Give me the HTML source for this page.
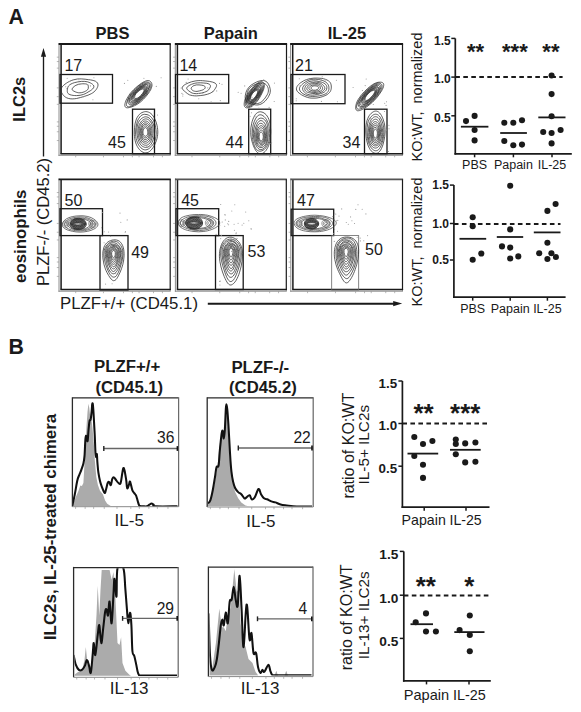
<!DOCTYPE html>
<html><head><meta charset="utf-8"><style>
html,body{margin:0;padding:0;background:#fff;width:581px;height:712px;overflow:hidden}
svg{display:block}
text{font-family:"Liberation Sans", sans-serif}
</style></head><body>
<svg width="581" height="712" viewBox="0 0 581 712">
<defs><clipPath id="c11"><rect x="61.5" y="45" width="108.5" height="108"/></clipPath><clipPath id="c12"><rect x="177.5" y="45" width="109.0" height="108"/></clipPath><clipPath id="c13"><rect x="293" y="45" width="109.5" height="108"/></clipPath><clipPath id="c21"><rect x="61.5" y="180.5" width="108.5" height="108.5"/></clipPath><clipPath id="c22"><rect x="177.5" y="180.5" width="108.69999999999999" height="108.5"/></clipPath><clipPath id="c23"><rect x="293" y="180.5" width="109.5" height="108.5"/></clipPath><clipPath id="h1"><rect x="73" y="398.7" width="105" height="107.60000000000002"/></clipPath><clipPath id="h2"><rect x="208" y="398.7" width="104.5" height="107.90000000000003"/></clipPath><clipPath id="h3"><rect x="74.4" y="568.3" width="103.1" height="107.70000000000005"/></clipPath><clipPath id="h4"><rect x="209.4" y="567.9" width="102.9" height="107.60000000000002"/></clipPath></defs>
<rect width="581" height="712" fill="#fff"/>
<text x="8.6" y="23.8" font-size="21.3" font-weight="bold" text-anchor="start" fill="#1a1a1a">A</text>
<text x="112.5" y="38.7" font-size="16.5" font-weight="bold" text-anchor="middle" fill="#1a1a1a">PBS</text>
<text x="230.8" y="38.7" font-size="16.5" font-weight="bold" text-anchor="middle" fill="#1a1a1a">Papain</text>
<text x="346.9" y="38.7" font-size="16.5" font-weight="bold" text-anchor="middle" fill="#1a1a1a">IL-25</text>
<text x="25" y="99.2" font-size="16.5" font-weight="bold" text-anchor="middle" fill="#1a1a1a" transform="rotate(-90 25 99.2)">ILC2s</text>
<text x="26" y="236.3" font-size="16.8" font-weight="bold" text-anchor="middle" fill="#1a1a1a" transform="rotate(-90 26 236.3)">eosinophils</text>
<text x="49.3" y="222" font-size="16.6" font-weight="normal" text-anchor="middle" fill="#1a1a1a" transform="rotate(-90 49.3 222)">PLZF-/- (CD45.2)</text>
<text x="60" y="308.5" font-size="16.8" font-weight="normal" text-anchor="start" fill="#1a1a1a">PLZF+/+ (CD45.1)</text>
<line x1="43.5" y1="156.5" x2="43.5" y2="55" stroke="#1a1a1a" stroke-width="1.35"/>
<path d="M43.5 48 L40.9 56.7 L46.1 56.7 Z" fill="#1a1a1a"/>
<line x1="207.8" y1="303.7" x2="394" y2="303.7" stroke="#1a1a1a" stroke-width="1.9"/>
<path d="M402.2 303.6 L393.2 301 L393.2 306.2 Z" fill="#1a1a1a"/>
<line x1="59" y1="43.2" x2="59" y2="155.89999999999998" stroke="#8c8c8c" stroke-width="1.0"/>
<line x1="58.5" y1="155.29999999999998" x2="170.7" y2="155.29999999999998" stroke="#8c8c8c" stroke-width="1.0"/>
<line x1="61.1" y1="44" x2="61.1" y2="153.7" stroke="#1a1a1a" stroke-width="1.5"/>
<line x1="58.6" y1="44" x2="170.79999999999998" y2="44" stroke="#1a1a1a" stroke-width="1.8"/>
<line x1="170.2" y1="44" x2="170.2" y2="154.39999999999998" stroke="#1a1a1a" stroke-width="1.2"/>
<line x1="60.4" y1="153.7" x2="170.79999999999998" y2="153.7" stroke="#1a1a1a" stroke-width="1.5"/>
<line x1="56.8" y1="140.536" x2="59" y2="140.536" stroke="#999" stroke-width="0.7"/>
<line x1="56.8" y1="131.76" x2="59" y2="131.76" stroke="#999" stroke-width="0.7"/>
<line x1="56.8" y1="126.27499999999999" x2="59" y2="126.27499999999999" stroke="#999" stroke-width="0.7"/>
<line x1="56.8" y1="121.887" x2="59" y2="121.887" stroke="#999" stroke-width="0.7"/>
<line x1="56.8" y1="104.335" x2="59" y2="104.335" stroke="#999" stroke-width="0.7"/>
<line x1="56.8" y1="96.65599999999999" x2="59" y2="96.65599999999999" stroke="#999" stroke-width="0.7"/>
<line x1="56.8" y1="87.88" x2="59" y2="87.88" stroke="#999" stroke-width="0.7"/>
<line x1="56.8" y1="68.134" x2="59" y2="68.134" stroke="#999" stroke-width="0.7"/>
<line x1="56.8" y1="61.55200000000001" x2="59" y2="61.55200000000001" stroke="#999" stroke-width="0.7"/>
<line x1="56.8" y1="57.164" x2="59" y2="57.164" stroke="#999" stroke-width="0.7"/>
<line x1="75.67999999999999" y1="155.29999999999998" x2="75.67999999999999" y2="157.29999999999998" stroke="#999" stroke-width="0.7"/>
<line x1="103.47999999999999" y1="155.29999999999998" x2="103.47999999999999" y2="157.29999999999998" stroke="#999" stroke-width="0.7"/>
<line x1="123.496" y1="155.29999999999998" x2="123.496" y2="157.29999999999998" stroke="#999" stroke-width="0.7"/>
<line x1="132.392" y1="155.29999999999998" x2="132.392" y2="157.29999999999998" stroke="#999" stroke-width="0.7"/>
<line x1="139.064" y1="155.29999999999998" x2="139.064" y2="157.29999999999998" stroke="#999" stroke-width="0.7"/>
<line x1="153.51999999999998" y1="155.29999999999998" x2="153.51999999999998" y2="157.29999999999998" stroke="#999" stroke-width="0.7"/>
<line x1="162.416" y1="155.29999999999998" x2="162.416" y2="157.29999999999998" stroke="#999" stroke-width="0.7"/>
<line x1="175.3" y1="43.2" x2="175.3" y2="155.89999999999998" stroke="#8c8c8c" stroke-width="1.0"/>
<line x1="174.8" y1="155.29999999999998" x2="287.0" y2="155.29999999999998" stroke="#8c8c8c" stroke-width="1.0"/>
<line x1="177.4" y1="44" x2="177.4" y2="153.7" stroke="#1a1a1a" stroke-width="1.5"/>
<line x1="174.9" y1="44" x2="287.1" y2="44" stroke="#1a1a1a" stroke-width="1.8"/>
<line x1="286.5" y1="44" x2="286.5" y2="154.39999999999998" stroke="#1a1a1a" stroke-width="1.2"/>
<line x1="176.70000000000002" y1="153.7" x2="287.1" y2="153.7" stroke="#1a1a1a" stroke-width="1.5"/>
<line x1="173.10000000000002" y1="140.536" x2="175.3" y2="140.536" stroke="#999" stroke-width="0.7"/>
<line x1="173.10000000000002" y1="131.76" x2="175.3" y2="131.76" stroke="#999" stroke-width="0.7"/>
<line x1="173.10000000000002" y1="126.27499999999999" x2="175.3" y2="126.27499999999999" stroke="#999" stroke-width="0.7"/>
<line x1="173.10000000000002" y1="121.887" x2="175.3" y2="121.887" stroke="#999" stroke-width="0.7"/>
<line x1="173.10000000000002" y1="104.335" x2="175.3" y2="104.335" stroke="#999" stroke-width="0.7"/>
<line x1="173.10000000000002" y1="96.65599999999999" x2="175.3" y2="96.65599999999999" stroke="#999" stroke-width="0.7"/>
<line x1="173.10000000000002" y1="87.88" x2="175.3" y2="87.88" stroke="#999" stroke-width="0.7"/>
<line x1="173.10000000000002" y1="68.134" x2="175.3" y2="68.134" stroke="#999" stroke-width="0.7"/>
<line x1="173.10000000000002" y1="61.55200000000001" x2="175.3" y2="61.55200000000001" stroke="#999" stroke-width="0.7"/>
<line x1="173.10000000000002" y1="57.164" x2="175.3" y2="57.164" stroke="#999" stroke-width="0.7"/>
<line x1="191.98000000000002" y1="155.29999999999998" x2="191.98000000000002" y2="157.29999999999998" stroke="#999" stroke-width="0.7"/>
<line x1="219.78" y1="155.29999999999998" x2="219.78" y2="157.29999999999998" stroke="#999" stroke-width="0.7"/>
<line x1="239.796" y1="155.29999999999998" x2="239.796" y2="157.29999999999998" stroke="#999" stroke-width="0.7"/>
<line x1="248.692" y1="155.29999999999998" x2="248.692" y2="157.29999999999998" stroke="#999" stroke-width="0.7"/>
<line x1="255.364" y1="155.29999999999998" x2="255.364" y2="157.29999999999998" stroke="#999" stroke-width="0.7"/>
<line x1="269.82" y1="155.29999999999998" x2="269.82" y2="157.29999999999998" stroke="#999" stroke-width="0.7"/>
<line x1="278.716" y1="155.29999999999998" x2="278.716" y2="157.29999999999998" stroke="#999" stroke-width="0.7"/>
<line x1="290.6" y1="43.2" x2="290.6" y2="155.89999999999998" stroke="#8c8c8c" stroke-width="1.0"/>
<line x1="290.1" y1="155.29999999999998" x2="403.0" y2="155.29999999999998" stroke="#8c8c8c" stroke-width="1.0"/>
<line x1="292.70000000000005" y1="44" x2="292.70000000000005" y2="153.7" stroke="#1a1a1a" stroke-width="1.5"/>
<line x1="290.20000000000005" y1="44" x2="403.1" y2="44" stroke="#1a1a1a" stroke-width="1.8"/>
<line x1="402.5" y1="44" x2="402.5" y2="154.39999999999998" stroke="#1a1a1a" stroke-width="1.2"/>
<line x1="292.0" y1="153.7" x2="403.1" y2="153.7" stroke="#1a1a1a" stroke-width="1.5"/>
<line x1="288.40000000000003" y1="140.536" x2="290.6" y2="140.536" stroke="#999" stroke-width="0.7"/>
<line x1="288.40000000000003" y1="131.76" x2="290.6" y2="131.76" stroke="#999" stroke-width="0.7"/>
<line x1="288.40000000000003" y1="126.27499999999999" x2="290.6" y2="126.27499999999999" stroke="#999" stroke-width="0.7"/>
<line x1="288.40000000000003" y1="121.887" x2="290.6" y2="121.887" stroke="#999" stroke-width="0.7"/>
<line x1="288.40000000000003" y1="104.335" x2="290.6" y2="104.335" stroke="#999" stroke-width="0.7"/>
<line x1="288.40000000000003" y1="96.65599999999999" x2="290.6" y2="96.65599999999999" stroke="#999" stroke-width="0.7"/>
<line x1="288.40000000000003" y1="87.88" x2="290.6" y2="87.88" stroke="#999" stroke-width="0.7"/>
<line x1="288.40000000000003" y1="68.134" x2="290.6" y2="68.134" stroke="#999" stroke-width="0.7"/>
<line x1="288.40000000000003" y1="61.55200000000001" x2="290.6" y2="61.55200000000001" stroke="#999" stroke-width="0.7"/>
<line x1="288.40000000000003" y1="57.164" x2="290.6" y2="57.164" stroke="#999" stroke-width="0.7"/>
<line x1="307.385" y1="155.29999999999998" x2="307.385" y2="157.29999999999998" stroke="#999" stroke-width="0.7"/>
<line x1="335.36" y1="155.29999999999998" x2="335.36" y2="157.29999999999998" stroke="#999" stroke-width="0.7"/>
<line x1="355.502" y1="155.29999999999998" x2="355.502" y2="157.29999999999998" stroke="#999" stroke-width="0.7"/>
<line x1="364.454" y1="155.29999999999998" x2="364.454" y2="157.29999999999998" stroke="#999" stroke-width="0.7"/>
<line x1="371.168" y1="155.29999999999998" x2="371.168" y2="157.29999999999998" stroke="#999" stroke-width="0.7"/>
<line x1="385.71500000000003" y1="155.29999999999998" x2="385.71500000000003" y2="157.29999999999998" stroke="#999" stroke-width="0.7"/>
<line x1="394.66700000000003" y1="155.29999999999998" x2="394.66700000000003" y2="157.29999999999998" stroke="#999" stroke-width="0.7"/>
<line x1="59" y1="178.5" x2="59" y2="291.8" stroke="#8c8c8c" stroke-width="1.0"/>
<line x1="58.5" y1="291.20000000000005" x2="170.7" y2="291.20000000000005" stroke="#8c8c8c" stroke-width="1.0"/>
<line x1="61.1" y1="179.3" x2="61.1" y2="289.6" stroke="#1a1a1a" stroke-width="1.5"/>
<line x1="58.6" y1="179.3" x2="170.79999999999998" y2="179.3" stroke="#1a1a1a" stroke-width="1.8"/>
<line x1="170.2" y1="179.3" x2="170.2" y2="290.3" stroke="#1a1a1a" stroke-width="1.2"/>
<line x1="60.4" y1="289.6" x2="170.79999999999998" y2="289.6" stroke="#1a1a1a" stroke-width="1.5"/>
<line x1="56.8" y1="276.36400000000003" x2="59" y2="276.36400000000003" stroke="#999" stroke-width="0.7"/>
<line x1="56.8" y1="267.54" x2="59" y2="267.54" stroke="#999" stroke-width="0.7"/>
<line x1="56.8" y1="262.02500000000003" x2="59" y2="262.02500000000003" stroke="#999" stroke-width="0.7"/>
<line x1="56.8" y1="257.613" x2="59" y2="257.613" stroke="#999" stroke-width="0.7"/>
<line x1="56.8" y1="239.96500000000003" x2="59" y2="239.96500000000003" stroke="#999" stroke-width="0.7"/>
<line x1="56.8" y1="232.24400000000003" x2="59" y2="232.24400000000003" stroke="#999" stroke-width="0.7"/>
<line x1="56.8" y1="223.42000000000002" x2="59" y2="223.42000000000002" stroke="#999" stroke-width="0.7"/>
<line x1="56.8" y1="203.56600000000003" x2="59" y2="203.56600000000003" stroke="#999" stroke-width="0.7"/>
<line x1="56.8" y1="196.94800000000004" x2="59" y2="196.94800000000004" stroke="#999" stroke-width="0.7"/>
<line x1="56.8" y1="192.536" x2="59" y2="192.536" stroke="#999" stroke-width="0.7"/>
<line x1="75.67999999999999" y1="291.20000000000005" x2="75.67999999999999" y2="293.20000000000005" stroke="#999" stroke-width="0.7"/>
<line x1="103.47999999999999" y1="291.20000000000005" x2="103.47999999999999" y2="293.20000000000005" stroke="#999" stroke-width="0.7"/>
<line x1="123.496" y1="291.20000000000005" x2="123.496" y2="293.20000000000005" stroke="#999" stroke-width="0.7"/>
<line x1="132.392" y1="291.20000000000005" x2="132.392" y2="293.20000000000005" stroke="#999" stroke-width="0.7"/>
<line x1="139.064" y1="291.20000000000005" x2="139.064" y2="293.20000000000005" stroke="#999" stroke-width="0.7"/>
<line x1="153.51999999999998" y1="291.20000000000005" x2="153.51999999999998" y2="293.20000000000005" stroke="#999" stroke-width="0.7"/>
<line x1="162.416" y1="291.20000000000005" x2="162.416" y2="293.20000000000005" stroke="#999" stroke-width="0.7"/>
<line x1="175.4" y1="178.5" x2="175.4" y2="291.8" stroke="#8c8c8c" stroke-width="1.0"/>
<line x1="174.9" y1="291.20000000000005" x2="286.8" y2="291.20000000000005" stroke="#8c8c8c" stroke-width="1.0"/>
<line x1="177.5" y1="179.3" x2="177.5" y2="289.6" stroke="#1a1a1a" stroke-width="1.5"/>
<line x1="175.0" y1="179.3" x2="286.90000000000003" y2="179.3" stroke="#555" stroke-width="1.8"/>
<line x1="286.3" y1="179.3" x2="286.3" y2="290.3" stroke="#1a1a1a" stroke-width="1.2"/>
<line x1="176.8" y1="289.6" x2="286.90000000000003" y2="289.6" stroke="#1a1a1a" stroke-width="1.5"/>
<line x1="173.20000000000002" y1="276.36400000000003" x2="175.4" y2="276.36400000000003" stroke="#999" stroke-width="0.7"/>
<line x1="173.20000000000002" y1="267.54" x2="175.4" y2="267.54" stroke="#999" stroke-width="0.7"/>
<line x1="173.20000000000002" y1="262.02500000000003" x2="175.4" y2="262.02500000000003" stroke="#999" stroke-width="0.7"/>
<line x1="173.20000000000002" y1="257.613" x2="175.4" y2="257.613" stroke="#999" stroke-width="0.7"/>
<line x1="173.20000000000002" y1="239.96500000000003" x2="175.4" y2="239.96500000000003" stroke="#999" stroke-width="0.7"/>
<line x1="173.20000000000002" y1="232.24400000000003" x2="175.4" y2="232.24400000000003" stroke="#999" stroke-width="0.7"/>
<line x1="173.20000000000002" y1="223.42000000000002" x2="175.4" y2="223.42000000000002" stroke="#999" stroke-width="0.7"/>
<line x1="173.20000000000002" y1="203.56600000000003" x2="175.4" y2="203.56600000000003" stroke="#999" stroke-width="0.7"/>
<line x1="173.20000000000002" y1="196.94800000000004" x2="175.4" y2="196.94800000000004" stroke="#999" stroke-width="0.7"/>
<line x1="173.20000000000002" y1="192.536" x2="175.4" y2="192.536" stroke="#999" stroke-width="0.7"/>
<line x1="192.035" y1="291.20000000000005" x2="192.035" y2="293.20000000000005" stroke="#999" stroke-width="0.7"/>
<line x1="219.76000000000002" y1="291.20000000000005" x2="219.76000000000002" y2="293.20000000000005" stroke="#999" stroke-width="0.7"/>
<line x1="239.722" y1="291.20000000000005" x2="239.722" y2="293.20000000000005" stroke="#999" stroke-width="0.7"/>
<line x1="248.594" y1="291.20000000000005" x2="248.594" y2="293.20000000000005" stroke="#999" stroke-width="0.7"/>
<line x1="255.248" y1="291.20000000000005" x2="255.248" y2="293.20000000000005" stroke="#999" stroke-width="0.7"/>
<line x1="269.665" y1="291.20000000000005" x2="269.665" y2="293.20000000000005" stroke="#999" stroke-width="0.7"/>
<line x1="278.53700000000003" y1="291.20000000000005" x2="278.53700000000003" y2="293.20000000000005" stroke="#999" stroke-width="0.7"/>
<line x1="290.8" y1="178.5" x2="290.8" y2="291.8" stroke="#8c8c8c" stroke-width="1.0"/>
<line x1="290.3" y1="291.20000000000005" x2="403.0" y2="291.20000000000005" stroke="#8c8c8c" stroke-width="1.0"/>
<line x1="292.90000000000003" y1="179.3" x2="292.90000000000003" y2="289.6" stroke="#1a1a1a" stroke-width="1.5"/>
<line x1="290.40000000000003" y1="179.3" x2="403.1" y2="179.3" stroke="#555" stroke-width="1.8"/>
<line x1="402.5" y1="179.3" x2="402.5" y2="290.3" stroke="#1a1a1a" stroke-width="1.2"/>
<line x1="292.2" y1="289.6" x2="403.1" y2="289.6" stroke="#1a1a1a" stroke-width="1.5"/>
<line x1="288.6" y1="276.36400000000003" x2="290.8" y2="276.36400000000003" stroke="#999" stroke-width="0.7"/>
<line x1="288.6" y1="267.54" x2="290.8" y2="267.54" stroke="#999" stroke-width="0.7"/>
<line x1="288.6" y1="262.02500000000003" x2="290.8" y2="262.02500000000003" stroke="#999" stroke-width="0.7"/>
<line x1="288.6" y1="257.613" x2="290.8" y2="257.613" stroke="#999" stroke-width="0.7"/>
<line x1="288.6" y1="239.96500000000003" x2="290.8" y2="239.96500000000003" stroke="#999" stroke-width="0.7"/>
<line x1="288.6" y1="232.24400000000003" x2="290.8" y2="232.24400000000003" stroke="#999" stroke-width="0.7"/>
<line x1="288.6" y1="223.42000000000002" x2="290.8" y2="223.42000000000002" stroke="#999" stroke-width="0.7"/>
<line x1="288.6" y1="203.56600000000003" x2="290.8" y2="203.56600000000003" stroke="#999" stroke-width="0.7"/>
<line x1="288.6" y1="196.94800000000004" x2="290.8" y2="196.94800000000004" stroke="#999" stroke-width="0.7"/>
<line x1="288.6" y1="192.536" x2="290.8" y2="192.536" stroke="#999" stroke-width="0.7"/>
<line x1="307.555" y1="291.20000000000005" x2="307.555" y2="293.20000000000005" stroke="#999" stroke-width="0.7"/>
<line x1="335.48" y1="291.20000000000005" x2="335.48" y2="293.20000000000005" stroke="#999" stroke-width="0.7"/>
<line x1="355.586" y1="291.20000000000005" x2="355.586" y2="293.20000000000005" stroke="#999" stroke-width="0.7"/>
<line x1="364.522" y1="291.20000000000005" x2="364.522" y2="293.20000000000005" stroke="#999" stroke-width="0.7"/>
<line x1="371.224" y1="291.20000000000005" x2="371.224" y2="293.20000000000005" stroke="#999" stroke-width="0.7"/>
<line x1="385.745" y1="291.20000000000005" x2="385.745" y2="293.20000000000005" stroke="#999" stroke-width="0.7"/>
<line x1="394.68100000000004" y1="291.20000000000005" x2="394.68100000000004" y2="293.20000000000005" stroke="#999" stroke-width="0.7"/>
<rect x="60" y="74.5" width="52.5" height="28.700000000000003" stroke="#1a1a1a" stroke-width="1.3" fill="none"/>
<rect x="132.5" y="109.2" width="22.0" height="44.499999999999986" stroke="#1a1a1a" stroke-width="1.3" fill="none"/>
<rect x="175.5" y="74.5" width="53.19999999999999" height="28.700000000000003" stroke="#1a1a1a" stroke-width="1.3" fill="none"/>
<rect x="248.7" y="109.2" width="22.0" height="44.499999999999986" stroke="#1a1a1a" stroke-width="1.3" fill="none"/>
<rect x="291" y="74.5" width="54" height="29.200000000000003" stroke="#1a1a1a" stroke-width="1.3" fill="none"/>
<rect x="364.5" y="109.2" width="22.5" height="44.499999999999986" stroke="#1a1a1a" stroke-width="1.3" fill="none"/>
<rect x="60" y="208.7" width="42.5" height="26.900000000000006" stroke="#1a1a1a" stroke-width="1.3" fill="none"/>
<rect x="100" y="235.6" width="28" height="54.400000000000006" stroke="#1a1a1a" stroke-width="1.3" fill="none"/>
<rect x="176" y="208.7" width="42.69999999999999" height="26.900000000000006" stroke="#1a1a1a" stroke-width="1.3" fill="none"/>
<rect x="215.5" y="235.6" width="27.69999999999999" height="53.900000000000006" stroke="#1a1a1a" stroke-width="1.3" fill="none"/>
<rect x="291.2" y="209.2" width="42.5" height="26.400000000000006" stroke="#1a1a1a" stroke-width="1.3" fill="none"/>
<rect x="331.7" y="235.6" width="27.0" height="54.400000000000006" stroke="#666" stroke-width="0.8" fill="none"/>
<g clip-path="url(#c11)">
<path d="M98.0 85.1C98.0 85.9 97.7 86.7 97.4 87.4C97.1 88.2 96.6 88.9 96.1 89.7C95.5 90.4 94.9 91.1 94.1 91.8C93.3 92.5 92.4 93.1 91.3 93.7C90.3 94.3 89.1 94.8 88.0 95.2C86.8 95.7 85.6 96.0 84.3 96.4C83.1 96.8 81.9 97.2 80.6 97.5C79.3 97.8 77.9 98.2 76.5 98.5C75.1 98.7 73.6 98.9 72.2 98.9C70.8 98.9 69.4 98.7 68.3 98.4C67.1 98.1 66.2 97.6 65.4 97.1C64.6 96.6 64.0 96.0 63.5 95.4C63.0 94.8 62.5 94.2 62.2 93.5C61.8 92.9 61.4 92.3 61.2 91.6C61.0 91.0 60.8 90.3 60.9 89.5C61.1 88.8 61.4 88.1 61.9 87.3C62.3 86.6 63.0 85.9 63.8 85.2C64.6 84.5 65.4 83.8 66.4 83.2C67.3 82.6 68.3 81.9 69.5 81.4C70.6 80.8 71.9 80.3 73.2 79.9C74.5 79.5 76.0 79.2 77.3 79.0C78.7 78.8 80.1 78.9 81.4 78.9C82.7 78.9 83.9 79.1 85.1 79.2C86.3 79.4 87.4 79.5 88.6 79.7C89.7 79.8 91.0 79.9 92.1 80.2C93.3 80.5 94.5 80.8 95.4 81.2C96.3 81.7 97.0 82.3 97.5 83.0C97.9 83.6 98.1 84.4 98.0 85.1Z" fill="none" stroke="#2a2a2a" stroke-width="0.75"/>
<path d="M93.8 85.9C94.0 86.5 93.9 87.3 93.5 87.9C93.1 88.6 92.3 89.3 91.5 89.9C90.8 90.5 89.9 91.0 89.0 91.5C88.2 92.0 87.4 92.5 86.5 93.0C85.6 93.5 84.7 94.0 83.6 94.4C82.5 94.8 81.3 95.1 80.1 95.3C79.0 95.5 77.7 95.6 76.5 95.6C75.3 95.6 74.1 95.5 73.1 95.4C72.0 95.2 70.8 95.0 70.0 94.7C69.1 94.3 68.4 93.8 67.9 93.3C67.5 92.8 67.4 92.1 67.3 91.5C67.2 90.9 67.3 90.3 67.4 89.7C67.5 89.0 67.5 88.5 67.7 87.8C67.9 87.2 68.1 86.5 68.7 85.8C69.2 85.2 70.0 84.5 71.0 84.0C71.9 83.5 73.1 83.1 74.3 82.7C75.4 82.4 76.6 82.2 77.8 81.9C79.0 81.7 80.2 81.5 81.3 81.4C82.5 81.4 83.7 81.3 84.8 81.4C85.9 81.5 86.9 81.7 87.8 81.9C88.7 82.2 89.5 82.6 90.3 82.9C91.1 83.3 91.9 83.7 92.4 84.2C93.0 84.7 93.6 85.3 93.8 85.9Z" fill="none" stroke="#2a2a2a" stroke-width="0.75"/>
<path d="M88.3 86.9C88.3 87.4 88.4 87.8 88.3 88.3C88.1 88.8 88.0 89.4 87.5 89.8C87.0 90.3 86.3 90.8 85.5 91.2C84.8 91.6 83.8 92.0 82.9 92.3C81.9 92.5 80.9 92.8 79.9 92.8C79.0 92.9 78.0 92.7 77.2 92.5C76.5 92.4 75.9 92.0 75.2 91.8C74.6 91.5 73.9 91.3 73.4 90.9C72.9 90.6 72.3 90.2 72.2 89.7C72.0 89.3 72.2 88.7 72.5 88.1C72.8 87.6 73.4 87.1 74.0 86.6C74.5 86.2 75.2 85.7 75.9 85.3C76.7 84.9 77.6 84.6 78.5 84.3C79.4 84.1 80.4 84.0 81.3 83.9C82.3 83.8 83.3 83.7 84.2 83.8C85.1 83.8 86.1 83.9 86.8 84.2C87.4 84.5 87.9 85.0 88.1 85.4C88.4 85.9 88.3 86.4 88.3 86.9Z" fill="none" stroke="#2a2a2a" stroke-width="0.75"/>
<path d="M150.9 82.0C151.2 82.4 151.5 82.8 151.7 83.3C151.8 83.8 152.0 84.4 152.0 85.0C152.0 85.7 151.9 86.5 151.6 87.3C151.4 88.1 151.0 89.1 150.5 90.1C149.9 91.0 149.3 92.1 148.6 93.1C147.9 94.1 147.1 95.2 146.2 96.2C145.4 97.2 144.5 98.2 143.5 99.2C142.6 100.2 141.5 101.1 140.5 102.0C139.5 102.8 138.4 103.5 137.4 104.2C136.4 104.8 135.4 105.3 134.5 105.7C133.6 106.2 132.7 106.5 131.9 106.8C131.0 107.1 130.2 107.3 129.5 107.5C128.7 107.7 127.9 107.8 127.3 107.8C126.6 107.7 126.0 107.6 125.6 107.3C125.2 106.9 125.0 106.4 124.9 105.9C124.7 105.3 124.8 104.5 125.0 103.7C125.1 103.0 125.4 102.1 125.7 101.2C126.0 100.3 126.5 99.4 127.0 98.5C127.5 97.5 128.1 96.5 128.8 95.5C129.4 94.5 130.2 93.4 131.1 92.4C131.9 91.5 132.9 90.5 133.8 89.5C134.8 88.6 135.8 87.7 136.8 86.8C137.8 86.0 138.8 85.2 139.8 84.4C140.8 83.7 141.9 82.9 142.9 82.4C143.9 81.8 144.9 81.3 145.7 81.0C146.6 80.7 147.4 80.6 148.1 80.6C148.8 80.6 149.3 80.8 149.8 81.0C150.2 81.3 150.6 81.6 150.9 82.0Z" fill="none" stroke="#2a2a2a" stroke-width="0.75"/>
<path d="M149.8 83.1C150.2 83.4 150.5 83.8 150.7 84.3C150.9 84.7 151.0 85.3 150.9 86.0C150.9 86.7 150.7 87.6 150.3 88.4C149.9 89.3 149.4 90.3 148.8 91.3C148.2 92.2 147.5 93.2 146.8 94.2C146.0 95.2 145.2 96.2 144.4 97.1C143.5 98.1 142.6 99.0 141.6 99.9C140.7 100.8 139.6 101.6 138.7 102.3C137.7 103.0 136.7 103.6 135.8 104.1C134.8 104.7 133.9 105.2 133.0 105.5C132.2 105.9 131.3 106.3 130.5 106.5C129.7 106.7 128.9 106.8 128.3 106.8C127.7 106.7 127.2 106.4 126.9 106.0C126.6 105.6 126.5 105.0 126.4 104.4C126.4 103.7 126.6 103.0 126.8 102.2C127.0 101.4 127.3 100.6 127.6 99.8C127.9 98.9 128.3 98.0 128.8 97.1C129.3 96.2 130.0 95.2 130.7 94.2C131.4 93.3 132.2 92.3 133.0 91.3C133.9 90.4 134.8 89.4 135.8 88.5C136.7 87.6 137.7 86.8 138.7 86.0C139.7 85.2 140.7 84.5 141.7 83.9C142.7 83.3 143.7 82.8 144.5 82.5C145.4 82.2 146.2 82.0 146.9 82.0C147.5 82.0 148.1 82.2 148.6 82.3C149.0 82.5 149.5 82.8 149.8 83.1Z" fill="none" stroke="#2a2a2a" stroke-width="0.75"/>
<path d="M149.3 83.6C149.6 84.0 149.8 84.5 149.8 85.1C149.8 85.6 149.7 86.4 149.5 87.1C149.3 87.9 148.9 88.7 148.6 89.5C148.2 90.3 147.9 91.1 147.4 92.0C146.9 92.8 146.3 93.8 145.7 94.7C145.0 95.6 144.2 96.6 143.4 97.5C142.6 98.3 141.6 99.2 140.7 100.0C139.8 100.8 138.8 101.5 137.9 102.2C137.0 102.8 136.0 103.4 135.2 103.9C134.3 104.3 133.4 104.7 132.7 104.9C131.9 105.1 131.2 105.1 130.7 105.1C130.1 105.0 129.7 104.8 129.3 104.6C128.9 104.3 128.6 104.0 128.4 103.6C128.2 103.2 127.9 102.8 127.9 102.2C127.8 101.7 127.8 101.0 128.0 100.3C128.1 99.6 128.5 98.7 128.9 97.8C129.4 96.9 130.1 95.9 130.8 95.0C131.4 94.1 132.2 93.2 133.0 92.3C133.8 91.4 134.7 90.5 135.6 89.7C136.4 88.8 137.3 88.0 138.3 87.3C139.2 86.6 140.1 85.9 141.0 85.3C141.9 84.8 142.8 84.4 143.6 84.0C144.4 83.7 145.2 83.4 145.9 83.3C146.6 83.1 147.3 83.0 147.9 83.1C148.5 83.1 149.0 83.3 149.3 83.6Z" fill="none" stroke="#2a2a2a" stroke-width="0.75"/>
<path d="M148.3 84.6C148.7 84.9 149.0 85.3 149.1 85.8C149.1 86.4 149.0 87.1 148.8 87.9C148.5 88.6 148.1 89.5 147.6 90.4C147.1 91.2 146.6 92.1 146.0 93.0C145.4 93.8 144.8 94.7 144.1 95.6C143.4 96.5 142.6 97.4 141.7 98.2C140.9 99.1 139.9 99.9 139.0 100.6C138.1 101.2 137.2 101.8 136.3 102.3C135.5 102.8 134.6 103.2 133.8 103.5C133.1 103.8 132.3 104.0 131.7 104.1C131.1 104.1 130.5 104.0 130.1 103.7C129.8 103.5 129.5 103.1 129.3 102.7C129.1 102.2 129.1 101.7 129.1 101.1C129.0 100.5 129.1 99.9 129.3 99.1C129.5 98.4 129.8 97.5 130.3 96.7C130.8 95.8 131.6 94.8 132.3 93.9C133.0 93.0 133.9 92.1 134.7 91.2C135.6 90.4 136.5 89.6 137.3 88.9C138.2 88.2 139.1 87.4 140.0 86.8C140.9 86.2 141.8 85.7 142.6 85.3C143.4 84.9 144.2 84.6 144.9 84.4C145.6 84.2 146.3 84.1 146.9 84.2C147.4 84.2 148.0 84.3 148.3 84.6Z" fill="none" stroke="#2a2a2a" stroke-width="0.75"/>
<path d="M147.5 85.5C147.7 85.8 147.8 86.4 147.8 86.9C147.8 87.5 147.7 88.1 147.5 88.8C147.3 89.5 147.1 90.2 146.8 90.9C146.4 91.7 145.9 92.6 145.4 93.4C144.8 94.3 144.0 95.2 143.3 96.0C142.5 96.8 141.7 97.6 140.9 98.4C140.0 99.1 139.1 99.8 138.3 100.4C137.5 101.0 136.6 101.5 135.8 101.9C135.0 102.3 134.3 102.5 133.6 102.7C133.0 102.8 132.4 102.8 131.9 102.8C131.4 102.7 130.9 102.6 130.6 102.4C130.2 102.1 129.8 101.8 129.7 101.4C129.6 100.9 129.6 100.3 129.8 99.6C130.0 98.9 130.4 98.0 130.9 97.2C131.4 96.3 132.0 95.5 132.6 94.6C133.2 93.8 133.9 92.9 134.7 92.1C135.4 91.3 136.2 90.5 137.0 89.8C137.8 89.0 138.7 88.3 139.5 87.7C140.3 87.2 141.2 86.6 142.0 86.2C142.8 85.8 143.6 85.4 144.3 85.2C145.0 84.9 145.8 84.8 146.3 84.8C146.8 84.9 147.2 85.1 147.5 85.5Z" fill="none" stroke="#2a2a2a" stroke-width="0.75"/>
<path d="M146.4 86.5C146.6 86.9 146.7 87.4 146.7 87.9C146.7 88.4 146.7 88.9 146.5 89.5C146.4 90.1 146.2 90.8 145.9 91.5C145.5 92.2 145.1 93.1 144.5 93.9C143.9 94.7 143.1 95.5 142.4 96.3C141.7 97.0 140.9 97.8 140.1 98.4C139.3 99.1 138.4 99.7 137.7 100.2C136.9 100.7 136.1 101.1 135.4 101.4C134.7 101.7 134.1 101.8 133.5 101.8C133.0 101.9 132.5 101.8 132.1 101.7C131.6 101.6 131.2 101.4 131.0 101.1C130.8 100.7 130.7 100.2 130.8 99.6C130.9 99.0 131.2 98.3 131.5 97.5C131.9 96.8 132.4 96.0 132.9 95.2C133.4 94.5 134.0 93.7 134.6 92.9C135.2 92.1 136.0 91.3 136.7 90.6C137.4 89.9 138.3 89.1 139.1 88.5C139.9 87.9 140.7 87.4 141.5 87.0C142.2 86.6 143.0 86.2 143.7 86.0C144.3 85.8 145.0 85.7 145.4 85.8C145.9 85.9 146.2 86.2 146.4 86.5Z" fill="none" stroke="#2a2a2a" stroke-width="0.75"/>
<path d="M145.8 87.2C146.0 87.5 146.0 88.0 146.1 88.4C146.1 88.9 146.1 89.4 145.9 90.0C145.7 90.6 145.5 91.3 145.1 92.0C144.7 92.7 144.2 93.5 143.6 94.3C143.0 95.0 142.3 95.8 141.6 96.5C140.9 97.2 140.1 97.9 139.4 98.5C138.6 99.1 137.8 99.6 137.1 100.0C136.4 100.3 135.8 100.5 135.2 100.7C134.6 100.8 134.1 100.9 133.6 100.9C133.1 100.9 132.6 100.8 132.3 100.6C132.0 100.4 131.7 100.1 131.6 99.7C131.6 99.2 131.7 98.6 131.9 98.0C132.1 97.3 132.5 96.6 132.9 95.8C133.4 95.1 133.9 94.3 134.5 93.6C135.1 92.8 135.8 92.1 136.5 91.4C137.2 90.7 138.0 90.1 138.7 89.5C139.4 88.9 140.2 88.4 140.9 88.0C141.6 87.6 142.4 87.1 143.0 86.9C143.7 86.6 144.3 86.5 144.8 86.6C145.2 86.6 145.5 86.9 145.8 87.2Z" fill="none" stroke="#2a2a2a" stroke-width="0.75"/>
<path d="M145.0 88.0C145.2 88.3 145.3 88.7 145.3 89.1C145.3 89.5 145.3 90.0 145.1 90.6C144.9 91.2 144.6 91.8 144.2 92.5C143.8 93.2 143.3 93.9 142.8 94.6C142.2 95.3 141.5 96.0 140.9 96.7C140.2 97.3 139.4 98.0 138.7 98.5C138.0 99.0 137.3 99.3 136.7 99.6C136.1 99.8 135.5 99.9 135.0 100.0C134.5 100.1 134.0 100.1 133.6 100.1C133.3 100.0 132.9 99.8 132.7 99.5C132.6 99.1 132.6 98.6 132.7 98.1C132.8 97.6 133.0 96.9 133.4 96.3C133.7 95.6 134.1 94.9 134.6 94.2C135.1 93.5 135.7 92.8 136.3 92.1C137.0 91.5 137.7 90.8 138.4 90.3C139.1 89.7 139.8 89.2 140.5 88.7C141.1 88.3 141.9 87.8 142.5 87.6C143.1 87.4 143.7 87.3 144.1 87.3C144.5 87.4 144.8 87.7 145.0 88.0Z" fill="none" stroke="#2a2a2a" stroke-width="0.75"/>
<path d="M144.4 88.6C144.6 88.9 144.7 89.2 144.7 89.7C144.7 90.1 144.6 90.7 144.3 91.3C144.0 91.9 143.6 92.6 143.1 93.3C142.7 93.9 142.1 94.6 141.6 95.3C141.0 96.0 140.3 96.7 139.6 97.3C138.9 97.8 138.2 98.3 137.5 98.7C136.9 99.0 136.3 99.1 135.8 99.2C135.3 99.3 134.8 99.3 134.5 99.2C134.1 99.1 133.8 98.9 133.7 98.5C133.6 98.2 133.6 97.7 133.7 97.2C133.8 96.7 134.0 96.1 134.4 95.4C134.7 94.8 135.2 94.0 135.7 93.3C136.3 92.7 137.0 92.0 137.6 91.4C138.3 90.8 139.0 90.3 139.7 89.8C140.3 89.4 141.0 88.9 141.7 88.7C142.3 88.4 142.9 88.2 143.3 88.2C143.8 88.2 144.1 88.3 144.4 88.6Z" fill="none" stroke="#2a2a2a" stroke-width="0.75"/>
<path d="M143.6 89.3C143.8 89.6 144.0 89.9 144.0 90.3C144.0 90.7 143.8 91.2 143.6 91.8C143.3 92.4 142.8 93.0 142.4 93.6C141.9 94.2 141.4 94.9 140.8 95.4C140.3 96.0 139.6 96.7 139.0 97.1C138.4 97.6 137.7 98.0 137.2 98.2C136.6 98.4 136.1 98.5 135.7 98.5C135.3 98.5 135.0 98.4 134.8 98.2C134.6 98.0 134.5 97.6 134.6 97.2C134.6 96.7 134.7 96.2 134.9 95.7C135.1 95.2 135.4 94.5 135.8 93.9C136.3 93.3 136.9 92.6 137.5 92.1C138.0 91.5 138.7 91.0 139.3 90.6C139.9 90.1 140.6 89.7 141.1 89.5C141.7 89.2 142.2 89.1 142.6 89.0C143.1 89.0 143.4 89.1 143.6 89.3Z" fill="none" stroke="#2a2a2a" stroke-width="0.75"/>
<path d="M157.8 132.0C157.8 133.5 157.6 135.1 157.4 136.6C157.2 138.1 156.8 139.5 156.3 140.8C155.9 142.1 155.4 143.3 154.8 144.5C154.2 145.6 153.6 146.7 153.0 147.6C152.3 148.6 151.6 149.6 150.9 150.3C150.1 151.1 149.3 151.7 148.4 152.2C147.6 152.6 146.7 152.8 145.8 152.8C144.9 152.9 144.0 152.7 143.1 152.3C142.3 151.9 141.4 151.4 140.6 150.7C139.8 150.0 139.1 149.2 138.4 148.2C137.7 147.2 137.0 146.1 136.5 144.9C136.0 143.7 135.5 142.3 135.2 140.9C134.8 139.5 134.6 138.0 134.5 136.5C134.3 135.0 134.3 133.5 134.3 132.0C134.3 130.5 134.4 129.0 134.5 127.5C134.7 126.1 134.9 124.5 135.2 123.1C135.5 121.7 135.9 120.3 136.4 119.0C136.9 117.8 137.6 116.6 138.3 115.7C139.0 114.7 139.8 114.0 140.6 113.4C141.4 112.8 142.3 112.4 143.2 112.1C144.0 111.8 144.9 111.6 145.8 111.6C146.7 111.6 147.6 111.8 148.4 112.1C149.3 112.4 150.1 112.9 150.9 113.5C151.7 114.2 152.5 115.0 153.1 116.0C153.8 116.9 154.4 118.1 155.0 119.3C155.5 120.4 156.0 121.7 156.4 123.1C156.8 124.5 157.2 125.9 157.4 127.4C157.6 128.9 157.8 130.5 157.8 132.0Z" fill="none" stroke="#2a2a2a" stroke-width="0.75"/>
<path d="M156.2 132.0C156.2 133.4 156.2 135.0 156.0 136.4C155.8 137.8 155.4 139.2 155.0 140.4C154.6 141.7 154.0 142.8 153.4 143.8C152.8 144.8 152.1 145.6 151.4 146.4C150.8 147.1 150.1 147.8 149.3 148.4C148.6 148.9 147.8 149.4 147.0 149.6C146.2 149.9 145.3 150.0 144.5 149.8C143.7 149.7 142.8 149.3 142.1 148.8C141.3 148.3 140.6 147.5 139.9 146.7C139.2 145.9 138.6 144.9 138.0 143.8C137.5 142.8 137.0 141.6 136.6 140.3C136.2 139.1 135.9 137.7 135.8 136.3C135.6 134.9 135.5 133.4 135.6 132.0C135.6 130.6 135.7 129.2 135.9 127.8C136.1 126.4 136.4 125.1 136.7 123.8C137.0 122.5 137.4 121.1 137.9 120.0C138.5 118.9 139.1 117.8 139.8 117.0C140.4 116.1 141.2 115.5 142.0 115.0C142.8 114.6 143.7 114.4 144.5 114.3C145.3 114.3 146.2 114.4 147.0 114.6C147.8 114.8 148.6 115.1 149.3 115.6C150.1 116.1 150.8 116.7 151.5 117.5C152.2 118.3 152.8 119.2 153.4 120.3C153.9 121.3 154.4 122.5 154.8 123.8C155.2 125.0 155.5 126.3 155.7 127.7C156.0 129.1 156.1 130.6 156.2 132.0Z" fill="none" stroke="#2a2a2a" stroke-width="0.75"/>
<path d="M154.7 132.0C154.6 133.3 154.4 134.7 154.2 136.0C153.9 137.2 153.6 138.4 153.2 139.6C152.8 140.7 152.4 141.8 151.9 142.8C151.4 143.7 150.8 144.7 150.1 145.4C149.5 146.1 148.7 146.7 148.0 147.0C147.2 147.3 146.4 147.5 145.7 147.4C144.9 147.4 144.1 147.2 143.4 146.8C142.6 146.5 141.9 146.0 141.2 145.3C140.6 144.7 140.0 143.8 139.4 142.8C138.9 141.9 138.5 140.7 138.1 139.6C137.8 138.4 137.5 137.2 137.3 135.9C137.1 134.6 136.9 133.3 136.9 132.0C136.8 130.7 136.8 129.3 137.0 127.9C137.1 126.6 137.4 125.3 137.8 124.1C138.2 122.9 138.7 121.8 139.3 120.9C139.9 120.1 140.6 119.3 141.3 118.7C142.0 118.1 142.7 117.7 143.4 117.4C144.2 117.0 144.9 116.8 145.7 116.8C146.4 116.8 147.2 117.0 147.9 117.3C148.7 117.6 149.4 118.2 150.0 118.8C150.7 119.5 151.3 120.3 151.9 121.2C152.5 122.1 153.0 123.1 153.4 124.2C153.8 125.4 154.2 126.6 154.4 127.9C154.6 129.2 154.7 130.7 154.7 132.0Z" fill="none" stroke="#2a2a2a" stroke-width="0.75"/>
<path d="M153.1 132.0C153.1 133.2 152.9 134.4 152.7 135.6C152.5 136.7 152.2 137.9 151.8 138.9C151.5 140.0 151.1 141.0 150.6 141.9C150.1 142.8 149.4 143.6 148.8 144.1C148.2 144.7 147.4 145.0 146.7 145.2C146.0 145.3 145.2 145.2 144.5 145.1C143.8 144.9 143.1 144.5 142.5 144.0C141.8 143.5 141.2 142.8 140.7 141.9C140.1 141.1 139.7 140.1 139.3 139.0C139.0 138.0 138.7 136.8 138.5 135.6C138.3 134.5 138.1 133.2 138.1 132.0C138.0 130.8 138.1 129.4 138.3 128.2C138.4 127.0 138.8 125.8 139.2 124.8C139.6 123.8 140.2 122.9 140.7 122.2C141.3 121.4 141.9 120.8 142.5 120.3C143.2 119.8 143.9 119.4 144.6 119.1C145.2 118.9 146.0 118.8 146.7 119.0C147.4 119.1 148.1 119.5 148.8 120.0C149.4 120.5 150.1 121.2 150.6 122.0C151.2 122.8 151.7 123.7 152.1 124.8C152.5 125.8 152.8 127.0 153.0 128.2C153.2 129.4 153.2 130.8 153.1 132.0Z" fill="none" stroke="#2a2a2a" stroke-width="0.75"/>
<path d="M151.9 132.0C151.9 133.1 151.7 134.3 151.5 135.4C151.3 136.4 151.1 137.5 150.7 138.5C150.3 139.4 149.9 140.3 149.3 141.0C148.8 141.7 148.2 142.2 147.6 142.6C146.9 143.0 146.2 143.2 145.6 143.2C144.9 143.2 144.2 143.0 143.6 142.7C142.9 142.3 142.3 141.7 141.8 141.0C141.3 140.3 140.9 139.3 140.5 138.4C140.2 137.4 139.9 136.4 139.7 135.3C139.5 134.3 139.3 133.1 139.2 132.0C139.2 130.9 139.2 129.6 139.4 128.5C139.6 127.4 139.9 126.3 140.3 125.4C140.7 124.5 141.3 123.6 141.8 123.0C142.3 122.3 143.0 121.8 143.6 121.4C144.2 121.1 144.9 120.9 145.6 121.0C146.2 121.0 146.9 121.3 147.5 121.6C148.1 122.0 148.7 122.5 149.3 123.2C149.8 123.8 150.4 124.5 150.8 125.4C151.2 126.3 151.5 127.4 151.7 128.5C151.9 129.6 152.0 130.9 151.9 132.0Z" fill="none" stroke="#2a2a2a" stroke-width="0.75"/>
<path d="M150.8 132.0C150.7 133.1 150.6 134.1 150.4 135.1C150.2 136.1 149.9 137.1 149.6 137.9C149.2 138.7 148.7 139.4 148.2 140.0C147.7 140.5 147.1 140.9 146.5 141.1C145.9 141.4 145.2 141.5 144.6 141.3C144.0 141.1 143.3 140.7 142.8 140.1C142.3 139.5 141.9 138.7 141.5 137.8C141.2 137.0 140.9 136.1 140.6 135.1C140.4 134.1 140.2 133.0 140.2 132.0C140.2 131.0 140.3 129.8 140.5 128.8C140.7 127.8 141.1 126.9 141.5 126.1C141.8 125.3 142.3 124.5 142.9 124.0C143.4 123.5 144.0 123.1 144.6 122.9C145.2 122.7 145.8 122.8 146.4 123.0C147.0 123.2 147.6 123.6 148.2 124.1C148.7 124.5 149.3 125.2 149.7 126.0C150.1 126.7 150.4 127.8 150.6 128.8C150.8 129.8 150.8 130.9 150.8 132.0Z" fill="none" stroke="#2a2a2a" stroke-width="0.75"/>
<path d="M149.9 132.0C149.8 132.9 149.7 133.9 149.6 134.7C149.4 135.6 149.1 136.4 148.7 137.1C148.3 137.7 147.9 138.3 147.4 138.7C146.9 139.1 146.4 139.4 145.9 139.5C145.4 139.6 144.8 139.7 144.3 139.5C143.7 139.3 143.2 138.8 142.8 138.2C142.4 137.6 142.1 136.8 141.8 136.0C141.5 135.2 141.4 134.3 141.3 133.4C141.2 132.5 141.1 131.5 141.2 130.6C141.3 129.7 141.5 128.8 141.8 128.0C142.1 127.3 142.4 126.5 142.8 125.9C143.2 125.3 143.8 124.8 144.3 124.5C144.8 124.3 145.4 124.3 145.9 124.4C146.4 124.6 146.9 124.9 147.4 125.3C147.9 125.7 148.3 126.2 148.7 126.9C149.1 127.5 149.4 128.4 149.6 129.2C149.8 130.1 149.9 131.1 149.9 132.0Z" fill="none" stroke="#2a2a2a" stroke-width="0.75"/>
<path d="M148.9 132.0C148.9 132.8 148.8 133.7 148.6 134.4C148.4 135.2 148.1 135.9 147.7 136.4C147.4 136.9 146.9 137.3 146.5 137.5C146.0 137.8 145.6 138.0 145.1 137.9C144.6 137.9 144.1 137.7 143.7 137.3C143.3 136.9 142.9 136.2 142.7 135.5C142.4 134.8 142.2 134.0 142.1 133.2C142.0 132.4 142.0 131.6 142.1 130.8C142.2 130.0 142.5 129.2 142.7 128.6C143.0 127.9 143.3 127.2 143.7 126.8C144.1 126.4 144.6 126.0 145.1 125.9C145.5 125.9 146.1 126.1 146.5 126.4C146.9 126.6 147.4 127.1 147.7 127.6C148.1 128.2 148.4 128.9 148.6 129.6C148.8 130.3 148.8 131.2 148.9 132.0Z" fill="none" stroke="#2a2a2a" stroke-width="0.75"/>
<path d="M147.9 132.0C147.9 132.7 147.8 133.6 147.6 134.2C147.4 134.8 147.0 135.4 146.6 135.7C146.3 136.1 145.8 136.3 145.4 136.3C145.0 136.3 144.5 136.1 144.2 135.7C143.8 135.3 143.4 134.8 143.2 134.2C143.0 133.6 142.9 132.7 142.9 132.0C142.9 131.3 143.1 130.5 143.3 129.9C143.5 129.3 143.8 128.6 144.2 128.2C144.5 127.9 145.0 127.7 145.4 127.6C145.8 127.6 146.3 127.8 146.7 128.2C147.0 128.6 147.3 129.3 147.5 129.9C147.7 130.5 147.8 131.3 147.9 132.0Z" fill="none" stroke="#2a2a2a" stroke-width="0.75"/>
</g><g clip-path="url(#c12)">
<path d="M216.4 86.5C216.2 87.1 215.8 87.7 215.5 88.2C215.2 88.8 214.8 89.3 214.4 89.8C214.0 90.4 213.6 90.9 213.0 91.5C212.3 92.0 211.6 92.5 210.7 93.0C209.8 93.4 208.7 93.9 207.6 94.2C206.5 94.6 205.2 94.8 204.0 95.1C202.7 95.3 201.5 95.5 200.2 95.6C198.9 95.8 197.5 95.9 196.3 95.9C195.0 95.9 193.6 95.8 192.5 95.6C191.4 95.4 190.3 95.1 189.4 94.8C188.6 94.4 187.9 94.0 187.3 93.5C186.7 93.1 186.2 92.7 185.7 92.2C185.2 91.8 184.6 91.4 184.2 90.9C183.7 90.5 183.1 90.0 182.7 89.5C182.4 88.9 182.1 88.4 182.2 87.8C182.3 87.2 182.6 86.6 183.1 86.0C183.7 85.4 184.5 84.9 185.3 84.4C186.2 83.9 187.2 83.4 188.2 83.0C189.2 82.6 190.3 82.2 191.5 81.8C192.6 81.5 193.8 81.2 195.1 81.0C196.3 80.8 197.6 80.6 198.9 80.6C200.1 80.5 201.3 80.6 202.5 80.7C203.7 80.7 204.8 80.8 205.9 81.0C207.1 81.1 208.2 81.2 209.3 81.4C210.4 81.6 211.6 81.8 212.6 82.1C213.5 82.4 214.5 82.8 215.2 83.2C215.8 83.7 216.3 84.2 216.5 84.8C216.7 85.3 216.5 86.0 216.4 86.5Z" fill="none" stroke="#2a2a2a" stroke-width="0.75"/>
<path d="M210.3 87.0C210.1 87.5 209.9 87.9 209.6 88.4C209.4 88.8 209.1 89.3 208.7 89.8C208.3 90.2 207.7 90.7 207.1 91.1C206.4 91.5 205.5 91.8 204.6 92.2C203.7 92.5 202.7 92.7 201.7 93.0C200.6 93.2 199.5 93.4 198.4 93.5C197.3 93.7 196.0 93.7 195.0 93.6C193.9 93.5 192.9 93.3 192.1 93.0C191.3 92.7 190.8 92.3 190.2 91.9C189.7 91.6 189.2 91.2 188.7 90.8C188.3 90.5 187.7 90.1 187.4 89.7C187.0 89.3 186.7 88.8 186.7 88.3C186.7 87.8 187.0 87.3 187.4 86.8C187.9 86.4 188.5 85.9 189.2 85.5C189.9 85.1 190.7 84.7 191.5 84.3C192.4 84.0 193.3 83.6 194.3 83.4C195.3 83.1 196.4 83.0 197.5 82.9C198.5 82.8 199.6 82.8 200.7 82.8C201.7 82.8 202.7 82.9 203.7 83.0C204.7 83.1 205.8 83.1 206.7 83.3C207.7 83.5 208.7 83.8 209.3 84.2C209.9 84.5 210.3 85.0 210.4 85.5C210.6 86.0 210.4 86.5 210.3 87.0Z" fill="none" stroke="#2a2a2a" stroke-width="0.75"/>
<path d="M205.2 87.4C205.2 87.7 205.1 88.1 204.8 88.5C204.5 88.8 204.2 89.2 203.6 89.5C203.1 89.8 202.4 90.1 201.7 90.3C201.0 90.5 200.3 90.7 199.5 90.9C198.7 91.1 197.9 91.3 197.0 91.4C196.2 91.4 195.2 91.4 194.5 91.2C193.8 91.1 193.2 90.8 192.8 90.5C192.3 90.2 192.0 89.9 191.7 89.6C191.5 89.3 191.2 88.9 191.2 88.6C191.1 88.3 191.2 87.9 191.5 87.5C191.7 87.2 192.0 86.8 192.5 86.5C192.9 86.1 193.4 85.8 194.1 85.5C194.8 85.2 195.6 85.0 196.5 84.9C197.3 84.8 198.2 84.8 199.0 84.9C199.8 84.9 200.5 85.0 201.2 85.1C201.9 85.2 202.7 85.3 203.3 85.5C203.9 85.7 204.5 86.0 204.8 86.3C205.1 86.6 205.2 87.0 205.2 87.4Z" fill="none" stroke="#2a2a2a" stroke-width="0.75"/>
<path d="M268.5 84.2C268.9 84.9 269.2 85.6 269.5 86.3C269.7 87.0 270.0 87.8 270.1 88.6C270.3 89.3 270.4 90.2 270.3 91.0C270.3 91.9 270.1 92.8 269.9 93.7C269.6 94.6 269.2 95.5 268.7 96.3C268.2 97.2 267.7 98.1 267.0 98.9C266.4 99.7 265.7 100.5 265.0 101.3C264.2 102.0 263.3 102.8 262.4 103.3C261.5 103.9 260.5 104.3 259.5 104.6C258.5 104.9 257.5 105.0 256.6 105.0C255.7 105.0 254.8 104.8 254.0 104.6C253.1 104.5 252.4 104.3 251.6 104.0C250.8 103.8 250.0 103.6 249.3 103.2C248.6 102.9 247.9 102.5 247.3 102.0C246.7 101.5 246.2 100.8 245.8 100.1C245.5 99.4 245.3 98.5 245.2 97.7C245.1 96.8 245.2 95.9 245.4 95.0C245.5 94.1 245.7 93.2 246.0 92.3C246.3 91.4 246.7 90.5 247.2 89.6C247.7 88.8 248.3 87.9 249.0 87.1C249.7 86.4 250.5 85.7 251.3 85.0C252.1 84.4 253.0 83.9 253.9 83.4C254.8 82.9 255.7 82.5 256.6 82.0C257.5 81.6 258.5 81.2 259.4 81.0C260.4 80.7 261.4 80.5 262.3 80.5C263.3 80.4 264.2 80.6 265.0 80.9C265.8 81.2 266.5 81.7 267.1 82.2C267.7 82.8 268.1 83.5 268.5 84.2Z" fill="none" stroke="#2a2a2a" stroke-width="0.75"/>
<path d="M266.8 85.5C267.3 86.1 267.7 86.7 267.9 87.5C268.2 88.2 268.4 88.9 268.4 89.7C268.5 90.5 268.4 91.4 268.2 92.3C268.0 93.1 267.6 94.0 267.2 94.8C266.7 95.6 266.2 96.4 265.7 97.1C265.2 97.9 264.6 98.7 264.0 99.5C263.3 100.2 262.6 101.0 261.8 101.6C261.0 102.2 260.0 102.8 259.1 103.1C258.2 103.5 257.2 103.6 256.3 103.6C255.4 103.7 254.5 103.5 253.7 103.3C252.9 103.1 252.2 102.8 251.5 102.5C250.8 102.2 250.2 101.8 249.6 101.4C249.0 100.9 248.5 100.4 248.1 99.7C247.8 99.1 247.5 98.4 247.3 97.6C247.2 96.9 247.1 96.1 247.1 95.3C247.1 94.5 247.1 93.6 247.3 92.8C247.5 91.9 247.8 91.0 248.3 90.1C248.7 89.3 249.3 88.4 250.1 87.7C250.8 86.9 251.7 86.3 252.5 85.8C253.4 85.3 254.3 84.9 255.1 84.5C256.0 84.2 256.9 83.9 257.7 83.6C258.6 83.3 259.5 83.0 260.4 82.9C261.3 82.8 262.2 82.8 263.0 83.0C263.8 83.1 264.6 83.5 265.2 83.9C265.9 84.3 266.4 84.9 266.8 85.5Z" fill="none" stroke="#2a2a2a" stroke-width="0.75"/>
<path d="M263.1 82.3C263.5 82.6 263.7 82.9 263.9 83.4C264.1 83.9 264.3 84.4 264.3 85.1C264.4 85.7 264.3 86.4 264.2 87.2C264.0 88.0 263.8 88.9 263.5 89.8C263.1 90.7 262.7 91.7 262.3 92.6C261.9 93.6 261.4 94.6 260.8 95.5C260.3 96.5 259.8 97.5 259.1 98.5C258.5 99.4 257.8 100.4 257.1 101.4C256.4 102.3 255.6 103.2 254.8 103.9C254.0 104.7 253.2 105.3 252.5 105.9C251.7 106.4 251.0 106.8 250.3 107.1C249.6 107.4 249.0 107.6 248.4 107.7C247.8 107.8 247.3 107.9 246.8 107.9C246.3 107.8 245.8 107.7 245.5 107.5C245.1 107.3 244.8 106.9 244.6 106.5C244.4 106.0 244.2 105.4 244.2 104.8C244.1 104.2 244.2 103.5 244.3 102.7C244.3 102.0 244.5 101.2 244.7 100.3C245.0 99.4 245.3 98.4 245.7 97.5C246.1 96.5 246.6 95.4 247.2 94.5C247.8 93.5 248.5 92.4 249.2 91.5C249.9 90.6 250.7 89.7 251.4 88.9C252.2 88.1 252.9 87.3 253.6 86.6C254.4 85.9 255.1 85.2 255.9 84.6C256.6 83.9 257.4 83.3 258.1 82.9C258.8 82.4 259.5 82.1 260.2 81.9C260.8 81.7 261.4 81.6 261.9 81.7C262.3 81.8 262.8 82.0 263.1 82.3Z" fill="none" stroke="#2a2a2a" stroke-width="0.75"/>
<path d="M262.1 83.6C262.5 83.9 262.8 84.2 263.0 84.6C263.3 85.0 263.4 85.5 263.5 86.2C263.5 86.8 263.4 87.6 263.2 88.4C263.0 89.2 262.7 90.2 262.3 91.1C261.9 92.0 261.4 92.9 261.0 93.9C260.5 94.8 260.0 95.7 259.4 96.7C258.9 97.6 258.3 98.5 257.6 99.5C257.0 100.4 256.2 101.3 255.5 102.1C254.8 102.9 254.0 103.7 253.3 104.3C252.5 104.9 251.8 105.4 251.1 105.8C250.4 106.2 249.7 106.4 249.1 106.6C248.5 106.8 248.0 106.9 247.5 106.8C247.0 106.8 246.6 106.6 246.2 106.3C245.9 106.1 245.7 105.6 245.5 105.1C245.4 104.7 245.3 104.0 245.3 103.4C245.3 102.8 245.4 102.1 245.5 101.3C245.6 100.6 245.7 99.8 246.0 99.0C246.2 98.1 246.5 97.1 247.0 96.2C247.4 95.2 248.0 94.2 248.6 93.2C249.3 92.3 250.0 91.3 250.7 90.5C251.4 89.6 252.2 88.8 252.9 88.1C253.6 87.4 254.4 86.7 255.1 86.1C255.8 85.5 256.5 84.9 257.2 84.5C257.9 84.0 258.6 83.7 259.2 83.5C259.8 83.3 260.4 83.2 260.9 83.2C261.3 83.3 261.8 83.4 262.1 83.6Z" fill="none" stroke="#2a2a2a" stroke-width="0.75"/>
<path d="M261.3 84.8C261.7 85.0 262.0 85.2 262.2 85.6C262.5 86.0 262.6 86.5 262.6 87.2C262.6 87.8 262.4 88.6 262.2 89.4C262.0 90.1 261.7 91.0 261.4 91.8C261.0 92.7 260.6 93.6 260.2 94.5C259.7 95.4 259.2 96.3 258.6 97.1C258.0 98.0 257.4 98.9 256.7 99.6C256.1 100.4 255.4 101.2 254.7 101.8C254.0 102.5 253.3 103.1 252.6 103.7C252.0 104.2 251.3 104.8 250.6 105.1C250.0 105.5 249.3 105.8 248.8 105.9C248.3 106.0 247.8 105.9 247.4 105.7C247.1 105.5 246.9 105.1 246.7 104.7C246.5 104.3 246.4 103.8 246.3 103.3C246.2 102.7 246.1 102.2 246.2 101.5C246.2 100.9 246.3 100.2 246.5 99.4C246.7 98.6 247.0 97.7 247.4 96.9C247.8 96.0 248.3 95.1 248.8 94.2C249.4 93.3 250.0 92.4 250.6 91.5C251.2 90.7 251.9 89.8 252.6 89.0C253.2 88.3 254.0 87.6 254.7 87.0C255.4 86.4 256.0 86.0 256.7 85.6C257.3 85.3 257.9 85.1 258.4 85.0C259.0 84.8 259.5 84.7 259.9 84.7C260.4 84.7 260.9 84.7 261.3 84.8Z" fill="none" stroke="#2a2a2a" stroke-width="0.75"/>
<path d="M260.8 85.5C261.0 85.8 261.2 86.3 261.3 86.8C261.4 87.3 261.4 87.9 261.4 88.5C261.3 89.2 261.3 89.9 261.1 90.6C260.9 91.3 260.6 92.2 260.2 93.0C259.9 93.8 259.4 94.7 258.9 95.6C258.4 96.4 257.9 97.3 257.3 98.1C256.7 99.0 256.0 99.8 255.4 100.6C254.7 101.3 254.0 102.1 253.3 102.6C252.6 103.1 252.0 103.6 251.4 103.8C250.8 104.1 250.2 104.2 249.7 104.3C249.2 104.4 248.7 104.4 248.3 104.3C247.9 104.2 247.5 104.1 247.2 103.8C247.0 103.6 246.7 103.1 246.6 102.6C246.6 102.1 246.6 101.4 246.8 100.7C246.9 99.9 247.2 99.1 247.5 98.3C247.8 97.5 248.2 96.6 248.6 95.7C249.1 94.9 249.6 94.0 250.1 93.1C250.7 92.3 251.3 91.5 252.0 90.7C252.6 90.0 253.3 89.3 254.0 88.6C254.6 88.0 255.3 87.4 255.9 86.9C256.6 86.4 257.3 85.9 257.9 85.6C258.5 85.2 259.2 85.0 259.6 85.0C260.1 85.0 260.5 85.2 260.8 85.5Z" fill="none" stroke="#2a2a2a" stroke-width="0.75"/>
<path d="M259.9 86.8C260.2 87.0 260.4 87.3 260.6 87.7C260.8 88.1 260.8 88.6 260.8 89.2C260.8 89.8 260.6 90.5 260.4 91.2C260.2 92.0 259.9 92.8 259.5 93.6C259.2 94.4 258.7 95.2 258.3 96.1C257.8 96.9 257.2 97.8 256.6 98.5C256.0 99.3 255.3 100.0 254.6 100.6C254.0 101.2 253.4 101.6 252.8 102.0C252.2 102.4 251.6 102.7 251.1 103.0C250.5 103.2 250.0 103.5 249.5 103.6C249.0 103.7 248.5 103.7 248.2 103.5C247.9 103.3 247.6 103.0 247.5 102.5C247.3 102.1 247.3 101.5 247.4 100.9C247.4 100.3 247.5 99.6 247.7 98.8C248.0 98.1 248.3 97.2 248.7 96.4C249.1 95.6 249.6 94.8 250.1 94.0C250.7 93.2 251.2 92.4 251.8 91.7C252.4 90.9 253.0 90.2 253.6 89.5C254.2 88.9 254.9 88.2 255.5 87.7C256.2 87.2 256.8 86.8 257.4 86.5C257.9 86.3 258.4 86.3 258.9 86.3C259.3 86.3 259.6 86.5 259.9 86.8Z" fill="none" stroke="#2a2a2a" stroke-width="0.75"/>
<path d="M259.4 87.4C259.7 87.6 259.9 87.9 260.1 88.3C260.2 88.8 260.2 89.3 260.2 89.9C260.1 90.5 259.9 91.2 259.6 91.9C259.3 92.7 259.0 93.4 258.6 94.2C258.2 94.9 257.8 95.7 257.3 96.4C256.8 97.2 256.3 98.0 255.8 98.7C255.2 99.4 254.6 100.1 254.0 100.7C253.4 101.2 252.8 101.7 252.2 102.0C251.7 102.3 251.1 102.5 250.6 102.6C250.2 102.7 249.7 102.8 249.4 102.7C249.0 102.6 248.7 102.4 248.5 102.1C248.3 101.8 248.2 101.3 248.2 100.8C248.2 100.3 248.2 99.7 248.4 99.1C248.5 98.4 248.6 97.7 248.9 97.0C249.2 96.3 249.6 95.4 250.0 94.7C250.5 93.9 251.1 93.1 251.6 92.4C252.2 91.7 252.8 91.1 253.4 90.5C253.9 89.9 254.5 89.4 255.1 88.9C255.7 88.4 256.3 87.9 256.8 87.6C257.4 87.3 257.9 87.1 258.4 87.1C258.8 87.1 259.2 87.2 259.4 87.4Z" fill="none" stroke="#2a2a2a" stroke-width="0.75"/>
<path d="M258.7 88.5C258.9 88.7 259.2 88.9 259.3 89.3C259.4 89.6 259.5 90.1 259.5 90.6C259.4 91.2 259.2 91.8 259.0 92.5C258.8 93.2 258.4 93.9 258.1 94.7C257.7 95.4 257.2 96.1 256.7 96.8C256.3 97.5 255.7 98.3 255.1 98.8C254.6 99.4 254.0 99.9 253.5 100.4C252.9 100.8 252.4 101.1 251.9 101.4C251.4 101.7 250.8 101.9 250.4 102.0C250.0 102.1 249.5 102.1 249.3 101.9C249.0 101.7 248.8 101.3 248.8 100.9C248.7 100.5 248.8 99.9 248.9 99.3C248.9 98.7 249.1 98.1 249.3 97.4C249.5 96.8 249.9 96.0 250.2 95.3C250.6 94.6 251.1 93.9 251.5 93.2C252.0 92.5 252.5 91.8 253.1 91.2C253.6 90.5 254.2 89.9 254.8 89.4C255.4 88.9 256.0 88.5 256.5 88.3C257.0 88.0 257.4 88.0 257.8 88.1C258.1 88.1 258.4 88.3 258.7 88.5Z" fill="none" stroke="#2a2a2a" stroke-width="0.75"/>
<path d="M258.1 89.2C258.4 89.4 258.7 89.6 258.8 89.9C258.9 90.2 259.0 90.6 259.0 91.2C258.9 91.7 258.7 92.4 258.4 93.1C258.1 93.7 257.7 94.4 257.3 95.1C256.9 95.8 256.5 96.5 256.0 97.1C255.6 97.7 255.0 98.4 254.5 98.9C254.0 99.4 253.5 99.9 253.0 100.2C252.5 100.6 252.0 100.9 251.5 101.0C251.1 101.2 250.6 101.3 250.3 101.2C250.0 101.2 249.7 101.0 249.6 100.7C249.4 100.3 249.4 99.8 249.4 99.4C249.5 98.9 249.6 98.3 249.7 97.8C249.8 97.2 250.0 96.6 250.3 95.9C250.5 95.3 250.9 94.5 251.4 93.8C251.8 93.2 252.3 92.5 252.9 91.9C253.4 91.3 253.9 90.8 254.4 90.4C255.0 89.9 255.5 89.6 256.0 89.3C256.4 89.1 256.9 89.0 257.2 89.0C257.6 88.9 257.9 89.1 258.1 89.2Z" fill="none" stroke="#2a2a2a" stroke-width="0.75"/>
<path d="M257.7 89.8C258.0 90.0 258.2 90.2 258.2 90.6C258.3 91.0 258.3 91.5 258.1 92.1C258.0 92.7 257.7 93.3 257.4 94.0C257.1 94.6 256.8 95.3 256.4 95.9C256.0 96.6 255.5 97.3 255.0 97.8C254.6 98.4 254.0 99.0 253.5 99.4C253.0 99.8 252.5 100.0 252.0 100.2C251.6 100.3 251.2 100.4 250.9 100.3C250.6 100.3 250.3 100.1 250.2 99.8C250.1 99.5 250.0 99.1 250.0 98.6C250.0 98.1 250.1 97.6 250.3 97.0C250.4 96.4 250.7 95.7 251.0 95.1C251.4 94.4 251.9 93.7 252.4 93.1C252.9 92.5 253.4 92.0 253.9 91.5C254.4 91.0 254.9 90.5 255.4 90.2C255.9 89.9 256.4 89.7 256.8 89.6C257.2 89.5 257.5 89.6 257.7 89.8Z" fill="none" stroke="#2a2a2a" stroke-width="0.75"/>
<path d="M257.2 90.5C257.4 90.6 257.6 90.9 257.7 91.3C257.7 91.6 257.7 92.2 257.5 92.7C257.4 93.2 257.2 93.8 256.9 94.4C256.6 95.0 256.2 95.6 255.8 96.2C255.4 96.7 254.9 97.3 254.5 97.7C254.0 98.2 253.5 98.7 253.1 99.0C252.6 99.3 252.1 99.6 251.8 99.7C251.4 99.8 251.2 99.6 251.0 99.4C250.8 99.3 250.6 99.0 250.6 98.6C250.5 98.2 250.5 97.8 250.6 97.3C250.8 96.8 251.0 96.2 251.3 95.6C251.6 95.0 251.9 94.4 252.3 93.8C252.7 93.2 253.2 92.6 253.7 92.1C254.1 91.7 254.6 91.3 255.0 91.1C255.5 90.8 255.8 90.7 256.2 90.6C256.6 90.5 257.0 90.4 257.2 90.5Z" fill="none" stroke="#2a2a2a" stroke-width="0.75"/>
<path d="M270.7 132.5C270.7 134.0 270.6 135.6 270.4 137.1C270.3 138.6 270.1 140.2 269.8 141.6C269.5 143.0 269.1 144.4 268.6 145.6C268.2 146.8 267.6 147.9 267.0 148.9C266.5 149.9 265.8 150.8 265.1 151.5C264.5 152.2 263.8 152.8 263.0 153.2C262.3 153.6 261.6 153.9 260.8 153.9C260.0 153.9 259.3 153.8 258.5 153.3C257.8 152.9 257.1 152.3 256.5 151.5C255.8 150.7 255.2 149.7 254.7 148.6C254.1 147.6 253.7 146.4 253.2 145.2C252.8 144.0 252.3 142.8 252.0 141.4C251.6 140.1 251.3 138.6 251.1 137.1C250.9 135.7 250.7 134.1 250.7 132.5C250.7 130.9 250.8 129.3 250.9 127.8C251.1 126.2 251.4 124.7 251.7 123.3C252.0 121.9 252.4 120.5 252.9 119.3C253.4 118.0 253.9 116.9 254.5 115.9C255.1 114.9 255.7 114.0 256.4 113.4C257.1 112.8 257.9 112.3 258.6 112.1C259.3 111.8 260.1 111.8 260.8 111.8C261.5 111.9 262.3 112.1 263.0 112.4C263.7 112.8 264.4 113.2 265.1 113.8C265.8 114.3 266.5 115.0 267.1 116.0C267.7 116.9 268.3 118.0 268.8 119.2C269.2 120.4 269.6 121.8 269.9 123.3C270.2 124.7 270.4 126.3 270.5 127.8C270.7 129.4 270.7 131.0 270.7 132.5Z" fill="none" stroke="#2a2a2a" stroke-width="0.75"/>
<path d="M269.7 133.2C269.7 134.6 269.6 136.1 269.4 137.6C269.2 139.0 269.0 140.4 268.7 141.7C268.3 143.0 267.9 144.3 267.4 145.3C266.9 146.4 266.3 147.3 265.7 148.0C265.2 148.7 264.5 149.3 263.9 149.8C263.2 150.2 262.6 150.6 261.9 150.8C261.2 151.1 260.5 151.3 259.8 151.2C259.1 151.1 258.4 151.0 257.7 150.5C257.1 150.1 256.4 149.4 255.8 148.5C255.2 147.7 254.7 146.6 254.3 145.4C253.8 144.3 253.5 143.0 253.2 141.7C252.8 140.3 252.6 138.9 252.4 137.5C252.3 136.1 252.2 134.6 252.2 133.2C252.2 131.7 252.3 130.2 252.5 128.8C252.6 127.4 252.9 126.0 253.2 124.7C253.6 123.5 254.0 122.3 254.4 121.1C254.9 120.0 255.4 119.0 255.9 118.1C256.5 117.2 257.1 116.4 257.7 115.8C258.4 115.3 259.1 114.9 259.8 114.8C260.5 114.7 261.2 114.8 261.9 115.1C262.6 115.4 263.3 115.8 263.9 116.4C264.5 117.0 265.1 117.6 265.7 118.4C266.3 119.2 266.9 120.1 267.3 121.1C267.8 122.1 268.3 123.3 268.6 124.6C269.0 125.8 269.3 127.3 269.4 128.7C269.6 130.1 269.7 131.7 269.7 133.2Z" fill="none" stroke="#2a2a2a" stroke-width="0.75"/>
<path d="M268.3 133.8C268.2 135.1 268.2 136.4 268.0 137.8C267.9 139.1 267.7 140.4 267.4 141.6C267.1 142.8 266.7 144.0 266.2 144.9C265.8 145.9 265.2 146.7 264.7 147.4C264.1 148.1 263.5 148.7 262.9 149.0C262.2 149.4 261.6 149.6 260.9 149.6C260.3 149.7 259.6 149.5 259.0 149.1C258.3 148.7 257.7 148.0 257.2 147.3C256.7 146.6 256.2 145.7 255.7 144.7C255.3 143.8 254.8 142.7 254.5 141.6C254.1 140.4 253.8 139.2 253.6 137.9C253.4 136.6 253.3 135.1 253.3 133.8C253.3 132.4 253.4 130.9 253.6 129.6C253.8 128.3 254.1 127.1 254.5 125.9C254.8 124.8 255.2 123.7 255.7 122.8C256.2 121.8 256.7 121.0 257.2 120.3C257.8 119.6 258.4 119.0 259.0 118.7C259.6 118.3 260.3 118.1 260.9 118.1C261.6 118.1 262.2 118.3 262.9 118.5C263.5 118.8 264.2 119.3 264.7 119.9C265.3 120.5 265.9 121.3 266.4 122.3C266.8 123.3 267.2 124.5 267.5 125.7C267.8 127.0 268.0 128.4 268.1 129.7C268.2 131.0 268.3 132.4 268.3 133.8Z" fill="none" stroke="#2a2a2a" stroke-width="0.75"/>
<path d="M267.2 134.3C267.2 135.5 267.2 136.8 267.1 138.1C267.0 139.3 266.8 140.6 266.5 141.7C266.2 142.8 265.7 143.9 265.3 144.7C264.8 145.5 264.2 146.1 263.6 146.6C263.1 147.0 262.5 147.3 261.9 147.5C261.3 147.6 260.7 147.7 260.1 147.5C259.5 147.4 258.9 147.0 258.3 146.5C257.8 146.0 257.2 145.3 256.8 144.5C256.3 143.6 255.9 142.6 255.6 141.6C255.3 140.5 255.0 139.3 254.8 138.1C254.6 136.9 254.5 135.6 254.5 134.3C254.5 133.0 254.7 131.7 254.9 130.5C255.1 129.3 255.4 128.2 255.7 127.2C256.1 126.2 256.4 125.2 256.9 124.3C257.3 123.5 257.8 122.6 258.3 122.0C258.8 121.4 259.4 120.9 260.0 120.7C260.6 120.5 261.3 120.5 261.9 120.8C262.5 121.0 263.1 121.4 263.7 122.0C264.2 122.6 264.7 123.3 265.2 124.1C265.6 125.0 266.0 126.0 266.3 127.1C266.6 128.1 266.9 129.4 267.0 130.6C267.2 131.8 267.2 133.1 267.2 134.3Z" fill="none" stroke="#2a2a2a" stroke-width="0.75"/>
<path d="M266.4 134.8C266.4 136.0 266.4 137.2 266.2 138.3C266.0 139.4 265.8 140.6 265.4 141.5C265.1 142.4 264.6 143.3 264.2 143.9C263.7 144.5 263.2 145.0 262.7 145.3C262.1 145.7 261.6 146.0 261.0 146.1C260.5 146.1 259.9 146.1 259.3 145.8C258.8 145.5 258.2 144.9 257.8 144.2C257.3 143.5 256.9 142.5 256.6 141.5C256.3 140.5 256.1 139.4 255.9 138.3C255.8 137.2 255.7 136.0 255.7 134.8C255.7 133.6 255.8 132.4 256.0 131.4C256.2 130.3 256.4 129.2 256.7 128.2C257.0 127.3 257.4 126.3 257.8 125.6C258.3 124.8 258.8 124.1 259.3 123.7C259.9 123.4 260.5 123.2 261.0 123.3C261.6 123.3 262.2 123.7 262.7 124.1C263.2 124.5 263.7 125.1 264.2 125.7C264.6 126.4 265.1 127.2 265.4 128.1C265.7 129.1 266.0 130.2 266.2 131.3C266.4 132.4 266.4 133.6 266.4 134.8Z" fill="none" stroke="#2a2a2a" stroke-width="0.75"/>
<path d="M265.6 135.2C265.6 136.3 265.6 137.5 265.4 138.5C265.2 139.6 264.9 140.6 264.6 141.4C264.2 142.2 263.8 143.0 263.3 143.5C262.9 144.0 262.4 144.4 261.9 144.6C261.4 144.7 260.8 144.6 260.3 144.4C259.8 144.2 259.3 143.8 258.9 143.3C258.4 142.8 257.9 142.2 257.6 141.4C257.2 140.6 256.9 139.6 256.8 138.5C256.6 137.5 256.6 136.3 256.6 135.2C256.6 134.2 256.7 133.1 256.9 132.1C257.1 131.0 257.3 130.0 257.6 129.2C257.9 128.3 258.4 127.6 258.8 127.0C259.3 126.5 259.8 126.1 260.3 125.9C260.8 125.7 261.4 125.6 261.9 125.8C262.4 126.0 262.9 126.4 263.3 127.0C263.8 127.6 264.1 128.5 264.5 129.3C264.8 130.1 265.0 131.1 265.2 132.1C265.4 133.1 265.6 134.2 265.6 135.2Z" fill="none" stroke="#2a2a2a" stroke-width="0.75"/>
<path d="M264.8 135.7C264.8 136.6 264.8 137.6 264.6 138.5C264.5 139.4 264.2 140.3 263.9 141.0C263.6 141.7 263.2 142.2 262.8 142.6C262.4 143.0 261.9 143.3 261.5 143.4C261.0 143.5 260.5 143.3 260.1 143.1C259.7 142.8 259.3 142.3 258.9 141.8C258.6 141.2 258.2 140.5 257.9 139.8C257.7 139.0 257.5 138.0 257.4 137.1C257.3 136.2 257.4 135.1 257.5 134.2C257.6 133.3 257.8 132.4 258.0 131.6C258.3 130.8 258.5 130.0 258.9 129.4C259.2 128.8 259.7 128.4 260.1 128.1C260.5 127.8 261.0 127.8 261.5 127.8C261.9 127.9 262.4 128.2 262.8 128.6C263.2 129.0 263.6 129.7 263.8 130.4C264.1 131.2 264.3 132.1 264.5 132.9C264.6 133.8 264.7 134.7 264.8 135.7Z" fill="none" stroke="#2a2a2a" stroke-width="0.75"/>
<path d="M264.0 136.1C264.0 136.9 264.0 137.8 263.8 138.5C263.7 139.3 263.4 140.1 263.1 140.6C262.8 141.2 262.4 141.6 262.1 141.9C261.7 142.1 261.2 142.2 260.9 142.1C260.5 142.0 260.1 141.6 259.7 141.2C259.4 140.8 259.1 140.2 258.8 139.6C258.6 138.9 258.4 138.1 258.3 137.3C258.2 136.5 258.2 135.6 258.3 134.8C258.4 133.9 258.6 133.1 258.8 132.5C259.1 131.8 259.4 131.2 259.7 130.8C260.1 130.4 260.5 130.2 260.9 130.1C261.2 130.0 261.7 130.1 262.0 130.3C262.4 130.5 262.8 130.9 263.1 131.4C263.4 132.0 263.7 132.8 263.8 133.6C264.0 134.3 264.0 135.2 264.0 136.1Z" fill="none" stroke="#2a2a2a" stroke-width="0.75"/>
<path d="M263.3 136.4C263.3 137.2 263.2 138.0 263.0 138.6C262.8 139.3 262.5 139.8 262.2 140.2C261.9 140.6 261.5 141.0 261.2 141.0C260.8 141.0 260.4 140.7 260.1 140.3C259.8 139.9 259.6 139.3 259.4 138.6C259.2 138.0 259.1 137.2 259.1 136.4C259.1 135.7 259.2 134.9 259.4 134.2C259.5 133.6 259.8 132.9 260.1 132.5C260.4 132.2 260.8 132.1 261.2 132.1C261.5 132.1 261.9 132.3 262.2 132.7C262.5 133.0 262.8 133.6 263.0 134.2C263.2 134.9 263.3 135.7 263.3 136.4Z" fill="none" stroke="#2a2a2a" stroke-width="0.75"/>
</g><g clip-path="url(#c13)">
<path d="M331.3 87.1C331.3 87.8 331.3 88.6 331.1 89.3C330.9 90.0 330.7 90.8 330.3 91.5C329.8 92.2 329.3 92.9 328.5 93.5C327.8 94.2 326.9 94.8 325.9 95.3C324.9 95.8 323.7 96.2 322.6 96.6C321.4 97.0 320.2 97.4 318.9 97.6C317.7 97.9 316.3 98.1 315.0 98.1C313.7 98.2 312.3 98.2 311.1 98.1C309.8 98.0 308.5 97.7 307.4 97.4C306.3 97.1 305.2 96.6 304.2 96.2C303.3 95.8 302.4 95.3 301.5 94.8C300.6 94.3 299.8 93.7 299.1 93.1C298.3 92.5 297.6 91.9 297.2 91.2C296.7 90.5 296.4 89.7 296.4 88.9C296.4 88.2 296.6 87.4 297.0 86.6C297.3 85.9 298.0 85.2 298.6 84.5C299.2 83.8 300.0 83.2 300.8 82.6C301.6 82.0 302.5 81.5 303.5 80.9C304.4 80.4 305.5 79.9 306.6 79.6C307.7 79.2 308.9 78.8 310.2 78.6C311.4 78.4 312.7 78.2 314.0 78.1C315.3 78.1 316.6 78.1 317.9 78.1C319.2 78.1 320.5 78.2 321.7 78.4C323.0 78.6 324.3 78.9 325.4 79.3C326.5 79.7 327.6 80.2 328.4 80.8C329.2 81.3 329.9 82.0 330.3 82.7C330.8 83.4 331.0 84.2 331.1 84.9C331.3 85.7 331.3 86.4 331.3 87.1Z" fill="none" stroke="#2a2a2a" stroke-width="0.75"/>
<path d="M328.9 87.3C328.9 87.9 329.0 88.6 328.9 89.3C328.7 90.0 328.6 90.8 328.1 91.5C327.7 92.2 327.0 92.9 326.2 93.5C325.3 94.0 324.2 94.5 323.1 94.9C322.0 95.3 320.8 95.6 319.6 95.8C318.4 96.0 317.1 96.2 315.9 96.3C314.7 96.4 313.5 96.5 312.2 96.4C311.0 96.4 309.8 96.3 308.6 96.0C307.5 95.8 306.4 95.4 305.5 95.0C304.5 94.6 303.6 94.1 302.8 93.6C302.1 93.1 301.4 92.5 300.8 91.9C300.3 91.3 299.8 90.6 299.6 89.9C299.4 89.2 299.4 88.4 299.6 87.7C299.8 87.0 300.3 86.3 300.9 85.6C301.4 85.0 302.1 84.4 302.8 83.8C303.5 83.2 304.2 82.7 305.1 82.1C305.9 81.6 306.8 81.0 307.8 80.6C308.8 80.2 310.0 79.8 311.2 79.5C312.5 79.3 313.8 79.2 315.1 79.2C316.3 79.2 317.6 79.3 318.8 79.5C320.0 79.7 321.1 80.0 322.2 80.4C323.2 80.7 324.3 81.1 325.1 81.6C325.9 82.1 326.7 82.7 327.2 83.3C327.8 83.9 328.1 84.6 328.4 85.2C328.7 85.9 328.8 86.6 328.9 87.3Z" fill="none" stroke="#2a2a2a" stroke-width="0.75"/>
<path d="M326.9 87.4C326.9 88.0 326.8 88.6 326.6 89.3C326.4 89.9 326.0 90.6 325.4 91.1C324.9 91.7 324.1 92.2 323.2 92.7C322.4 93.1 321.4 93.4 320.4 93.7C319.5 94.0 318.4 94.3 317.4 94.5C316.4 94.7 315.3 94.9 314.2 95.0C313.1 95.1 311.9 95.2 310.8 95.0C309.7 94.9 308.5 94.7 307.6 94.3C306.7 94.0 305.9 93.5 305.3 93.0C304.6 92.5 304.1 91.9 303.7 91.4C303.2 90.8 302.9 90.2 302.7 89.6C302.6 89.0 302.6 88.3 302.7 87.7C302.9 87.1 303.2 86.5 303.6 85.9C304.0 85.3 304.6 84.7 305.2 84.2C305.8 83.6 306.4 83.1 307.2 82.6C308.0 82.1 309.0 81.7 310.0 81.4C311.1 81.1 312.3 80.9 313.4 80.8C314.5 80.8 315.7 80.9 316.8 81.0C317.8 81.2 318.9 81.4 319.8 81.7C320.8 81.9 321.8 82.2 322.6 82.5C323.5 82.9 324.3 83.3 324.9 83.8C325.6 84.3 326.1 84.9 326.4 85.5C326.7 86.1 326.8 86.7 326.9 87.4Z" fill="none" stroke="#2a2a2a" stroke-width="0.75"/>
<path d="M324.7 87.5C324.9 88.0 324.9 88.7 324.6 89.2C324.4 89.8 323.9 90.3 323.3 90.8C322.8 91.3 322.0 91.8 321.2 92.2C320.5 92.6 319.6 92.9 318.7 93.2C317.8 93.4 316.7 93.5 315.7 93.6C314.8 93.6 313.8 93.6 312.9 93.5C311.9 93.4 311.0 93.2 310.1 93.0C309.2 92.8 308.3 92.6 307.6 92.3C306.8 92.0 306.0 91.5 305.6 91.0C305.1 90.6 304.9 89.9 304.8 89.4C304.7 88.8 304.8 88.2 305.0 87.7C305.1 87.1 305.4 86.6 305.7 86.0C306.1 85.5 306.6 85.0 307.2 84.5C307.8 84.1 308.6 83.6 309.5 83.3C310.3 83.0 311.2 82.7 312.2 82.5C313.2 82.4 314.2 82.2 315.2 82.2C316.2 82.2 317.2 82.2 318.2 82.4C319.1 82.6 319.9 82.9 320.6 83.3C321.4 83.6 321.9 84.1 322.4 84.5C323.0 85.0 323.4 85.4 323.8 85.9C324.2 86.4 324.6 86.9 324.7 87.5Z" fill="none" stroke="#2a2a2a" stroke-width="0.75"/>
<path d="M322.5 87.6C322.6 88.1 322.7 88.7 322.5 89.2C322.2 89.7 321.7 90.2 321.1 90.7C320.6 91.1 319.7 91.4 318.9 91.7C318.1 92.0 317.3 92.2 316.4 92.4C315.5 92.5 314.5 92.5 313.7 92.5C312.8 92.4 311.9 92.2 311.1 92.0C310.4 91.8 309.6 91.5 308.9 91.2C308.3 90.9 307.6 90.4 307.3 90.0C306.9 89.5 306.8 88.9 306.8 88.4C306.9 87.9 307.2 87.4 307.5 86.9C307.8 86.4 308.2 85.9 308.7 85.5C309.2 85.0 309.8 84.6 310.6 84.3C311.3 83.9 312.3 83.7 313.2 83.6C314.0 83.4 315.0 83.4 315.9 83.4C316.8 83.5 317.8 83.6 318.6 83.8C319.3 84.1 320.0 84.4 320.6 84.8C321.1 85.2 321.4 85.7 321.7 86.2C322.0 86.6 322.3 87.1 322.5 87.6Z" fill="none" stroke="#2a2a2a" stroke-width="0.75"/>
<path d="M320.4 87.7C320.5 88.1 320.5 88.6 320.3 89.0C320.0 89.4 319.6 89.8 319.1 90.2C318.6 90.5 317.9 90.8 317.2 90.9C316.5 91.1 315.7 91.3 315.0 91.3C314.3 91.3 313.5 91.2 312.8 91.1C312.2 90.9 311.6 90.7 311.0 90.4C310.5 90.2 309.9 89.9 309.5 89.6C309.1 89.2 308.8 88.7 308.8 88.3C308.8 87.9 309.1 87.4 309.4 87.0C309.7 86.6 310.2 86.2 310.7 85.9C311.2 85.6 311.8 85.3 312.5 85.1C313.2 84.9 313.9 84.8 314.7 84.8C315.4 84.7 316.2 84.7 316.9 84.8C317.6 84.9 318.4 85.1 318.9 85.4C319.4 85.6 319.8 86.1 320.1 86.5C320.3 86.9 320.4 87.3 320.4 87.7Z" fill="none" stroke="#2a2a2a" stroke-width="0.75"/>
<path d="M318.7 87.8C318.8 88.1 318.6 88.5 318.3 88.8C318.1 89.1 317.6 89.4 317.1 89.6C316.6 89.9 316.1 90.1 315.5 90.2C314.9 90.3 314.2 90.3 313.6 90.2C313.0 90.1 312.5 89.8 312.2 89.6C311.8 89.3 311.4 89.0 311.3 88.7C311.1 88.4 311.1 88.0 311.2 87.7C311.3 87.3 311.5 86.9 311.8 86.7C312.2 86.4 312.8 86.1 313.4 86.0C313.9 85.8 314.6 85.8 315.2 85.9C315.8 85.9 316.5 85.9 317.0 86.1C317.5 86.2 318.0 86.5 318.3 86.8C318.6 87.1 318.7 87.5 318.7 87.8Z" fill="none" stroke="#2a2a2a" stroke-width="0.75"/>
<path d="M382.4 82.6C382.8 82.8 383.2 83.1 383.5 83.6C383.7 84.0 383.8 84.6 383.7 85.4C383.7 86.1 383.4 87.0 383.0 88.0C382.7 88.9 382.1 90.0 381.5 91.0C380.9 92.0 380.2 93.1 379.4 94.2C378.7 95.3 377.9 96.4 377.0 97.4C376.1 98.5 375.1 99.6 374.1 100.6C373.2 101.6 372.1 102.6 371.1 103.4C370.0 104.3 369.0 105.1 368.0 105.9C367.0 106.6 365.9 107.3 365.0 107.9C364.0 108.5 363.0 109.1 362.1 109.5C361.1 110.0 360.2 110.4 359.4 110.6C358.6 110.8 357.9 110.8 357.3 110.7C356.8 110.5 356.4 110.2 356.1 109.8C355.8 109.4 355.7 108.7 355.7 108.1C355.6 107.5 355.7 106.8 355.8 106.1C355.9 105.3 356.1 104.6 356.3 103.7C356.6 102.8 357.0 101.9 357.4 100.9C357.9 100.0 358.5 98.9 359.3 97.8C360.0 96.8 360.8 95.6 361.7 94.6C362.6 93.5 363.6 92.4 364.6 91.4C365.6 90.3 366.6 89.3 367.7 88.4C368.7 87.5 369.8 86.6 370.9 85.8C371.9 85.0 373.0 84.3 374.0 83.8C374.9 83.3 375.8 82.9 376.7 82.6C377.5 82.4 378.2 82.3 378.9 82.2C379.6 82.1 380.2 82.1 380.8 82.2C381.3 82.3 381.9 82.3 382.4 82.6Z" fill="none" stroke="#2a2a2a" stroke-width="0.75"/>
<path d="M381.1 83.9C381.4 84.2 381.8 84.5 381.9 85.0C382.1 85.5 382.2 86.1 382.1 86.8C382.0 87.5 381.8 88.4 381.4 89.3C381.0 90.2 380.4 91.3 379.8 92.3C379.2 93.3 378.5 94.4 377.7 95.4C376.9 96.4 376.1 97.5 375.2 98.5C374.3 99.5 373.3 100.6 372.3 101.5C371.3 102.4 370.2 103.3 369.2 104.0C368.3 104.7 367.3 105.4 366.3 106.0C365.4 106.5 364.5 107.0 363.6 107.5C362.7 107.9 361.8 108.4 361.0 108.7C360.1 108.9 359.3 109.2 358.7 109.2C358.0 109.2 357.5 109.0 357.1 108.7C356.8 108.3 356.6 107.7 356.6 107.1C356.6 106.5 356.7 105.7 356.9 104.9C357.1 104.1 357.4 103.2 357.8 102.3C358.2 101.4 358.7 100.4 359.3 99.5C359.9 98.5 360.6 97.4 361.3 96.4C362.1 95.4 363.0 94.3 363.9 93.3C364.8 92.3 365.7 91.4 366.7 90.4C367.7 89.5 368.7 88.5 369.7 87.7C370.7 86.8 371.8 86.0 372.8 85.3C373.8 84.6 374.8 84.0 375.7 83.7C376.5 83.3 377.4 83.1 378.1 83.0C378.7 82.9 379.3 83.0 379.8 83.2C380.3 83.3 380.7 83.6 381.1 83.9Z" fill="none" stroke="#2a2a2a" stroke-width="0.75"/>
<path d="M380.2 84.7C380.6 85.0 380.8 85.4 380.9 86.0C381.0 86.5 380.9 87.2 380.7 87.9C380.5 88.7 380.2 89.5 379.8 90.4C379.4 91.2 378.9 92.1 378.3 93.1C377.8 94.0 377.2 94.9 376.5 95.9C375.8 96.9 375.0 97.9 374.1 98.9C373.3 99.9 372.3 100.9 371.3 101.7C370.4 102.6 369.4 103.4 368.4 104.0C367.5 104.7 366.6 105.2 365.7 105.6C364.8 106.1 364.0 106.4 363.3 106.7C362.5 107.0 361.8 107.2 361.1 107.3C360.5 107.3 360.0 107.3 359.5 107.1C359.1 106.9 358.8 106.6 358.6 106.2C358.4 105.8 358.3 105.3 358.2 104.7C358.2 104.1 358.2 103.4 358.4 102.7C358.6 101.9 358.9 101.1 359.4 100.1C359.9 99.2 360.5 98.2 361.3 97.2C362.0 96.2 362.9 95.2 363.7 94.2C364.6 93.3 365.5 92.4 366.4 91.5C367.3 90.6 368.2 89.8 369.2 89.0C370.1 88.2 371.1 87.4 372.0 86.8C372.9 86.1 373.9 85.5 374.7 85.1C375.6 84.7 376.4 84.4 377.1 84.3C377.8 84.1 378.4 84.1 378.9 84.2C379.4 84.2 379.9 84.4 380.2 84.7Z" fill="none" stroke="#2a2a2a" stroke-width="0.75"/>
<path d="M379.2 85.8C379.5 86.0 379.7 86.5 379.8 87.0C379.8 87.6 379.7 88.2 379.6 89.0C379.4 89.7 379.1 90.5 378.7 91.3C378.4 92.2 377.9 93.1 377.2 94.1C376.6 95.0 375.8 96.1 375.0 97.0C374.2 97.9 373.2 98.9 372.3 99.7C371.4 100.5 370.5 101.3 369.6 102.0C368.7 102.7 367.8 103.4 366.9 104.0C366.0 104.6 365.1 105.2 364.3 105.6C363.5 106.0 362.6 106.3 362.0 106.4C361.3 106.5 360.8 106.4 360.3 106.3C359.9 106.1 359.6 105.7 359.4 105.3C359.2 104.9 359.1 104.3 359.2 103.7C359.3 103.0 359.5 102.2 359.8 101.4C360.2 100.6 360.7 99.6 361.3 98.7C361.9 97.8 362.6 96.8 363.3 95.9C364.0 95.0 364.7 94.0 365.5 93.1C366.3 92.2 367.2 91.2 368.1 90.4C369.0 89.5 370.0 88.6 370.9 88.0C371.9 87.3 372.8 86.8 373.6 86.4C374.5 86.0 375.2 85.7 375.9 85.6C376.6 85.4 377.3 85.3 377.8 85.3C378.4 85.3 378.9 85.5 379.2 85.8Z" fill="none" stroke="#2a2a2a" stroke-width="0.75"/>
<path d="M378.1 86.9C378.3 87.2 378.5 87.6 378.6 88.0C378.7 88.5 378.8 89.0 378.7 89.7C378.6 90.3 378.3 91.1 377.9 92.0C377.4 92.8 376.8 93.7 376.2 94.6C375.5 95.6 374.8 96.5 374.0 97.4C373.2 98.3 372.3 99.2 371.5 100.0C370.6 100.8 369.7 101.5 368.8 102.1C368.0 102.7 367.1 103.2 366.4 103.6C365.6 104.0 364.9 104.3 364.2 104.6C363.5 104.8 362.8 105.0 362.2 105.1C361.6 105.2 361.0 105.1 360.7 104.9C360.3 104.7 360.1 104.2 360.1 103.7C360.1 103.1 360.3 102.4 360.5 101.6C360.8 100.9 361.2 100.1 361.6 99.3C362.0 98.4 362.5 97.5 363.2 96.7C363.8 95.8 364.5 94.8 365.3 94.0C366.0 93.1 366.9 92.2 367.8 91.4C368.6 90.6 369.5 89.9 370.4 89.2C371.2 88.5 372.2 87.8 373.0 87.4C373.8 86.9 374.7 86.5 375.3 86.3C376.0 86.1 376.6 86.1 377.0 86.2C377.5 86.3 377.8 86.6 378.1 86.9Z" fill="none" stroke="#2a2a2a" stroke-width="0.75"/>
<path d="M377.6 87.4C377.9 87.6 378.1 88.0 378.1 88.5C378.1 89.0 377.9 89.8 377.6 90.5C377.4 91.2 377.0 92.0 376.5 92.7C376.1 93.5 375.6 94.3 375.0 95.2C374.4 96.0 373.7 96.9 373.0 97.7C372.3 98.5 371.5 99.3 370.6 100.0C369.8 100.7 369.0 101.4 368.2 102.0C367.3 102.6 366.5 103.2 365.7 103.6C365.0 103.9 364.2 104.2 363.7 104.2C363.1 104.3 362.7 104.1 362.4 103.9C362.1 103.7 362.0 103.3 361.8 102.9C361.7 102.5 361.6 102.1 361.6 101.5C361.7 101.0 361.8 100.4 362.0 99.7C362.3 99.0 362.7 98.1 363.2 97.3C363.8 96.5 364.4 95.6 365.1 94.7C365.8 93.9 366.6 93.0 367.4 92.2C368.2 91.5 369.1 90.7 369.9 90.1C370.7 89.4 371.5 88.9 372.3 88.5C373.0 88.1 373.7 87.8 374.4 87.6C375.0 87.4 375.7 87.2 376.2 87.2C376.7 87.1 377.3 87.2 377.6 87.4Z" fill="none" stroke="#2a2a2a" stroke-width="0.75"/>
<path d="M376.7 88.3C376.9 88.6 376.9 89.1 376.9 89.6C376.9 90.0 376.8 90.6 376.6 91.2C376.5 91.8 376.3 92.5 375.9 93.2C375.5 93.9 375.0 94.8 374.4 95.6C373.8 96.4 373.0 97.3 372.2 98.0C371.5 98.8 370.7 99.5 369.9 100.1C369.1 100.7 368.3 101.3 367.6 101.7C366.9 102.1 366.2 102.5 365.6 102.7C365.0 102.9 364.4 103.0 364.0 103.0C363.5 103.0 363.1 102.9 362.8 102.7C362.4 102.5 362.2 102.2 362.1 101.8C362.0 101.4 362.1 100.8 362.3 100.1C362.6 99.4 363.1 98.6 363.5 97.8C364.0 97.0 364.6 96.2 365.2 95.5C365.8 94.7 366.5 93.9 367.2 93.1C367.9 92.4 368.7 91.6 369.4 91.0C370.2 90.3 371.0 89.7 371.8 89.3C372.5 88.8 373.2 88.5 373.9 88.2C374.5 88.0 375.2 87.8 375.6 87.8C376.1 87.8 376.4 88.0 376.7 88.3Z" fill="none" stroke="#2a2a2a" stroke-width="0.75"/>
<path d="M376.0 89.0C376.2 89.3 376.2 89.7 376.2 90.2C376.2 90.7 376.1 91.2 375.9 91.8C375.7 92.4 375.4 93.0 375.1 93.7C374.7 94.4 374.1 95.3 373.5 96.0C372.9 96.7 372.1 97.5 371.4 98.2C370.7 98.8 370.0 99.4 369.3 100.0C368.6 100.5 367.8 101.0 367.2 101.3C366.6 101.7 365.9 101.9 365.4 102.0C364.9 102.2 364.4 102.1 364.1 102.1C363.7 102.0 363.3 101.8 363.2 101.5C363.0 101.2 362.9 100.8 363.0 100.3C363.1 99.7 363.4 99.0 363.8 98.3C364.1 97.6 364.7 96.8 365.3 96.1C365.8 95.3 366.4 94.6 367.0 93.9C367.7 93.2 368.4 92.4 369.1 91.8C369.8 91.2 370.5 90.6 371.2 90.2C371.9 89.7 372.6 89.3 373.2 89.1C373.9 88.8 374.5 88.6 374.9 88.6C375.4 88.6 375.8 88.7 376.0 89.0Z" fill="none" stroke="#2a2a2a" stroke-width="0.75"/>
<path d="M375.2 89.7C375.5 89.9 375.7 90.3 375.6 90.8C375.6 91.2 375.4 91.9 375.1 92.5C374.8 93.2 374.3 93.9 373.9 94.6C373.4 95.3 372.8 96.1 372.2 96.7C371.5 97.4 370.8 98.1 370.1 98.7C369.5 99.3 368.7 99.9 368.0 100.3C367.4 100.8 366.6 101.2 366.0 101.4C365.5 101.6 365.0 101.5 364.7 101.4C364.4 101.2 364.3 100.8 364.2 100.5C364.1 100.1 364.1 99.6 364.2 99.1C364.4 98.6 364.6 97.9 365.0 97.3C365.3 96.6 365.9 95.9 366.4 95.1C367.0 94.4 367.6 93.7 368.3 93.0C369.0 92.3 369.7 91.7 370.4 91.2C371.1 90.7 371.8 90.3 372.4 90.1C373.0 89.8 373.5 89.7 374.0 89.6C374.5 89.6 375.0 89.5 375.2 89.7Z" fill="none" stroke="#2a2a2a" stroke-width="0.75"/>
<path d="M374.5 90.4C374.8 90.6 374.9 91.0 374.8 91.5C374.7 91.9 374.5 92.5 374.2 93.1C373.9 93.7 373.5 94.4 373.1 95.0C372.6 95.6 372.0 96.3 371.4 96.9C370.8 97.5 370.2 98.1 369.6 98.6C368.9 99.1 368.2 99.7 367.6 100.0C367.1 100.3 366.5 100.5 366.1 100.5C365.7 100.5 365.4 100.3 365.2 100.1C365.0 99.8 364.9 99.5 365.0 99.1C365.0 98.7 365.1 98.2 365.3 97.6C365.6 97.0 366.0 96.3 366.5 95.7C367.0 95.1 367.5 94.3 368.1 93.7C368.7 93.1 369.4 92.5 370.0 92.0C370.6 91.5 371.3 91.2 371.8 90.9C372.4 90.7 372.9 90.5 373.4 90.4C373.8 90.3 374.3 90.2 374.5 90.4Z" fill="none" stroke="#2a2a2a" stroke-width="0.75"/>
<path d="M385.1 132.0C385.0 133.6 384.9 135.1 384.7 136.6C384.5 138.1 384.2 139.5 383.9 140.9C383.6 142.3 383.3 143.6 382.9 144.9C382.5 146.2 382.0 147.4 381.5 148.5C381.0 149.6 380.3 150.6 379.7 151.3C379.1 152.1 378.3 152.6 377.6 153.0C376.9 153.3 376.1 153.4 375.4 153.3C374.7 153.2 373.9 152.9 373.2 152.5C372.5 152.1 371.8 151.6 371.2 150.9C370.6 150.2 369.9 149.3 369.4 148.3C368.8 147.3 368.3 146.2 367.9 145.0C367.5 143.7 367.1 142.3 366.8 140.9C366.5 139.6 366.3 138.1 366.1 136.6C366.0 135.1 365.8 133.6 365.8 132.0C365.7 130.4 365.7 128.8 365.8 127.3C366.0 125.7 366.2 124.1 366.5 122.7C366.8 121.2 367.2 119.8 367.7 118.7C368.1 117.5 368.7 116.4 369.3 115.5C369.9 114.6 370.6 113.9 371.2 113.3C371.9 112.7 372.6 112.1 373.3 111.8C374.0 111.4 374.7 111.1 375.4 111.1C376.1 111.0 376.9 111.1 377.6 111.5C378.3 111.8 379.0 112.3 379.6 113.0C380.3 113.7 380.9 114.6 381.5 115.6C382.0 116.5 382.5 117.7 383.0 118.9C383.5 120.1 383.9 121.4 384.2 122.8C384.5 124.2 384.8 125.8 384.9 127.3C385.1 128.8 385.1 130.4 385.1 132.0Z" fill="none" stroke="#2a2a2a" stroke-width="0.75"/>
<path d="M383.9 132.3C383.9 133.7 383.7 135.2 383.5 136.6C383.3 138.0 383.1 139.3 382.7 140.6C382.4 141.9 382.1 143.1 381.6 144.2C381.2 145.4 380.8 146.5 380.2 147.4C379.7 148.3 379.1 149.2 378.5 149.7C377.8 150.3 377.1 150.6 376.4 150.7C375.8 150.9 375.0 150.7 374.4 150.5C373.7 150.2 373.1 149.7 372.4 149.2C371.8 148.6 371.2 147.9 370.7 147.1C370.1 146.3 369.6 145.3 369.2 144.2C368.7 143.2 368.3 141.9 368.0 140.6C367.7 139.4 367.5 138.0 367.3 136.6C367.1 135.2 367.0 133.7 367.0 132.3C367.0 130.8 367.0 129.3 367.1 127.8C367.2 126.4 367.4 124.9 367.7 123.5C368.0 122.2 368.5 120.9 368.9 119.9C369.4 118.8 370.0 117.9 370.6 117.2C371.2 116.5 371.8 115.9 372.5 115.4C373.1 115.0 373.7 114.6 374.4 114.4C375.1 114.2 375.7 114.1 376.4 114.3C377.1 114.4 377.8 114.7 378.4 115.2C379.0 115.7 379.6 116.4 380.2 117.2C380.7 118.1 381.3 119.1 381.7 120.1C382.2 121.2 382.6 122.4 382.9 123.7C383.2 125.0 383.5 126.4 383.7 127.8C383.8 129.3 383.9 130.8 383.9 132.3Z" fill="none" stroke="#2a2a2a" stroke-width="0.75"/>
<path d="M382.8 132.5C382.8 133.9 382.7 135.3 382.6 136.7C382.4 138.0 382.1 139.3 381.8 140.5C381.4 141.6 381.0 142.7 380.5 143.6C380.1 144.5 379.5 145.3 379.0 146.0C378.5 146.7 377.9 147.2 377.3 147.6C376.7 147.9 376.0 148.1 375.4 148.1C374.8 148.1 374.1 147.8 373.5 147.5C372.9 147.2 372.3 146.7 371.8 146.1C371.2 145.5 370.7 144.7 370.2 143.8C369.7 142.9 369.2 141.8 368.9 140.6C368.6 139.4 368.4 138.0 368.2 136.7C368.1 135.3 368.1 133.9 368.1 132.5C368.2 131.1 368.3 129.8 368.5 128.5C368.7 127.2 368.9 125.9 369.2 124.7C369.5 123.6 369.9 122.4 370.3 121.4C370.7 120.4 371.2 119.6 371.8 118.9C372.3 118.2 372.9 117.7 373.5 117.3C374.1 116.9 374.8 116.7 375.4 116.7C376.0 116.6 376.7 116.8 377.3 117.1C377.9 117.4 378.5 118.0 379.1 118.7C379.6 119.4 380.1 120.4 380.5 121.4C380.9 122.4 381.3 123.6 381.6 124.8C381.9 125.9 382.2 127.2 382.4 128.5C382.6 129.8 382.7 131.1 382.8 132.5Z" fill="none" stroke="#2a2a2a" stroke-width="0.75"/>
<path d="M381.7 132.7C381.8 134.0 381.7 135.4 381.5 136.6C381.3 137.8 381.0 139.0 380.6 140.0C380.3 141.1 379.9 142.0 379.4 142.8C379.0 143.6 378.5 144.3 378.0 144.8C377.4 145.3 376.8 145.7 376.3 145.8C375.7 146.0 375.1 145.9 374.5 145.8C374.0 145.6 373.4 145.3 372.8 144.9C372.3 144.4 371.7 143.8 371.3 143.0C370.8 142.3 370.4 141.3 370.0 140.2C369.7 139.1 369.5 137.8 369.4 136.6C369.2 135.3 369.2 134.0 369.3 132.7C369.3 131.5 369.4 130.2 369.5 129.0C369.7 127.8 369.9 126.6 370.2 125.5C370.5 124.4 370.9 123.4 371.3 122.5C371.8 121.7 372.3 121.0 372.8 120.5C373.4 120.0 373.9 119.6 374.5 119.4C375.1 119.2 375.7 119.1 376.3 119.3C376.9 119.5 377.5 119.9 378.0 120.5C378.5 121.0 379.0 121.8 379.4 122.7C379.8 123.6 380.2 124.6 380.5 125.6C380.8 126.6 381.2 127.7 381.4 128.9C381.6 130.1 381.7 131.4 381.7 132.7Z" fill="none" stroke="#2a2a2a" stroke-width="0.75"/>
<path d="M380.5 132.9C380.5 134.1 380.4 135.2 380.3 136.3C380.1 137.4 379.9 138.6 379.6 139.6C379.3 140.5 378.9 141.5 378.5 142.2C378.1 142.9 377.6 143.5 377.0 143.8C376.5 144.2 375.9 144.4 375.4 144.4C374.9 144.4 374.3 144.2 373.8 143.8C373.3 143.4 372.8 142.8 372.3 142.1C371.9 141.3 371.6 140.4 371.3 139.4C371.0 138.5 370.7 137.4 370.5 136.4C370.3 135.3 370.2 134.1 370.1 132.9C370.1 131.8 370.2 130.5 370.3 129.4C370.5 128.2 370.8 127.2 371.1 126.2C371.5 125.3 371.9 124.5 372.3 123.8C372.8 123.1 373.3 122.5 373.8 122.1C374.3 121.8 374.9 121.6 375.4 121.6C375.9 121.6 376.5 121.9 377.0 122.2C377.5 122.6 378.0 123.1 378.5 123.7C378.9 124.4 379.4 125.2 379.7 126.1C380.0 127.1 380.3 128.3 380.4 129.4C380.6 130.5 380.6 131.8 380.5 132.9Z" fill="none" stroke="#2a2a2a" stroke-width="0.75"/>
<path d="M379.7 133.1C379.7 134.2 379.6 135.2 379.4 136.3C379.2 137.3 379.0 138.3 378.7 139.2C378.4 140.0 378.0 140.8 377.6 141.4C377.2 141.9 376.7 142.3 376.2 142.5C375.7 142.7 375.1 142.7 374.6 142.5C374.1 142.3 373.6 141.9 373.2 141.3C372.8 140.8 372.4 139.9 372.1 139.1C371.8 138.2 371.6 137.2 371.4 136.2C371.2 135.3 371.1 134.2 371.0 133.1C371.0 132.0 371.1 130.8 371.2 129.8C371.4 128.8 371.7 127.8 372.0 127.0C372.4 126.2 372.8 125.5 373.2 124.9C373.7 124.4 374.2 124.0 374.6 123.8C375.1 123.6 375.7 123.7 376.2 123.9C376.6 124.0 377.1 124.5 377.6 125.0C378.0 125.5 378.5 126.1 378.8 127.0C379.1 127.8 379.4 128.8 379.6 129.8C379.7 130.8 379.7 132.0 379.7 133.1Z" fill="none" stroke="#2a2a2a" stroke-width="0.75"/>
<path d="M378.9 133.3C378.9 134.2 378.8 135.1 378.7 136.0C378.5 136.9 378.3 137.8 378.0 138.5C377.8 139.2 377.4 139.8 377.0 140.2C376.6 140.7 376.2 141.0 375.7 141.1C375.3 141.2 374.8 141.2 374.4 140.9C374.0 140.6 373.6 140.0 373.3 139.4C372.9 138.8 372.7 138.0 372.4 137.2C372.2 136.5 372.0 135.6 371.9 134.7C371.8 133.8 371.8 132.7 371.8 131.8C371.9 130.9 372.1 130.0 372.3 129.2C372.6 128.4 372.9 127.6 373.2 127.0C373.6 126.5 374.0 126.0 374.4 125.8C374.8 125.5 375.3 125.5 375.7 125.6C376.2 125.7 376.6 125.9 377.0 126.3C377.4 126.7 377.8 127.2 378.1 127.9C378.4 128.6 378.6 129.5 378.8 130.4C378.9 131.3 378.9 132.3 378.9 133.3Z" fill="none" stroke="#2a2a2a" stroke-width="0.75"/>
<path d="M378.2 133.4C378.2 134.2 378.2 135.2 378.0 135.9C377.8 136.7 377.5 137.3 377.3 137.9C377.0 138.4 376.6 138.9 376.3 139.2C375.9 139.5 375.5 139.7 375.1 139.6C374.7 139.5 374.3 139.1 374.0 138.7C373.7 138.3 373.4 137.6 373.1 137.0C372.9 136.3 372.8 135.5 372.7 134.7C372.6 133.9 372.6 133.0 372.7 132.2C372.8 131.4 372.9 130.5 373.1 129.8C373.3 129.1 373.6 128.4 374.0 128.0C374.3 127.6 374.7 127.5 375.1 127.4C375.5 127.4 375.9 127.5 376.3 127.7C376.6 128.0 377.0 128.4 377.3 128.9C377.6 129.4 377.8 130.2 378.0 130.9C378.1 131.7 378.2 132.6 378.2 133.4Z" fill="none" stroke="#2a2a2a" stroke-width="0.75"/>
<path d="M377.4 133.6C377.4 134.3 377.3 135.1 377.1 135.8C377.0 136.4 376.7 137.0 376.4 137.4C376.1 137.8 375.7 138.1 375.4 138.1C375.1 138.1 374.7 137.7 374.4 137.3C374.1 137.0 373.8 136.4 373.6 135.8C373.5 135.2 373.4 134.3 373.4 133.6C373.4 132.8 373.5 132.0 373.6 131.4C373.8 130.7 374.1 130.2 374.4 129.8C374.7 129.4 375.1 129.2 375.4 129.2C375.7 129.2 376.2 129.3 376.4 129.7C376.7 130.0 377.0 130.7 377.2 131.4C377.3 132.0 377.4 132.8 377.4 133.6Z" fill="none" stroke="#2a2a2a" stroke-width="0.75"/>
</g><g clip-path="url(#c21)">
<path d="M97.9 224.0C98.0 224.6 97.9 225.3 97.6 225.9C97.3 226.5 96.8 227.1 96.2 227.6C95.6 228.2 94.7 228.7 93.9 229.1C93.0 229.6 92.0 230.0 90.9 230.4C89.9 230.7 88.8 231.1 87.6 231.3C86.4 231.6 85.2 231.8 83.9 231.9C82.6 232.0 81.3 232.1 80.0 232.1C78.7 232.1 77.4 232.0 76.1 231.9C74.9 231.7 73.6 231.6 72.4 231.3C71.2 231.1 70.0 230.8 68.9 230.4C67.8 230.1 66.7 229.7 65.8 229.2C65.0 228.8 64.2 228.2 63.6 227.7C63.0 227.1 62.6 226.5 62.4 225.9C62.2 225.2 62.3 224.6 62.4 224.0C62.5 223.4 62.7 222.8 63.0 222.2C63.4 221.6 63.8 221.1 64.3 220.5C64.9 220.0 65.5 219.4 66.3 218.9C67.1 218.5 68.0 218.0 69.0 217.6C70.0 217.2 71.2 216.9 72.3 216.6C73.5 216.4 74.8 216.2 76.1 216.0C77.3 215.9 78.7 215.8 80.0 215.8C81.3 215.7 82.7 215.8 84.0 215.9C85.3 216.0 86.6 216.2 87.8 216.5C89.0 216.8 90.1 217.2 91.1 217.6C92.0 218.0 92.9 218.5 93.7 219.0C94.4 219.4 95.1 220.0 95.7 220.5C96.3 221.0 96.8 221.6 97.1 222.2C97.5 222.8 97.8 223.4 97.9 224.0Z" fill="none" stroke="#444" stroke-width="0.75"/>
<path d="M95.4 224.0C95.5 224.6 95.3 225.2 94.9 225.8C94.6 226.4 94.0 226.9 93.3 227.4C92.6 227.9 91.8 228.4 90.9 228.8C90.0 229.2 89.0 229.6 87.9 229.9C86.9 230.2 85.7 230.5 84.5 230.6C83.3 230.8 82.0 230.9 80.8 230.9C79.6 231.0 78.3 230.9 77.1 230.8C75.8 230.7 74.6 230.6 73.4 230.3C72.3 230.1 71.1 229.9 70.0 229.5C69.0 229.2 68.0 228.7 67.2 228.3C66.4 227.8 65.8 227.2 65.4 226.6C65.0 226.1 64.9 225.5 64.8 224.9C64.7 224.3 64.8 223.7 65.0 223.1C65.2 222.6 65.4 222.0 65.9 221.4C66.3 220.9 66.9 220.3 67.6 219.9C68.3 219.4 69.2 218.9 70.1 218.6C71.1 218.2 72.2 217.9 73.4 217.6C74.5 217.4 75.8 217.2 77.0 217.1C78.2 216.9 79.6 216.9 80.8 216.9C82.1 216.9 83.4 217.0 84.6 217.2C85.8 217.4 87.0 217.7 88.0 218.1C89.0 218.4 89.9 218.8 90.8 219.3C91.6 219.7 92.3 220.2 93.0 220.7C93.6 221.2 94.2 221.7 94.6 222.2C95.0 222.8 95.4 223.4 95.4 224.0Z" fill="none" stroke="#444" stroke-width="0.75"/>
<path d="M92.4 224.0C92.4 224.5 92.2 225.1 91.9 225.6C91.6 226.1 91.2 226.6 90.7 227.1C90.1 227.6 89.4 228.0 88.6 228.4C87.8 228.8 86.8 229.1 85.8 229.4C84.7 229.6 83.5 229.8 82.4 229.9C81.2 230.0 80.0 230.1 78.8 230.1C77.7 230.0 76.4 229.9 75.4 229.7C74.3 229.5 73.2 229.2 72.3 228.9C71.4 228.5 70.6 228.1 69.9 227.7C69.3 227.3 68.7 226.8 68.2 226.3C67.7 225.8 67.2 225.3 67.0 224.8C66.7 224.3 66.6 223.7 66.7 223.2C66.8 222.6 67.2 222.1 67.7 221.6C68.2 221.1 68.9 220.6 69.7 220.2C70.5 219.8 71.4 219.4 72.3 219.1C73.3 218.8 74.3 218.5 75.4 218.4C76.5 218.2 77.7 218.1 78.8 218.0C80.0 218.0 81.2 218.1 82.3 218.2C83.5 218.3 84.6 218.5 85.7 218.7C86.7 218.9 87.8 219.2 88.6 219.6C89.5 219.9 90.4 220.4 91.0 220.8C91.6 221.3 92.0 221.9 92.2 222.4C92.5 222.9 92.5 223.5 92.4 224.0Z" fill="none" stroke="#444" stroke-width="0.75"/>
<path d="M90.5 224.0C90.4 224.5 90.2 224.9 89.9 225.4C89.6 225.9 89.3 226.3 88.7 226.7C88.2 227.1 87.6 227.5 86.9 227.9C86.1 228.2 85.2 228.5 84.2 228.7C83.3 228.9 82.2 229.0 81.2 229.1C80.2 229.2 79.1 229.2 78.0 229.1C77.0 229.0 75.9 228.9 75.0 228.7C74.1 228.5 73.2 228.1 72.5 227.8C71.8 227.5 71.2 227.1 70.6 226.7C70.1 226.3 69.7 225.8 69.3 225.4C69.0 225.0 68.7 224.5 68.6 224.0C68.5 223.5 68.6 223.0 68.9 222.5C69.2 222.1 69.7 221.6 70.3 221.2C70.9 220.8 71.6 220.5 72.4 220.2C73.2 219.8 74.1 219.6 75.1 219.4C76.0 219.2 77.0 219.0 78.1 219.0C79.1 218.9 80.2 218.9 81.2 219.0C82.2 219.1 83.2 219.2 84.1 219.4C85.1 219.6 86.0 219.8 86.8 220.1C87.6 220.4 88.4 220.8 89.0 221.2C89.6 221.6 90.0 222.1 90.3 222.6C90.5 223.0 90.5 223.5 90.5 224.0Z" fill="none" stroke="#444" stroke-width="0.75"/>
<path d="M86.4 224.0C86.4 224.5 86.3 225.0 86.1 225.5C85.9 226.0 85.6 226.5 85.2 226.9C84.8 227.3 84.3 227.7 83.8 228.0C83.3 228.3 82.8 228.7 82.2 228.9C81.6 229.1 80.9 229.3 80.2 229.4C79.6 229.6 78.9 229.6 78.2 229.6C77.5 229.6 76.8 229.5 76.2 229.4C75.5 229.3 74.8 229.2 74.2 228.9C73.6 228.7 72.9 228.5 72.4 228.1C71.9 227.8 71.4 227.4 71.1 226.9C70.8 226.5 70.5 226.0 70.4 225.5C70.3 225.0 70.2 224.5 70.3 224.0C70.3 223.5 70.4 223.0 70.6 222.5C70.8 222.1 71.0 221.6 71.3 221.2C71.6 220.7 72.1 220.3 72.5 220.0C73.0 219.6 73.6 219.3 74.2 219.1C74.8 218.8 75.5 218.6 76.1 218.5C76.8 218.4 77.5 218.3 78.2 218.3C78.9 218.3 79.6 218.3 80.3 218.4C81.0 218.6 81.6 218.8 82.2 219.1C82.8 219.3 83.3 219.7 83.8 220.0C84.2 220.4 84.6 220.8 85.0 221.2C85.4 221.6 85.7 222.1 85.9 222.5C86.2 223.0 86.3 223.5 86.4 224.0Z" fill="none" stroke="#2a2a2a" stroke-width="0.8"/>
<path d="M85.6 224.0C85.5 224.5 85.4 224.9 85.2 225.3C85.1 225.8 84.9 226.2 84.5 226.6C84.2 227.0 83.8 227.4 83.4 227.8C82.9 228.1 82.3 228.4 81.7 228.6C81.1 228.8 80.4 229.0 79.7 229.1C79.1 229.1 78.4 229.2 77.7 229.2C77.0 229.1 76.3 229.0 75.7 228.9C75.0 228.7 74.4 228.4 73.9 228.2C73.4 227.9 72.9 227.5 72.5 227.1C72.1 226.8 71.8 226.4 71.5 226.0C71.2 225.6 70.9 225.1 70.8 224.7C70.7 224.2 70.6 223.8 70.7 223.3C70.7 222.8 70.9 222.4 71.2 221.9C71.5 221.5 71.9 221.1 72.4 220.8C72.8 220.4 73.3 220.1 73.9 219.9C74.4 219.6 75.1 219.4 75.7 219.2C76.3 219.0 77.0 218.9 77.7 218.9C78.4 218.9 79.1 218.9 79.7 219.0C80.4 219.1 81.0 219.3 81.6 219.5C82.2 219.7 82.9 219.9 83.4 220.2C83.9 220.5 84.4 220.9 84.7 221.3C85.1 221.7 85.3 222.2 85.5 222.6C85.6 223.1 85.6 223.5 85.6 224.0Z" fill="none" stroke="#2a2a2a" stroke-width="0.8"/>
<path d="M85.2 224.0C85.2 224.4 85.0 224.8 84.9 225.2C84.7 225.6 84.4 226.0 84.1 226.4C83.8 226.8 83.4 227.1 82.9 227.4C82.4 227.7 81.8 228.0 81.2 228.1C80.6 228.3 79.9 228.4 79.2 228.5C78.6 228.6 77.8 228.6 77.2 228.5C76.5 228.5 75.8 228.3 75.2 228.1C74.6 227.9 74.1 227.7 73.6 227.4C73.1 227.1 72.7 226.7 72.4 226.4C72.0 226.0 71.8 225.6 71.5 225.2C71.3 224.8 71.1 224.4 71.1 224.0C71.0 223.6 71.1 223.1 71.3 222.7C71.4 222.3 71.8 221.9 72.1 221.5C72.5 221.2 73.0 220.9 73.5 220.6C74.1 220.3 74.6 220.1 75.3 219.9C75.9 219.7 76.5 219.6 77.2 219.5C77.8 219.5 78.5 219.5 79.2 219.6C79.9 219.6 80.5 219.8 81.1 219.9C81.7 220.1 82.3 220.3 82.9 220.6C83.4 220.9 83.9 221.2 84.3 221.5C84.6 221.9 84.9 222.3 85.1 222.7C85.2 223.1 85.3 223.6 85.2 224.0Z" fill="none" stroke="#2a2a2a" stroke-width="0.8"/>
<path d="M84.8 224.0C84.7 224.4 84.6 224.8 84.5 225.2C84.3 225.6 84.0 226.0 83.6 226.3C83.2 226.6 82.7 226.9 82.1 227.2C81.6 227.4 80.9 227.6 80.3 227.7C79.6 227.9 78.9 228.0 78.2 228.0C77.5 228.0 76.7 227.9 76.1 227.8C75.4 227.6 74.8 227.4 74.3 227.1C73.8 226.9 73.3 226.6 72.9 226.2C72.5 225.9 72.2 225.6 71.9 225.2C71.7 224.8 71.5 224.4 71.4 224.0C71.4 223.6 71.5 223.2 71.8 222.8C72.0 222.4 72.4 222.0 72.8 221.7C73.2 221.4 73.7 221.1 74.3 220.8C74.8 220.6 75.5 220.4 76.1 220.3C76.8 220.2 77.5 220.1 78.2 220.1C78.9 220.1 79.6 220.2 80.3 220.3C80.9 220.4 81.6 220.6 82.2 220.8C82.8 221.0 83.3 221.3 83.7 221.7C84.1 222.0 84.4 222.4 84.6 222.8C84.8 223.2 84.8 223.6 84.8 224.0Z" fill="none" stroke="#2a2a2a" stroke-width="0.8"/>
<path d="M84.6 224.0C84.6 224.4 84.5 224.7 84.2 225.1C84.0 225.4 83.6 225.7 83.1 226.0C82.7 226.3 82.2 226.5 81.6 226.7C81.0 226.9 80.4 227.1 79.8 227.2C79.1 227.3 78.4 227.4 77.7 227.4C77.0 227.3 76.3 227.2 75.6 227.0C75.0 226.9 74.5 226.7 74.0 226.4C73.5 226.2 73.0 225.9 72.7 225.6C72.4 225.2 72.2 224.9 72.1 224.5C71.9 224.2 72.0 223.8 72.1 223.5C72.2 223.1 72.3 222.8 72.6 222.4C72.9 222.1 73.3 221.8 73.8 221.5C74.3 221.3 75.0 221.0 75.6 220.9C76.3 220.8 77.0 220.7 77.7 220.7C78.4 220.7 79.1 220.8 79.7 220.9C80.4 220.9 81.0 221.1 81.6 221.3C82.2 221.4 82.7 221.7 83.2 222.0C83.6 222.3 83.9 222.6 84.2 222.9C84.4 223.3 84.6 223.6 84.6 224.0Z" fill="none" stroke="#2a2a2a" stroke-width="0.8"/>
<path d="M84.0 224.0C84.0 224.3 83.9 224.6 83.7 224.9C83.5 225.2 83.1 225.5 82.7 225.7C82.3 226.0 81.7 226.2 81.2 226.4C80.6 226.5 79.9 226.7 79.2 226.7C78.6 226.8 77.8 226.7 77.2 226.7C76.5 226.6 75.9 226.5 75.3 226.3C74.7 226.1 74.2 226.0 73.7 225.7C73.3 225.5 72.8 225.2 72.6 224.9C72.4 224.6 72.3 224.3 72.3 224.0C72.3 223.7 72.4 223.4 72.7 223.1C72.9 222.8 73.2 222.5 73.7 222.3C74.1 222.0 74.7 221.8 75.3 221.7C75.9 221.5 76.5 221.5 77.2 221.4C77.9 221.3 78.6 221.3 79.2 221.3C79.9 221.4 80.6 221.4 81.2 221.6C81.8 221.7 82.4 222.0 82.8 222.2C83.2 222.5 83.5 222.8 83.7 223.1C83.9 223.4 84.0 223.7 84.0 224.0Z" fill="none" stroke="#2a2a2a" stroke-width="0.8"/>
<path d="M83.6 224.0C83.6 224.3 83.4 224.5 83.1 224.8C82.9 225.0 82.6 225.3 82.1 225.5C81.6 225.7 81.0 225.9 80.4 226.0C79.7 226.1 78.9 226.1 78.2 226.1C77.5 226.1 76.7 226.0 76.1 225.9C75.5 225.8 74.8 225.7 74.3 225.5C73.8 225.3 73.5 225.0 73.2 224.8C72.9 224.5 72.7 224.3 72.7 224.0C72.7 223.7 72.8 223.4 73.0 223.2C73.3 222.9 73.8 222.7 74.3 222.5C74.8 222.3 75.5 222.2 76.1 222.1C76.8 222.0 77.5 221.9 78.2 221.9C78.9 221.9 79.7 221.9 80.3 222.0C81.0 222.1 81.6 222.3 82.1 222.5C82.6 222.7 83.1 222.9 83.3 223.2C83.6 223.4 83.7 223.7 83.6 224.0Z" fill="none" stroke="#2a2a2a" stroke-width="0.8"/>
<path d="M83.4 224.0C83.4 224.2 83.2 224.5 82.8 224.7C82.5 224.8 81.9 225.0 81.4 225.2C80.8 225.3 80.0 225.4 79.3 225.4C78.6 225.5 77.8 225.5 77.1 225.5C76.3 225.4 75.5 225.3 75.0 225.2C74.4 225.1 73.9 224.9 73.6 224.7C73.3 224.5 73.2 224.2 73.2 224.0C73.2 223.8 73.3 223.5 73.6 223.3C73.9 223.1 74.4 223.0 75.0 222.8C75.6 222.7 76.3 222.6 77.1 222.5C77.8 222.5 78.6 222.5 79.3 222.5C80.0 222.6 80.7 222.7 81.3 222.9C81.9 223.0 82.5 223.2 82.8 223.3C83.2 223.5 83.4 223.8 83.4 224.0Z" fill="none" stroke="#2a2a2a" stroke-width="0.8"/>
<path d="M82.8 224.0C82.8 224.1 82.6 224.3 82.3 224.4C81.9 224.5 81.4 224.7 80.8 224.7C80.2 224.8 79.5 224.9 78.8 224.9C78.1 224.9 77.2 224.9 76.6 224.8C75.9 224.8 75.3 224.7 74.8 224.6C74.4 224.5 73.9 224.3 73.8 224.2C73.6 224.1 73.5 223.9 73.7 223.8C73.9 223.6 74.2 223.5 74.7 223.4C75.2 223.3 75.9 223.2 76.6 223.2C77.2 223.1 78.0 223.1 78.7 223.1C79.4 223.1 80.2 223.2 80.8 223.3C81.4 223.3 82.0 223.5 82.3 223.6C82.6 223.7 82.8 223.9 82.8 224.0Z" fill="none" stroke="#2a2a2a" stroke-width="0.8"/>
<path d="M69.1 224.0C69.1 224.5 69.0 225.0 68.8 225.5C68.6 225.9 68.4 226.4 68.0 226.7C67.7 227.0 67.2 227.2 66.7 227.4C66.3 227.5 65.7 227.5 65.3 227.4C64.8 227.2 64.4 227.0 64.0 226.6C63.7 226.3 63.4 225.9 63.2 225.4C63.0 225.0 62.8 224.5 62.8 224.0C62.8 223.5 62.9 222.9 63.1 222.5C63.3 222.1 63.6 221.7 64.0 221.4C64.4 221.0 64.8 220.8 65.3 220.7C65.7 220.6 66.3 220.6 66.7 220.7C67.2 220.8 67.6 221.0 68.0 221.3C68.4 221.6 68.7 222.1 68.9 222.5C69.1 222.9 69.2 223.5 69.1 224.0Z" fill="none" stroke="#555" stroke-width="0.6"/>
<path d="M67.8 224.0C67.8 224.3 67.7 224.7 67.5 225.0C67.4 225.3 67.2 225.6 66.9 225.8C66.7 225.9 66.3 226.0 66.0 226.0C65.7 226.0 65.3 225.9 65.1 225.7C64.8 225.6 64.6 225.3 64.5 225.0C64.3 224.7 64.2 224.3 64.2 224.0C64.2 223.7 64.3 223.3 64.4 223.0C64.6 222.7 64.8 222.4 65.1 222.3C65.4 222.1 65.7 222.0 66.0 222.0C66.3 222.0 66.6 222.1 66.9 222.3C67.2 222.4 67.4 222.7 67.6 223.0C67.7 223.3 67.8 223.7 67.8 224.0Z" fill="none" stroke="#555" stroke-width="0.6"/>
<path d="M96.3 224.0C96.2 224.5 96.1 225.0 95.9 225.4C95.8 225.9 95.5 226.3 95.2 226.7C94.9 227.1 94.4 227.4 94.0 227.6C93.5 227.7 93.0 227.8 92.5 227.8C92.0 227.8 91.5 227.8 91.0 227.6C90.6 227.4 90.2 227.0 89.8 226.7C89.5 226.3 89.3 225.9 89.1 225.4C88.9 225.0 88.7 224.5 88.7 224.0C88.7 223.5 88.7 223.0 88.9 222.5C89.1 222.1 89.5 221.6 89.8 221.3C90.2 221.0 90.6 220.7 91.0 220.5C91.5 220.3 92.0 220.2 92.5 220.2C93.0 220.2 93.5 220.3 93.9 220.5C94.4 220.7 94.9 221.0 95.2 221.3C95.6 221.6 95.9 222.1 96.1 222.5C96.2 223.0 96.3 223.5 96.3 224.0Z" fill="none" stroke="#555" stroke-width="0.6"/>
<path d="M94.9 224.0C94.8 224.4 94.8 224.9 94.6 225.2C94.4 225.6 94.0 226.0 93.7 226.2C93.4 226.4 92.9 226.6 92.5 226.6C92.1 226.6 91.6 226.4 91.3 226.2C91.0 225.9 90.7 225.6 90.5 225.2C90.3 224.9 90.1 224.4 90.1 224.0C90.1 223.6 90.2 223.1 90.4 222.7C90.6 222.4 90.9 222.0 91.3 221.8C91.6 221.6 92.1 221.5 92.5 221.5C92.9 221.5 93.4 221.6 93.7 221.8C94.1 222.0 94.4 222.4 94.6 222.7C94.8 223.1 94.9 223.6 94.9 224.0Z" fill="none" stroke="#555" stroke-width="0.6"/>
<path d="M93.7 224.0C93.7 224.2 93.6 224.5 93.5 224.7C93.4 224.8 93.3 225.0 93.1 225.1C92.9 225.2 92.7 225.3 92.5 225.3C92.3 225.3 92.1 225.2 91.9 225.1C91.7 225.0 91.6 224.8 91.5 224.6C91.4 224.5 91.3 224.2 91.3 224.0C91.3 223.8 91.4 223.5 91.5 223.3C91.5 223.2 91.7 222.9 91.9 222.8C92.1 222.7 92.3 222.7 92.5 222.7C92.7 222.7 92.9 222.8 93.1 222.9C93.3 223.0 93.4 223.2 93.5 223.4C93.6 223.5 93.7 223.8 93.7 224.0Z" fill="none" stroke="#555" stroke-width="0.6"/>
<path d="M123.7 260.0C123.5 261.5 123.1 263.0 122.8 264.5C122.4 265.9 121.9 267.4 121.5 268.7C121.0 270.0 120.5 271.3 120.0 272.5C119.5 273.7 118.9 274.8 118.4 275.8C117.9 276.8 117.3 277.8 116.8 278.5C116.3 279.3 115.7 279.9 115.2 280.2C114.6 280.6 114.0 280.7 113.5 280.7C113.0 280.6 112.4 280.2 111.9 279.8C111.3 279.4 110.8 278.7 110.3 278.0C109.8 277.3 109.2 276.5 108.7 275.6C108.1 274.7 107.5 273.7 107.0 272.6C106.4 271.5 105.9 270.2 105.4 268.9C104.9 267.5 104.4 266.0 104.0 264.6C103.7 263.1 103.4 261.5 103.2 260.0C102.9 258.5 102.8 257.0 102.8 255.5C102.8 254.0 102.8 252.5 103.0 251.2C103.2 249.8 103.5 248.5 103.9 247.3C104.4 246.2 104.9 245.1 105.6 244.2C106.3 243.3 107.1 242.6 107.9 242.0C108.7 241.4 109.7 240.9 110.6 240.6C111.5 240.2 112.5 240.0 113.5 239.9C114.5 239.8 115.5 239.8 116.5 240.0C117.5 240.2 118.5 240.6 119.3 241.2C120.2 241.8 121.0 242.7 121.6 243.7C122.3 244.7 122.8 245.9 123.2 247.2C123.6 248.4 123.8 249.8 123.9 251.2C124.1 252.6 124.1 254.1 124.1 255.5C124.0 257.0 123.9 258.5 123.7 260.0Z" fill="none" stroke="#2a2a2a" stroke-width="0.75"/>
<path d="M122.4 259.2C122.2 260.6 121.8 262.0 121.4 263.3C121.1 264.7 120.7 266.0 120.2 267.3C119.8 268.5 119.4 269.8 118.9 271.0C118.5 272.1 118.0 273.3 117.4 274.1C116.9 275.0 116.4 275.8 115.9 276.3C115.3 276.8 114.8 277.0 114.3 277.1C113.8 277.3 113.2 277.1 112.7 276.9C112.2 276.7 111.7 276.3 111.2 275.8C110.7 275.3 110.1 274.6 109.6 273.8C109.1 273.0 108.6 272.0 108.1 270.9C107.6 269.8 107.1 268.6 106.7 267.4C106.2 266.1 105.8 264.8 105.4 263.4C105.0 262.0 104.7 260.6 104.4 259.2C104.2 257.7 104.0 256.2 103.9 254.8C103.9 253.4 104.0 252.0 104.2 250.7C104.5 249.5 104.9 248.3 105.4 247.3C105.9 246.3 106.5 245.5 107.2 244.7C107.9 243.9 108.6 243.3 109.5 242.7C110.3 242.2 111.2 241.7 112.1 241.5C113.0 241.2 114.0 241.1 114.9 241.2C115.9 241.4 116.8 241.7 117.7 242.2C118.5 242.8 119.3 243.5 120.0 244.3C120.6 245.2 121.2 246.1 121.7 247.2C122.2 248.3 122.5 249.5 122.7 250.8C122.9 252.1 123.0 253.5 123.0 254.9C122.9 256.3 122.7 257.8 122.4 259.2Z" fill="none" stroke="#2a2a2a" stroke-width="0.75"/>
<path d="M121.6 258.4C121.4 259.8 121.0 261.2 120.7 262.5C120.3 263.8 119.8 265.1 119.3 266.2C118.9 267.4 118.4 268.4 117.9 269.4C117.4 270.3 116.9 271.2 116.4 271.8C115.9 272.5 115.4 273.0 114.9 273.3C114.5 273.6 114.0 273.8 113.5 273.8C113.0 273.8 112.5 273.7 112.1 273.4C111.6 273.1 111.0 272.7 110.5 272.1C110.0 271.5 109.5 270.6 109.0 269.7C108.5 268.7 108.0 267.5 107.6 266.3C107.2 265.0 106.8 263.7 106.5 262.4C106.2 261.1 105.9 259.7 105.7 258.4C105.5 257.1 105.3 255.7 105.3 254.4C105.2 253.0 105.3 251.7 105.5 250.5C105.8 249.3 106.1 248.2 106.6 247.2C107.1 246.3 107.8 245.5 108.5 244.8C109.2 244.1 110.0 243.6 110.8 243.2C111.7 242.9 112.6 242.7 113.5 242.7C114.4 242.7 115.3 243.0 116.1 243.4C116.9 243.8 117.7 244.4 118.4 245.2C119.1 245.9 119.6 246.7 120.1 247.6C120.6 248.5 121.1 249.5 121.4 250.6C121.7 251.7 121.9 253.0 121.9 254.3C122.0 255.6 121.8 257.0 121.6 258.4Z" fill="none" stroke="#2a2a2a" stroke-width="0.75"/>
<path d="M120.4 257.7C120.2 259.0 119.9 260.3 119.6 261.5C119.2 262.8 118.8 264.0 118.4 265.0C117.9 266.1 117.4 267.1 117.0 267.9C116.5 268.7 116.0 269.4 115.6 270.0C115.1 270.6 114.7 271.1 114.2 271.3C113.7 271.6 113.3 271.6 112.8 271.4C112.3 271.2 111.9 270.7 111.4 270.1C111.0 269.5 110.5 268.6 110.1 267.8C109.6 266.9 109.2 265.9 108.7 264.9C108.3 263.8 107.9 262.7 107.5 261.5C107.1 260.3 106.8 259.0 106.6 257.7C106.4 256.4 106.3 255.1 106.3 253.8C106.3 252.6 106.4 251.3 106.7 250.2C106.9 249.1 107.3 248.1 107.8 247.2C108.4 246.4 109.1 245.6 109.8 245.2C110.5 244.7 111.4 244.5 112.2 244.4C113.1 244.3 113.9 244.4 114.7 244.6C115.5 244.8 116.4 245.0 117.1 245.5C117.8 246.0 118.5 246.5 119.1 247.3C119.6 248.1 120.1 249.2 120.3 250.2C120.6 251.3 120.7 252.6 120.7 253.8C120.7 255.1 120.6 256.4 120.4 257.7Z" fill="none" stroke="#2a2a2a" stroke-width="0.75"/>
<path d="M119.6 257.1C119.4 258.2 119.1 259.5 118.7 260.5C118.4 261.6 117.9 262.7 117.5 263.6C117.1 264.5 116.7 265.4 116.3 266.1C115.9 266.9 115.5 267.6 115.1 268.0C114.7 268.5 114.2 268.8 113.8 268.9C113.4 269.0 113.0 268.8 112.6 268.6C112.1 268.3 111.7 267.8 111.3 267.3C110.9 266.7 110.4 265.9 110.0 265.1C109.6 264.2 109.2 263.2 108.8 262.1C108.5 261.1 108.2 259.9 107.9 258.8C107.7 257.6 107.5 256.5 107.4 255.3C107.3 254.2 107.2 252.9 107.3 251.9C107.4 250.8 107.7 249.7 108.1 248.8C108.5 248.0 109.1 247.3 109.7 246.8C110.3 246.3 111.1 246.0 111.8 245.7C112.5 245.5 113.3 245.4 114.1 245.5C114.8 245.6 115.6 245.8 116.3 246.2C116.9 246.6 117.6 247.2 118.1 247.9C118.6 248.6 119.0 249.5 119.3 250.4C119.6 251.4 119.8 252.4 119.8 253.5C119.9 254.6 119.8 255.9 119.6 257.1Z" fill="none" stroke="#2a2a2a" stroke-width="0.75"/>
<path d="M118.6 256.5C118.5 257.6 118.2 258.8 117.9 259.8C117.6 260.8 117.2 261.8 116.8 262.7C116.4 263.6 116.0 264.4 115.6 265.0C115.2 265.6 114.8 266.2 114.4 266.5C114.0 266.8 113.6 266.8 113.2 266.7C112.8 266.6 112.4 266.1 112.0 265.6C111.6 265.2 111.2 264.5 110.8 263.8C110.4 263.1 110.0 262.3 109.6 261.3C109.2 260.4 108.8 259.3 108.6 258.2C108.3 257.1 108.2 255.9 108.1 254.8C108.1 253.7 108.1 252.6 108.3 251.6C108.5 250.7 108.8 249.7 109.2 249.0C109.7 248.3 110.3 247.7 110.9 247.4C111.5 247.0 112.3 246.8 113.0 246.7C113.7 246.6 114.4 246.5 115.1 246.7C115.8 246.9 116.6 247.3 117.1 247.8C117.6 248.4 118.1 249.3 118.4 250.2C118.7 251.1 118.8 252.2 118.8 253.2C118.9 254.3 118.8 255.4 118.6 256.5Z" fill="none" stroke="#2a2a2a" stroke-width="0.75"/>
<path d="M117.8 255.9C117.7 256.9 117.5 258.0 117.2 258.9C117.0 259.8 116.6 260.8 116.2 261.6C115.9 262.3 115.5 262.9 115.1 263.3C114.7 263.7 114.4 264.0 114.0 264.1C113.7 264.3 113.3 264.4 113.0 264.2C112.6 264.1 112.3 263.8 111.9 263.4C111.5 262.9 111.2 262.2 110.8 261.4C110.5 260.7 110.1 259.8 109.8 258.9C109.5 258.0 109.3 256.9 109.1 255.9C109.0 255.0 109.0 253.9 109.0 253.0C109.1 252.1 109.3 251.3 109.6 250.5C109.9 249.8 110.3 249.0 110.8 248.5C111.2 248.0 111.9 247.5 112.5 247.4C113.1 247.2 113.9 247.3 114.5 247.5C115.1 247.8 115.7 248.2 116.2 248.7C116.7 249.2 117.1 249.8 117.4 250.5C117.7 251.2 117.9 252.1 118.0 253.0C118.0 253.9 117.9 255.0 117.8 255.9Z" fill="none" stroke="#2a2a2a" stroke-width="0.75"/>
<path d="M117.0 255.4C116.9 256.3 116.6 257.2 116.3 258.0C116.1 258.8 115.8 259.6 115.4 260.2C115.1 260.9 114.8 261.4 114.5 261.8C114.1 262.1 113.8 262.3 113.5 262.3C113.2 262.4 112.8 262.2 112.5 261.9C112.2 261.5 111.9 260.9 111.6 260.2C111.3 259.6 111.0 258.8 110.7 257.9C110.5 257.1 110.2 256.3 110.0 255.4C109.9 254.5 109.8 253.5 109.8 252.7C109.9 251.9 110.1 251.1 110.5 250.4C110.8 249.8 111.3 249.3 111.8 249.0C112.3 248.6 112.9 248.4 113.5 248.5C114.1 248.5 114.7 248.8 115.2 249.1C115.7 249.5 116.2 249.9 116.5 250.5C116.8 251.1 117.1 251.9 117.2 252.7C117.3 253.5 117.1 254.5 117.0 255.4Z" fill="none" stroke="#2a2a2a" stroke-width="0.75"/>
<path d="M116.2 254.8C116.1 255.6 115.8 256.4 115.6 257.1C115.4 257.8 115.1 258.5 114.8 258.9C114.5 259.4 114.2 259.7 113.9 259.9C113.6 260.1 113.4 260.1 113.1 260.0C112.8 259.8 112.5 259.5 112.2 259.0C111.9 258.5 111.7 257.8 111.4 257.1C111.2 256.4 111.0 255.6 110.9 254.8C110.7 254.1 110.6 253.2 110.7 252.5C110.8 251.8 111.1 251.1 111.4 250.7C111.7 250.2 112.2 249.8 112.7 249.6C113.2 249.5 113.8 249.5 114.3 249.7C114.7 249.9 115.2 250.3 115.5 250.8C115.8 251.3 116.1 251.8 116.3 252.5C116.4 253.2 116.3 254.1 116.2 254.8Z" fill="none" stroke="#2a2a2a" stroke-width="0.75"/>
<path d="M115.3 254.3C115.3 254.9 115.1 255.5 114.9 256.1C114.7 256.6 114.4 257.2 114.2 257.5C114.0 257.8 113.7 257.9 113.5 257.9C113.3 257.8 113.0 257.7 112.8 257.4C112.6 257.1 112.3 256.6 112.1 256.1C111.9 255.6 111.7 254.9 111.6 254.3C111.6 253.6 111.6 253.0 111.7 252.4C111.8 251.9 112.1 251.5 112.4 251.2C112.7 250.8 113.1 250.5 113.5 250.5C113.9 250.5 114.4 250.7 114.7 251.1C115.0 251.4 115.2 251.9 115.3 252.5C115.4 253.0 115.4 253.7 115.3 254.3Z" fill="none" stroke="#2a2a2a" stroke-width="0.75"/>
</g><g clip-path="url(#c22)">
<path d="M219.7 223.0C219.7 223.7 219.4 224.3 218.9 225.0C218.5 225.6 217.8 226.2 217.0 226.7C216.3 227.3 215.4 227.8 214.4 228.3C213.4 228.8 212.4 229.3 211.2 229.7C210.1 230.1 208.9 230.5 207.5 230.8C206.2 231.1 204.7 231.4 203.2 231.5C201.7 231.7 200.1 231.8 198.6 231.8C197.1 231.8 195.5 231.6 194.0 231.5C192.5 231.3 191.0 231.1 189.7 230.8C188.3 230.6 186.9 230.2 185.7 229.8C184.5 229.4 183.4 228.9 182.5 228.4C181.5 227.9 180.8 227.3 180.1 226.8C179.5 226.2 179.1 225.5 178.8 224.9C178.5 224.3 178.3 223.6 178.3 223.0C178.2 222.4 178.3 221.7 178.5 221.1C178.8 220.4 179.1 219.8 179.7 219.2C180.3 218.5 181.1 217.9 182.1 217.4C183.0 216.9 184.2 216.4 185.5 216.1C186.8 215.7 188.2 215.4 189.7 215.2C191.1 214.9 192.6 214.8 194.1 214.6C195.6 214.5 197.1 214.5 198.6 214.5C200.1 214.4 201.6 214.5 203.1 214.6C204.6 214.8 206.1 215.0 207.4 215.2C208.8 215.5 210.1 215.9 211.3 216.3C212.5 216.7 213.6 217.1 214.6 217.6C215.6 218.1 216.6 218.6 217.3 219.2C218.0 219.8 218.7 220.4 219.1 221.0C219.5 221.7 219.7 222.3 219.7 223.0Z" fill="none" stroke="#444" stroke-width="0.75"/>
<path d="M216.0 223.0C216.0 223.6 215.9 224.3 215.5 224.9C215.1 225.5 214.6 226.1 213.8 226.6C213.1 227.1 212.2 227.6 211.2 228.1C210.2 228.5 209.1 229.0 207.9 229.3C206.6 229.7 205.3 230.0 203.9 230.2C202.5 230.4 201.0 230.5 199.5 230.6C198.0 230.6 196.5 230.5 195.1 230.4C193.6 230.2 192.3 229.9 191.0 229.6C189.7 229.4 188.5 229.0 187.3 228.6C186.2 228.3 185.1 227.8 184.2 227.4C183.2 226.9 182.4 226.3 181.7 225.8C181.1 225.2 180.7 224.6 180.5 224.0C180.3 223.3 180.4 222.7 180.6 222.0C180.8 221.4 181.2 220.8 181.8 220.2C182.3 219.6 183.0 219.1 183.9 218.6C184.8 218.1 185.9 217.6 187.1 217.2C188.2 216.9 189.6 216.6 190.9 216.3C192.3 216.1 193.7 216.0 195.1 215.8C196.6 215.7 198.0 215.7 199.5 215.7C200.9 215.7 202.4 215.7 203.9 215.9C205.3 216.0 206.8 216.2 208.1 216.6C209.3 216.9 210.6 217.3 211.6 217.8C212.5 218.2 213.3 218.8 214.0 219.4C214.7 219.9 215.1 220.5 215.5 221.1C215.8 221.8 216.0 222.4 216.0 223.0Z" fill="none" stroke="#444" stroke-width="0.75"/>
<path d="M213.2 223.0C213.2 223.6 213.2 224.2 212.9 224.7C212.5 225.3 212.1 225.9 211.4 226.4C210.6 226.9 209.7 227.4 208.6 227.7C207.6 228.1 206.3 228.4 205.0 228.6C203.8 228.8 202.5 229.0 201.1 229.1C199.8 229.2 198.5 229.2 197.2 229.2C195.8 229.2 194.4 229.1 193.1 229.0C191.9 228.8 190.6 228.5 189.4 228.2C188.3 227.9 187.3 227.5 186.4 227.0C185.6 226.6 184.8 226.1 184.3 225.5C183.7 225.0 183.3 224.4 183.1 223.9C182.9 223.3 183.0 222.7 183.2 222.1C183.4 221.6 183.9 221.0 184.5 220.5C185.1 220.0 185.9 219.5 186.7 219.1C187.5 218.6 188.4 218.2 189.5 217.8C190.6 217.5 191.8 217.1 193.0 216.9C194.3 216.7 195.8 216.6 197.1 216.6C198.5 216.5 199.9 216.6 201.2 216.8C202.5 216.9 203.8 217.2 205.0 217.4C206.2 217.7 207.3 218.0 208.3 218.4C209.3 218.8 210.2 219.2 210.9 219.7C211.6 220.2 212.2 220.7 212.6 221.3C213.0 221.8 213.2 222.4 213.2 223.0Z" fill="none" stroke="#444" stroke-width="0.75"/>
<path d="M210.8 223.0C210.7 223.5 210.4 224.0 210.1 224.5C209.7 225.0 209.2 225.5 208.6 225.9C208.0 226.3 207.2 226.7 206.4 227.1C205.5 227.4 204.4 227.7 203.3 227.9C202.2 228.1 201.0 228.3 199.8 228.4C198.6 228.4 197.4 228.5 196.2 228.4C194.9 228.3 193.7 228.2 192.6 228.0C191.5 227.8 190.4 227.4 189.6 227.1C188.7 226.7 188.1 226.3 187.5 225.9C186.9 225.4 186.4 225.0 186.1 224.5C185.7 224.0 185.4 223.5 185.4 223.0C185.3 222.5 185.3 222.0 185.6 221.5C185.9 221.0 186.4 220.5 187.1 220.0C187.7 219.6 188.6 219.2 189.6 218.9C190.5 218.6 191.5 218.3 192.6 218.1C193.7 217.8 195.0 217.7 196.2 217.6C197.4 217.6 198.6 217.6 199.8 217.7C201.0 217.8 202.1 218.0 203.2 218.2C204.3 218.4 205.3 218.7 206.3 219.0C207.2 219.3 208.2 219.6 208.8 220.1C209.5 220.5 210.1 221.0 210.5 221.5C210.8 221.9 210.8 222.5 210.8 223.0Z" fill="none" stroke="#444" stroke-width="0.75"/>
<path d="M202.6 223.0C202.6 223.5 202.5 224.0 202.3 224.5C202.2 225.0 201.9 225.5 201.6 225.9C201.3 226.4 200.9 226.8 200.4 227.1C200.0 227.5 199.5 227.9 199.0 228.2C198.4 228.5 197.8 228.7 197.2 228.9C196.6 229.1 195.9 229.3 195.2 229.3C194.6 229.4 193.8 229.4 193.2 229.3C192.5 229.2 191.9 229.0 191.3 228.8C190.7 228.6 190.1 228.3 189.5 228.1C189.0 227.8 188.5 227.5 188.0 227.1C187.5 226.8 187.1 226.4 186.7 225.9C186.4 225.5 186.1 225.0 185.9 224.5C185.7 224.0 185.7 223.5 185.7 223.0C185.7 222.5 185.8 222.0 186.0 221.5C186.1 221.0 186.4 220.5 186.7 220.0C187.0 219.6 187.4 219.2 187.9 218.8C188.3 218.4 188.9 218.1 189.4 217.8C190.0 217.6 190.6 217.4 191.3 217.2C191.9 217.1 192.6 217.0 193.2 216.9C193.9 216.9 194.5 216.8 195.2 216.9C195.9 216.9 196.5 216.9 197.2 217.1C197.8 217.2 198.5 217.4 199.1 217.7C199.6 218.0 200.2 218.4 200.6 218.7C201.0 219.1 201.4 219.6 201.7 220.1C202.0 220.5 202.2 221.0 202.3 221.5C202.5 222.0 202.6 222.5 202.6 223.0Z" fill="none" stroke="#2a2a2a" stroke-width="0.8"/>
<path d="M202.1 223.0C202.1 223.5 202.1 224.0 201.9 224.5C201.8 224.9 201.6 225.4 201.2 225.9C200.9 226.3 200.4 226.7 199.9 227.0C199.4 227.4 198.7 227.6 198.1 227.8C197.5 228.0 196.9 228.2 196.2 228.3C195.5 228.4 194.9 228.5 194.2 228.5C193.5 228.5 192.8 228.5 192.2 228.4C191.5 228.3 190.8 228.1 190.2 227.9C189.6 227.6 189.1 227.3 188.6 227.0C188.1 226.6 187.7 226.2 187.3 225.8C187.0 225.4 186.7 224.9 186.5 224.5C186.3 224.0 186.2 223.5 186.2 223.0C186.2 222.5 186.4 222.0 186.6 221.6C186.8 221.1 187.1 220.7 187.5 220.2C187.8 219.8 188.2 219.4 188.7 219.1C189.1 218.7 189.7 218.4 190.2 218.1C190.8 217.9 191.5 217.6 192.1 217.5C192.8 217.4 193.5 217.3 194.2 217.3C194.9 217.4 195.6 217.5 196.2 217.6C196.9 217.8 197.5 218.0 198.1 218.2C198.7 218.5 199.2 218.8 199.7 219.1C200.2 219.4 200.7 219.8 201.0 220.2C201.3 220.6 201.6 221.1 201.8 221.6C202.0 222.0 202.1 222.5 202.1 223.0Z" fill="none" stroke="#2a2a2a" stroke-width="0.8"/>
<path d="M201.6 223.0C201.6 223.4 201.4 223.9 201.2 224.3C201.0 224.7 200.8 225.1 200.4 225.5C200.1 225.9 199.7 226.3 199.2 226.6C198.8 226.9 198.2 227.2 197.6 227.4C197.0 227.6 196.4 227.7 195.7 227.8C195.1 227.9 194.4 228.0 193.7 227.9C193.0 227.9 192.3 227.8 191.7 227.7C191.0 227.6 190.4 227.3 189.9 227.0C189.4 226.8 188.9 226.4 188.5 226.1C188.1 225.7 187.9 225.3 187.6 224.9C187.4 224.5 187.2 224.1 187.0 223.7C186.9 223.2 186.8 222.8 186.9 222.3C186.9 221.9 187.1 221.4 187.3 221.0C187.6 220.6 188.0 220.2 188.4 219.9C188.8 219.5 189.3 219.2 189.9 219.0C190.5 218.7 191.1 218.5 191.7 218.3C192.3 218.2 193.0 218.1 193.7 218.1C194.4 218.1 195.0 218.1 195.7 218.2C196.3 218.4 197.0 218.5 197.5 218.7C198.1 218.9 198.7 219.2 199.2 219.4C199.7 219.7 200.2 220.1 200.6 220.4C201.0 220.8 201.3 221.2 201.4 221.7C201.6 222.1 201.6 222.6 201.6 223.0Z" fill="none" stroke="#2a2a2a" stroke-width="0.8"/>
<path d="M201.2 223.0C201.2 223.4 201.0 223.8 200.8 224.2C200.6 224.6 200.3 225.0 199.9 225.4C199.5 225.7 199.0 226.0 198.5 226.3C198.0 226.5 197.3 226.7 196.7 226.9C196.1 227.0 195.4 227.1 194.7 227.1C194.0 227.2 193.3 227.2 192.7 227.1C192.0 227.0 191.3 226.9 190.7 226.7C190.1 226.5 189.5 226.2 189.1 225.9C188.7 225.6 188.3 225.2 188.1 224.8C187.8 224.4 187.6 224.0 187.5 223.6C187.4 223.2 187.3 222.8 187.4 222.4C187.5 222.0 187.6 221.5 187.9 221.2C188.2 220.8 188.6 220.4 189.1 220.1C189.6 219.8 190.1 219.5 190.7 219.3C191.3 219.1 192.0 218.9 192.6 218.9C193.3 218.8 194.0 218.8 194.7 218.8C195.4 218.9 196.1 219.0 196.7 219.2C197.3 219.3 197.9 219.6 198.4 219.8C198.9 220.1 199.5 220.3 199.9 220.6C200.3 221.0 200.7 221.3 200.9 221.7C201.1 222.1 201.2 222.6 201.2 223.0Z" fill="none" stroke="#2a2a2a" stroke-width="0.8"/>
<path d="M200.7 223.0C200.6 223.4 200.5 223.7 200.3 224.1C200.1 224.4 199.8 224.8 199.5 225.1C199.1 225.4 198.6 225.7 198.1 225.9C197.5 226.1 196.9 226.3 196.2 226.3C195.6 226.4 194.9 226.5 194.2 226.4C193.5 226.4 192.9 226.4 192.2 226.3C191.6 226.2 190.9 226.1 190.4 225.9C189.8 225.7 189.2 225.4 188.9 225.1C188.5 224.8 188.2 224.4 188.0 224.1C187.8 223.7 187.7 223.4 187.7 223.0C187.7 222.6 187.8 222.3 188.0 221.9C188.3 221.6 188.6 221.3 189.0 221.0C189.4 220.7 189.9 220.4 190.5 220.2C191.0 220.0 191.6 219.8 192.2 219.7C192.8 219.6 193.5 219.4 194.2 219.4C194.9 219.4 195.6 219.5 196.3 219.6C196.9 219.7 197.5 219.9 198.0 220.2C198.6 220.4 199.0 220.7 199.4 221.0C199.8 221.3 200.1 221.6 200.3 221.9C200.5 222.3 200.7 222.6 200.7 223.0Z" fill="none" stroke="#2a2a2a" stroke-width="0.8"/>
<path d="M200.4 223.0C200.4 223.3 200.1 223.7 199.9 223.9C199.6 224.2 199.2 224.5 198.8 224.8C198.3 225.0 197.8 225.2 197.2 225.4C196.6 225.6 195.9 225.7 195.3 225.7C194.6 225.8 193.8 225.8 193.1 225.8C192.4 225.7 191.7 225.6 191.1 225.5C190.5 225.3 189.9 225.1 189.5 224.8C189.1 224.6 188.8 224.2 188.6 223.9C188.3 223.6 188.2 223.3 188.2 223.0C188.2 222.7 188.2 222.3 188.4 222.0C188.6 221.7 189.0 221.4 189.5 221.2C189.9 220.9 190.5 220.7 191.2 220.6C191.8 220.4 192.5 220.3 193.1 220.3C193.8 220.2 194.6 220.2 195.3 220.3C195.9 220.3 196.6 220.5 197.2 220.6C197.8 220.8 198.4 221.0 198.9 221.2C199.4 221.4 199.8 221.7 200.1 222.0C200.3 222.3 200.4 222.7 200.4 223.0Z" fill="none" stroke="#2a2a2a" stroke-width="0.8"/>
<path d="M199.9 223.0C199.9 223.3 199.7 223.5 199.4 223.8C199.1 224.0 198.7 224.3 198.2 224.5C197.7 224.7 197.1 224.9 196.4 225.0C195.8 225.1 194.9 225.2 194.2 225.2C193.5 225.1 192.7 225.1 192.0 224.9C191.4 224.8 190.7 224.7 190.2 224.5C189.7 224.3 189.2 224.0 189.0 223.8C188.7 223.6 188.6 223.3 188.5 223.0C188.5 222.7 188.6 222.4 188.9 222.2C189.2 221.9 189.6 221.7 190.1 221.5C190.6 221.3 191.4 221.2 192.0 221.1C192.7 221.0 193.5 220.9 194.2 220.9C194.9 220.9 195.7 220.9 196.4 221.0C197.1 221.1 197.8 221.3 198.3 221.5C198.8 221.7 199.2 221.9 199.5 222.2C199.7 222.4 199.9 222.7 199.9 223.0Z" fill="none" stroke="#2a2a2a" stroke-width="0.8"/>
<path d="M199.5 223.0C199.5 223.2 199.3 223.4 199.0 223.6C198.7 223.8 198.3 224.0 197.7 224.1C197.2 224.3 196.5 224.4 195.8 224.4C195.1 224.5 194.4 224.5 193.7 224.5C193.0 224.4 192.2 224.4 191.6 224.3C191.0 224.2 190.3 224.1 189.9 223.9C189.5 223.7 189.3 223.5 189.1 223.3C189.0 223.1 189.0 222.9 189.1 222.7C189.3 222.5 189.6 222.3 190.0 222.1C190.4 222.0 191.0 221.8 191.6 221.7C192.2 221.6 192.9 221.5 193.6 221.5C194.3 221.5 195.2 221.5 195.8 221.6C196.5 221.6 197.1 221.8 197.6 221.9C198.1 222.1 198.6 222.2 198.9 222.4C199.2 222.6 199.5 222.8 199.5 223.0Z" fill="none" stroke="#2a2a2a" stroke-width="0.8"/>
<path d="M198.9 223.0C198.9 223.1 198.6 223.3 198.2 223.4C197.9 223.5 197.4 223.7 196.9 223.7C196.3 223.8 195.5 223.9 194.8 223.9C194.1 223.9 193.2 223.9 192.5 223.8C191.8 223.8 191.2 223.7 190.7 223.6C190.2 223.5 189.9 223.3 189.7 223.2C189.5 223.1 189.5 222.9 189.6 222.8C189.8 222.6 190.1 222.5 190.6 222.4C191.1 222.3 191.9 222.2 192.6 222.2C193.2 222.1 194.0 222.1 194.8 222.1C195.5 222.1 196.3 222.2 196.9 222.3C197.5 222.3 198.1 222.5 198.4 222.6C198.7 222.7 198.9 222.9 198.9 223.0Z" fill="none" stroke="#2a2a2a" stroke-width="0.8"/>
<path d="M184.7 223.0C184.7 223.5 184.5 224.0 184.3 224.5C184.1 224.9 183.9 225.3 183.5 225.7C183.1 226.0 182.7 226.2 182.2 226.3C181.8 226.4 181.2 226.5 180.8 226.4C180.3 226.3 179.8 226.0 179.5 225.7C179.1 225.4 178.9 224.9 178.7 224.4C178.5 224.0 178.4 223.5 178.3 223.0C178.3 222.5 178.4 221.9 178.6 221.5C178.8 221.1 179.1 220.6 179.5 220.3C179.9 220.0 180.3 219.8 180.8 219.7C181.2 219.6 181.8 219.6 182.2 219.7C182.7 219.8 183.1 220.1 183.5 220.4C183.8 220.7 184.2 221.1 184.4 221.5C184.6 221.9 184.7 222.5 184.7 223.0Z" fill="none" stroke="#555" stroke-width="0.6"/>
<path d="M183.3 223.0C183.3 223.3 183.2 223.7 183.1 224.0C182.9 224.3 182.7 224.6 182.4 224.7C182.1 224.9 181.8 225.0 181.5 225.0C181.2 225.0 180.8 224.9 180.6 224.8C180.3 224.6 180.1 224.3 180.0 224.0C179.8 223.7 179.7 223.3 179.7 223.0C179.7 222.7 179.8 222.3 179.9 222.0C180.1 221.7 180.3 221.4 180.6 221.3C180.9 221.1 181.2 221.0 181.5 221.0C181.8 221.0 182.1 221.1 182.4 221.3C182.6 221.5 182.9 221.7 183.1 222.0C183.2 222.3 183.3 222.7 183.3 223.0Z" fill="none" stroke="#555" stroke-width="0.6"/>
<path d="M213.8 223.0C213.8 223.5 213.6 224.0 213.4 224.4C213.2 224.9 212.9 225.3 212.6 225.7C212.3 226.0 211.8 226.4 211.4 226.6C210.9 226.8 210.4 226.9 209.9 226.9C209.4 227.0 208.8 227.0 208.3 226.9C207.9 226.8 207.3 226.5 206.9 226.2C206.5 225.9 206.2 225.5 206.0 225.1C205.7 224.7 205.6 224.2 205.5 223.7C205.4 223.2 205.3 222.7 205.4 222.3C205.4 221.8 205.6 221.3 205.9 220.9C206.1 220.5 206.5 220.1 206.9 219.8C207.4 219.5 207.8 219.2 208.3 219.1C208.8 219.0 209.4 219.0 209.9 219.0C210.4 219.1 210.9 219.3 211.3 219.5C211.8 219.7 212.2 220.0 212.5 220.4C212.9 220.7 213.3 221.1 213.5 221.5C213.7 222.0 213.8 222.5 213.8 223.0Z" fill="none" stroke="#555" stroke-width="0.6"/>
<path d="M212.3 223.0C212.3 223.4 212.2 223.9 212.0 224.2C211.8 224.6 211.5 225.0 211.1 225.3C210.8 225.5 210.3 225.6 209.8 225.7C209.4 225.7 208.9 225.6 208.5 225.5C208.1 225.4 207.7 225.1 207.4 224.8C207.1 224.5 206.9 224.1 206.8 223.6C206.7 223.2 206.7 222.8 206.8 222.4C206.9 222.0 207.2 221.6 207.4 221.2C207.7 220.9 208.1 220.7 208.5 220.5C208.9 220.3 209.4 220.2 209.8 220.2C210.3 220.3 210.7 220.5 211.1 220.8C211.5 221.0 211.8 221.4 212.0 221.8C212.2 222.1 212.3 222.6 212.3 223.0Z" fill="none" stroke="#555" stroke-width="0.6"/>
<path d="M210.9 223.0C210.9 223.2 210.8 223.5 210.7 223.7C210.6 223.9 210.4 224.1 210.2 224.2C210.0 224.3 209.7 224.4 209.5 224.4C209.3 224.4 209.0 224.4 208.8 224.2C208.6 224.1 208.4 223.9 208.3 223.7C208.2 223.5 208.1 223.2 208.1 223.0C208.1 222.8 208.2 222.5 208.3 222.3C208.4 222.1 208.6 221.9 208.8 221.8C209.0 221.7 209.3 221.6 209.5 221.6C209.7 221.6 210.0 221.7 210.2 221.8C210.4 221.9 210.6 222.1 210.7 222.3C210.9 222.5 210.9 222.8 210.9 223.0Z" fill="none" stroke="#555" stroke-width="0.6"/>
<path d="M242.0 261.5C241.7 263.3 241.4 265.1 241.0 266.9C240.6 268.7 240.1 270.5 239.6 272.2C239.1 273.8 238.5 275.5 237.9 276.8C237.3 278.2 236.6 279.5 236.0 280.5C235.4 281.5 234.8 282.2 234.2 282.9C233.7 283.5 233.1 284.0 232.6 284.3C232.0 284.7 231.5 284.9 231.0 285.0C230.5 285.0 229.9 285.0 229.4 284.7C228.9 284.4 228.3 283.9 227.7 283.2C227.2 282.5 226.6 281.5 226.0 280.4C225.4 279.3 224.8 277.9 224.2 276.5C223.7 275.1 223.1 273.6 222.5 272.0C222.0 270.4 221.5 268.6 221.0 266.9C220.6 265.1 220.2 263.3 219.9 261.5C219.6 259.7 219.5 257.9 219.4 256.2C219.4 254.4 219.5 252.8 219.7 251.2C219.9 249.6 220.3 248.2 220.7 246.8C221.1 245.4 221.7 244.0 222.3 242.8C223.0 241.6 223.8 240.5 224.7 239.6C225.5 238.8 226.6 238.0 227.7 237.6C228.7 237.2 229.9 237.1 231.0 237.2C232.1 237.3 233.2 237.7 234.3 238.2C235.3 238.7 236.3 239.4 237.2 240.2C238.1 241.0 238.9 241.9 239.6 243.0C240.3 244.1 240.9 245.3 241.4 246.7C241.8 248.0 242.2 249.6 242.4 251.1C242.5 252.7 242.6 254.5 242.5 256.2C242.4 257.9 242.2 259.7 242.0 261.5Z" fill="none" stroke="#2a2a2a" stroke-width="0.75"/>
<path d="M240.7 260.2C240.4 261.9 239.9 263.6 239.5 265.2C239.1 266.8 238.6 268.4 238.1 269.9C237.6 271.4 237.1 272.9 236.5 274.2C236.0 275.5 235.5 276.7 234.9 277.7C234.4 278.7 233.8 279.5 233.3 280.1C232.8 280.7 232.3 281.1 231.8 281.3C231.3 281.6 230.7 281.6 230.2 281.5C229.7 281.3 229.2 281.0 228.6 280.3C228.1 279.7 227.6 278.9 227.0 277.8C226.5 276.8 226.0 275.5 225.5 274.1C225.0 272.8 224.5 271.3 224.0 269.8C223.5 268.3 223.1 266.7 222.6 265.2C222.2 263.6 221.7 261.9 221.4 260.2C221.1 258.6 220.8 256.8 220.7 255.1C220.6 253.5 220.7 251.8 220.9 250.3C221.1 248.8 221.5 247.3 222.0 246.1C222.5 244.8 223.1 243.7 223.9 242.7C224.6 241.8 225.5 240.9 226.4 240.3C227.3 239.8 228.4 239.3 229.4 239.2C230.4 239.0 231.6 239.1 232.6 239.4C233.6 239.7 234.6 240.2 235.5 240.8C236.4 241.4 237.2 242.2 238.0 243.1C238.7 244.0 239.4 245.1 239.9 246.2C240.4 247.4 240.9 248.8 241.1 250.3C241.4 251.8 241.4 253.4 241.3 255.1C241.3 256.8 241.0 258.6 240.7 260.2Z" fill="none" stroke="#2a2a2a" stroke-width="0.75"/>
<path d="M239.6 259.1C239.4 260.7 238.9 262.4 238.5 263.9C238.1 265.4 237.5 266.9 237.0 268.3C236.5 269.7 236.0 271.0 235.5 272.1C235.0 273.3 234.5 274.3 233.9 275.0C233.4 275.8 232.9 276.4 232.4 276.7C231.9 277.1 231.5 277.3 231.0 277.4C230.5 277.4 230.0 277.3 229.5 277.0C229.0 276.7 228.5 276.1 228.0 275.3C227.5 274.6 226.9 273.5 226.4 272.3C225.9 271.1 225.5 269.7 225.0 268.2C224.5 266.8 224.1 265.3 223.7 263.8C223.3 262.2 222.9 260.7 222.6 259.1C222.4 257.5 222.1 255.8 222.0 254.3C222.0 252.7 222.0 251.1 222.3 249.7C222.5 248.3 222.9 247.0 223.4 245.9C224.0 244.7 224.7 243.7 225.4 242.9C226.2 242.1 227.1 241.4 228.0 241.0C229.0 240.6 230.0 240.5 231.0 240.5C232.0 240.6 233.0 241.0 233.9 241.5C234.8 242.0 235.6 242.7 236.4 243.5C237.1 244.3 237.8 245.2 238.3 246.3C238.9 247.3 239.3 248.5 239.6 249.8C239.9 251.1 240.1 252.7 240.1 254.2C240.1 255.7 239.9 257.5 239.6 259.1Z" fill="none" stroke="#2a2a2a" stroke-width="0.75"/>
<path d="M238.3 258.0C238.1 259.5 237.7 261.1 237.3 262.5C236.9 264.0 236.5 265.4 236.0 266.7C235.6 268.0 235.1 269.3 234.6 270.4C234.1 271.4 233.6 272.3 233.1 272.8C232.6 273.4 232.1 273.7 231.7 273.8C231.2 274.0 230.8 273.9 230.3 273.7C229.9 273.4 229.4 273.1 228.9 272.6C228.4 272.0 227.9 271.3 227.4 270.3C226.9 269.4 226.4 268.2 225.9 266.9C225.4 265.6 225.0 264.1 224.6 262.6C224.2 261.1 223.8 259.5 223.6 258.0C223.4 256.5 223.2 254.9 223.2 253.5C223.3 252.1 223.4 250.7 223.7 249.4C224.0 248.2 224.5 247.1 225.0 246.2C225.6 245.2 226.3 244.3 227.0 243.6C227.8 242.9 228.7 242.3 229.6 242.0C230.5 241.6 231.5 241.5 232.5 241.7C233.4 241.9 234.3 242.4 235.1 243.1C235.9 243.8 236.6 244.8 237.1 245.9C237.6 246.9 238.0 248.2 238.3 249.4C238.6 250.7 238.7 252.1 238.7 253.5C238.7 255.0 238.5 256.5 238.3 258.0Z" fill="none" stroke="#2a2a2a" stroke-width="0.75"/>
<path d="M237.5 257.1C237.2 258.5 236.8 259.9 236.4 261.2C236.0 262.4 235.6 263.7 235.1 264.8C234.7 265.9 234.3 267.0 233.8 267.8C233.4 268.7 233.0 269.5 232.6 270.0C232.1 270.5 231.7 270.8 231.3 270.9C230.9 271.1 230.5 271.0 230.1 270.8C229.6 270.5 229.2 270.1 228.7 269.4C228.3 268.7 227.8 267.7 227.4 266.7C227.0 265.6 226.5 264.3 226.2 263.1C225.8 261.8 225.4 260.5 225.1 259.1C224.8 257.8 224.5 256.4 224.4 255.0C224.3 253.7 224.2 252.2 224.3 251.0C224.4 249.7 224.7 248.5 225.2 247.6C225.6 246.6 226.2 245.7 226.9 245.1C227.5 244.4 228.3 243.9 229.1 243.6C229.9 243.3 230.8 243.1 231.6 243.3C232.5 243.4 233.3 243.8 234.1 244.3C234.8 244.8 235.5 245.5 236.0 246.3C236.6 247.1 237.1 248.1 237.4 249.2C237.7 250.3 237.9 251.6 237.9 252.9C237.9 254.2 237.7 255.7 237.5 257.1Z" fill="none" stroke="#2a2a2a" stroke-width="0.75"/>
<path d="M236.5 256.2C236.3 257.5 235.9 258.9 235.5 260.1C235.2 261.3 234.7 262.4 234.3 263.5C233.9 264.5 233.5 265.5 233.1 266.3C232.7 267.1 232.3 267.8 231.9 268.2C231.5 268.6 231.1 268.6 230.7 268.5C230.3 268.3 229.9 267.8 229.5 267.2C229.1 266.6 228.7 265.9 228.3 265.0C227.8 264.1 227.4 263.0 227.0 261.9C226.6 260.8 226.2 259.5 225.9 258.2C225.6 256.9 225.4 255.6 225.3 254.3C225.2 253.0 225.1 251.6 225.3 250.5C225.5 249.3 225.8 248.2 226.3 247.3C226.7 246.5 227.4 245.8 228.1 245.4C228.8 244.9 229.6 244.6 230.4 244.5C231.2 244.4 232.1 244.3 232.8 244.6C233.6 244.8 234.4 245.3 235.0 246.0C235.5 246.7 236.0 247.8 236.3 248.8C236.6 249.9 236.8 251.1 236.8 252.4C236.8 253.6 236.7 255.0 236.5 256.2Z" fill="none" stroke="#2a2a2a" stroke-width="0.75"/>
<path d="M235.7 255.4C235.5 256.6 235.2 257.8 234.9 258.9C234.6 260.0 234.2 261.1 233.8 262.0C233.4 262.8 233.0 263.7 232.6 264.2C232.2 264.7 231.9 265.0 231.5 265.2C231.2 265.3 230.8 265.3 230.5 265.1C230.1 265.0 229.8 264.7 229.4 264.2C229.0 263.7 228.6 262.9 228.2 262.0C227.8 261.1 227.5 260.0 227.2 258.9C226.9 257.8 226.6 256.6 226.4 255.4C226.2 254.3 226.1 253.0 226.1 252.0C226.2 250.9 226.4 249.8 226.7 248.9C227.0 248.1 227.5 247.3 228.0 246.7C228.5 246.1 229.2 245.6 229.9 245.3C230.6 245.1 231.4 245.1 232.1 245.4C232.8 245.6 233.4 246.2 234.0 246.8C234.5 247.4 234.9 248.2 235.2 249.1C235.5 250.0 235.8 250.9 235.9 252.0C235.9 253.0 235.9 254.3 235.7 255.4Z" fill="none" stroke="#2a2a2a" stroke-width="0.75"/>
<path d="M234.8 254.6C234.6 255.6 234.2 256.7 233.9 257.6C233.6 258.6 233.3 259.5 232.9 260.2C232.6 261.0 232.3 261.8 232.0 262.2C231.7 262.7 231.3 262.9 231.0 262.9C230.7 262.9 230.4 262.6 230.0 262.1C229.7 261.7 229.3 261.1 229.0 260.3C228.7 259.6 228.3 258.6 228.0 257.7C227.8 256.7 227.5 255.6 227.3 254.6C227.1 253.5 227.0 252.4 227.0 251.4C227.1 250.4 227.3 249.4 227.7 248.7C228.0 248.0 228.6 247.5 229.1 247.1C229.7 246.8 230.4 246.5 231.0 246.5C231.6 246.5 232.4 246.6 232.9 247.0C233.5 247.3 234.0 248.0 234.3 248.8C234.7 249.5 234.9 250.4 235.0 251.4C235.0 252.4 234.9 253.5 234.8 254.6Z" fill="none" stroke="#2a2a2a" stroke-width="0.75"/>
<path d="M233.9 253.7C233.8 254.6 233.5 255.6 233.2 256.4C232.9 257.3 232.6 258.1 232.3 258.6C232.0 259.1 231.7 259.5 231.4 259.7C231.1 259.9 230.9 260.0 230.6 259.8C230.3 259.6 230.0 259.3 229.7 258.7C229.4 258.1 229.1 257.2 228.8 256.4C228.6 255.6 228.3 254.6 228.2 253.7C228.0 252.8 227.9 251.8 228.0 251.0C228.1 250.2 228.4 249.4 228.7 248.8C229.1 248.3 229.6 247.8 230.1 247.6C230.7 247.4 231.3 247.5 231.8 247.7C232.4 247.9 232.9 248.4 233.2 249.0C233.6 249.5 233.9 250.2 234.0 251.0C234.1 251.8 234.1 252.8 233.9 253.7Z" fill="none" stroke="#2a2a2a" stroke-width="0.75"/>
<path d="M233.0 252.9C232.9 253.6 232.6 254.5 232.4 255.1C232.2 255.7 231.9 256.3 231.7 256.6C231.5 257.0 231.2 257.2 231.0 257.2C230.8 257.2 230.6 257.0 230.3 256.6C230.1 256.3 229.8 255.7 229.6 255.1C229.3 254.5 229.1 253.6 229.0 252.9C228.9 252.2 228.9 251.4 229.0 250.8C229.1 250.1 229.4 249.5 229.7 249.1C230.0 248.8 230.6 248.5 231.0 248.5C231.4 248.5 232.0 248.7 232.3 249.1C232.6 249.5 232.9 250.1 233.0 250.8C233.1 251.4 233.1 252.2 233.0 252.9Z" fill="none" stroke="#2a2a2a" stroke-width="0.75"/>
</g><g clip-path="url(#c23)">
<path d="M336.2 223.5C336.1 224.1 335.7 224.8 335.2 225.3C334.8 225.9 334.1 226.5 333.4 227.0C332.7 227.6 331.8 228.1 330.9 228.6C329.9 229.0 328.9 229.5 327.7 229.9C326.5 230.3 325.2 230.6 323.8 230.9C322.5 231.2 321.0 231.4 319.5 231.6C317.9 231.7 316.4 231.8 314.8 231.8C313.2 231.8 311.6 231.8 310.1 231.7C308.5 231.5 307.0 231.4 305.5 231.1C304.1 230.9 302.6 230.5 301.4 230.1C300.2 229.7 299.1 229.2 298.2 228.7C297.3 228.2 296.6 227.6 296.1 227.1C295.5 226.5 295.1 225.9 294.7 225.3C294.4 224.7 294.2 224.1 294.1 223.5C294.0 222.9 294.0 222.3 294.3 221.7C294.6 221.0 295.0 220.4 295.7 219.9C296.3 219.3 297.2 218.7 298.2 218.3C299.2 217.8 300.4 217.4 301.7 217.0C302.9 216.6 304.3 216.3 305.7 216.1C307.1 215.8 308.6 215.6 310.1 215.4C311.7 215.3 313.3 215.2 314.8 215.2C316.3 215.2 317.9 215.3 319.4 215.5C320.9 215.6 322.4 215.8 323.8 216.1C325.2 216.4 326.5 216.7 327.8 217.1C329.0 217.4 330.2 217.9 331.3 218.3C332.3 218.8 333.4 219.3 334.1 219.8C334.9 220.4 335.5 221.0 335.8 221.6C336.2 222.2 336.3 222.9 336.2 223.5Z" fill="none" stroke="#444" stroke-width="0.75"/>
<path d="M332.5 223.5C332.5 224.1 332.3 224.7 331.8 225.3C331.4 225.8 330.8 226.4 330.0 226.9C329.3 227.4 328.4 227.9 327.5 228.3C326.5 228.7 325.4 229.2 324.2 229.5C323.0 229.9 321.7 230.2 320.3 230.4C318.8 230.7 317.2 230.8 315.7 230.8C314.2 230.9 312.6 230.8 311.1 230.6C309.6 230.5 308.2 230.2 306.9 229.9C305.6 229.6 304.3 229.3 303.2 228.9C302.0 228.6 301.0 228.1 300.1 227.7C299.2 227.2 298.4 226.7 297.9 226.1C297.3 225.6 297.0 225.0 296.8 224.4C296.6 223.8 296.6 223.2 296.7 222.6C296.9 222.0 297.2 221.4 297.7 220.9C298.2 220.3 298.8 219.7 299.7 219.2C300.6 218.8 301.7 218.3 302.9 217.9C304.1 217.6 305.5 217.3 306.9 217.1C308.3 216.9 309.8 216.7 311.2 216.6C312.7 216.5 314.2 216.4 315.7 216.5C317.2 216.5 318.7 216.5 320.2 216.7C321.6 216.8 323.1 217.1 324.4 217.4C325.7 217.7 326.9 218.1 327.9 218.5C328.9 219.0 329.7 219.5 330.4 220.1C331.1 220.6 331.7 221.2 332.0 221.7C332.4 222.3 332.6 222.9 332.5 223.5Z" fill="none" stroke="#444" stroke-width="0.75"/>
<path d="M329.9 223.5C329.9 224.0 329.7 224.6 329.3 225.2C328.9 225.7 328.3 226.2 327.6 226.7C326.8 227.2 325.9 227.6 324.9 228.0C323.9 228.3 322.6 228.7 321.4 228.9C320.1 229.1 318.7 229.3 317.4 229.3C316.0 229.4 314.7 229.4 313.3 229.4C311.9 229.4 310.6 229.3 309.2 229.1C307.9 229.0 306.5 228.8 305.4 228.5C304.2 228.2 303.1 227.8 302.2 227.4C301.3 227.0 300.7 226.4 300.2 225.9C299.7 225.4 299.4 224.9 299.2 224.3C299.1 223.8 299.0 223.2 299.2 222.7C299.4 222.1 299.7 221.6 300.3 221.1C300.8 220.6 301.6 220.1 302.4 219.7C303.3 219.3 304.4 218.9 305.5 218.6C306.6 218.2 307.9 218.0 309.1 217.8C310.4 217.6 311.9 217.4 313.2 217.4C314.6 217.3 316.1 217.4 317.5 217.5C318.8 217.6 320.1 217.9 321.3 218.2C322.4 218.5 323.5 218.8 324.5 219.2C325.5 219.6 326.4 220.0 327.2 220.4C328.0 220.9 328.7 221.3 329.1 221.9C329.6 222.4 329.8 223.0 329.9 223.5Z" fill="none" stroke="#444" stroke-width="0.75"/>
<path d="M327.2 223.5C327.1 224.0 326.8 224.5 326.4 224.9C326.0 225.4 325.4 225.8 324.7 226.2C324.1 226.6 323.4 227.0 322.5 227.3C321.7 227.7 320.7 228.0 319.6 228.2C318.5 228.5 317.2 228.6 316.0 228.7C314.8 228.8 313.5 228.7 312.2 228.7C311.0 228.6 309.8 228.4 308.7 228.2C307.6 228.0 306.5 227.7 305.6 227.4C304.7 227.1 303.8 226.7 303.2 226.3C302.6 225.9 302.1 225.4 301.8 224.9C301.5 224.5 301.3 224.0 301.3 223.5C301.2 223.0 301.3 222.5 301.6 222.0C301.8 221.6 302.3 221.1 303.0 220.7C303.6 220.3 304.6 219.9 305.5 219.6C306.5 219.3 307.6 219.1 308.8 218.9C309.9 218.7 311.1 218.6 312.3 218.5C313.5 218.4 314.8 218.4 316.0 218.4C317.2 218.5 318.4 218.6 319.6 218.8C320.7 219.0 321.8 219.3 322.7 219.6C323.6 219.9 324.5 220.3 325.2 220.7C325.8 221.1 326.4 221.6 326.8 222.0C327.1 222.5 327.3 223.0 327.2 223.5Z" fill="none" stroke="#444" stroke-width="0.75"/>
<path d="M318.7 223.8C318.7 224.3 318.5 224.8 318.4 225.2C318.2 225.7 317.9 226.1 317.5 226.5C317.2 226.9 316.8 227.3 316.3 227.6C315.9 228.0 315.4 228.3 314.8 228.5C314.3 228.8 313.6 229.0 313.0 229.1C312.4 229.2 311.7 229.3 311.0 229.2C310.3 229.2 309.7 229.0 309.1 228.8C308.5 228.6 307.9 228.4 307.4 228.1C306.9 227.8 306.4 227.5 306.0 227.1C305.6 226.7 305.2 226.3 304.9 225.9C304.7 225.5 304.5 225.0 304.4 224.5C304.3 224.0 304.3 223.6 304.4 223.1C304.5 222.6 304.6 222.1 304.8 221.7C305.1 221.2 305.4 220.8 305.8 220.4C306.2 220.0 306.8 219.7 307.3 219.4C307.9 219.2 308.5 219.0 309.1 218.9C309.7 218.7 310.4 218.6 311.0 218.6C311.7 218.6 312.3 218.5 313.0 218.6C313.6 218.7 314.3 218.8 314.9 219.0C315.5 219.2 316.0 219.5 316.5 219.9C317.0 220.2 317.4 220.6 317.7 221.0C318.0 221.5 318.3 221.9 318.4 222.4C318.6 222.8 318.7 223.3 318.7 223.8Z" fill="none" stroke="#2a2a2a" stroke-width="0.8"/>
<path d="M318.4 223.8C318.4 224.2 318.3 224.7 318.1 225.1C317.9 225.6 317.6 226.0 317.3 226.4C316.9 226.7 316.5 227.1 316.0 227.4C315.5 227.7 314.9 227.9 314.3 228.1C313.7 228.2 313.1 228.3 312.4 228.4C311.8 228.4 311.2 228.4 310.6 228.3C309.9 228.3 309.3 228.2 308.7 228.1C308.1 227.9 307.5 227.7 307.0 227.4C306.5 227.1 306.0 226.8 305.7 226.4C305.4 226.0 305.1 225.6 305.0 225.1C304.8 224.7 304.7 224.2 304.7 223.8C304.7 223.4 304.8 222.9 305.0 222.5C305.2 222.1 305.4 221.6 305.8 221.3C306.1 220.9 306.6 220.6 307.1 220.3C307.5 220.0 308.1 219.7 308.7 219.5C309.2 219.3 309.9 219.1 310.5 219.1C311.2 219.0 311.9 219.0 312.5 219.1C313.1 219.2 313.7 219.4 314.3 219.6C314.9 219.8 315.4 220.1 315.8 220.3C316.3 220.6 316.7 221.0 317.1 221.3C317.5 221.7 317.8 222.1 318.0 222.5C318.3 222.9 318.4 223.4 318.4 223.8Z" fill="none" stroke="#2a2a2a" stroke-width="0.8"/>
<path d="M317.9 223.8C317.9 224.2 317.7 224.7 317.5 225.0C317.2 225.4 316.9 225.8 316.5 226.1C316.2 226.5 315.7 226.8 315.2 227.1C314.7 227.4 314.1 227.6 313.5 227.8C312.9 227.9 312.2 228.0 311.5 228.0C310.8 228.0 310.1 227.9 309.5 227.7C308.9 227.6 308.3 227.4 307.7 227.1C307.2 226.9 306.7 226.5 306.3 226.2C306.0 225.9 305.7 225.4 305.5 225.0C305.3 224.6 305.2 224.2 305.2 223.8C305.2 223.4 305.2 222.9 305.4 222.5C305.5 222.1 305.8 221.7 306.2 221.3C306.6 221.0 307.2 220.7 307.7 220.5C308.3 220.2 308.9 220.1 309.6 220.0C310.2 219.8 310.8 219.8 311.5 219.7C312.2 219.7 312.9 219.8 313.5 219.9C314.1 220.0 314.8 220.2 315.3 220.5C315.8 220.7 316.3 221.0 316.7 221.4C317.1 221.7 317.5 222.1 317.7 222.5C317.9 222.9 318.0 223.4 317.9 223.8Z" fill="none" stroke="#2a2a2a" stroke-width="0.8"/>
<path d="M317.6 223.8C317.6 224.2 317.4 224.6 317.2 224.9C317.0 225.3 316.6 225.7 316.2 226.0C315.8 226.2 315.3 226.5 314.8 226.7C314.2 226.9 313.6 227.0 312.9 227.1C312.3 227.2 311.7 227.3 311.0 227.3C310.4 227.2 309.7 227.2 309.1 227.0C308.5 226.9 307.8 226.7 307.4 226.4C306.9 226.2 306.5 225.8 306.3 225.5C306.0 225.1 305.8 224.7 305.7 224.4C305.6 224.0 305.5 223.6 305.6 223.2C305.7 222.8 305.9 222.5 306.2 222.1C306.5 221.8 306.9 221.5 307.4 221.2C307.9 220.9 308.5 220.7 309.1 220.6C309.7 220.4 310.4 220.3 311.0 220.3C311.6 220.3 312.3 220.3 313.0 220.5C313.6 220.6 314.1 220.8 314.7 221.0C315.2 221.2 315.8 221.4 316.2 221.7C316.6 222.0 317.0 222.3 317.3 222.6C317.5 223.0 317.6 223.4 317.6 223.8Z" fill="none" stroke="#2a2a2a" stroke-width="0.8"/>
<path d="M317.1 223.8C317.1 224.1 317.0 224.5 316.8 224.9C316.6 225.2 316.1 225.5 315.7 225.8C315.2 226.0 314.6 226.2 314.0 226.4C313.4 226.5 312.7 226.7 312.0 226.7C311.3 226.7 310.6 226.7 310.0 226.6C309.3 226.5 308.7 226.3 308.1 226.1C307.6 225.9 307.0 225.7 306.6 225.4C306.3 225.1 306.0 224.7 305.9 224.3C305.9 224.0 306.0 223.6 306.1 223.3C306.3 222.9 306.5 222.6 306.8 222.3C307.2 222.0 307.6 221.7 308.1 221.5C308.6 221.3 309.3 221.1 310.0 221.0C310.6 220.9 311.3 220.8 312.0 220.9C312.7 220.9 313.4 221.0 314.0 221.2C314.6 221.3 315.2 221.6 315.6 221.9C316.0 222.1 316.3 222.5 316.6 222.8C316.8 223.1 317.0 223.5 317.1 223.8Z" fill="none" stroke="#2a2a2a" stroke-width="0.8"/>
<path d="M316.6 223.8C316.6 224.1 316.5 224.4 316.3 224.7C316.0 224.9 315.6 225.2 315.1 225.4C314.7 225.6 314.1 225.8 313.5 225.9C312.9 226.0 312.2 226.1 311.5 226.1C310.8 226.1 310.1 226.0 309.5 225.9C308.9 225.8 308.4 225.6 307.9 225.4C307.4 225.2 307.0 224.9 306.7 224.7C306.4 224.4 306.2 224.1 306.2 223.8C306.2 223.5 306.4 223.2 306.7 222.9C307.0 222.6 307.4 222.4 307.8 222.2C308.3 222.0 308.9 221.8 309.5 221.7C310.1 221.6 310.8 221.6 311.5 221.5C312.2 221.5 312.9 221.6 313.5 221.7C314.1 221.8 314.8 221.9 315.3 222.1C315.8 222.3 316.1 222.6 316.3 222.9C316.6 223.2 316.6 223.5 316.6 223.8Z" fill="none" stroke="#2a2a2a" stroke-width="0.8"/>
<path d="M316.3 223.8C316.3 224.0 316.1 224.3 315.8 224.5C315.5 224.8 315.0 225.0 314.5 225.1C313.9 225.3 313.2 225.4 312.6 225.5C311.9 225.5 311.1 225.5 310.4 225.4C309.8 225.4 309.1 225.3 308.5 225.1C307.9 225.0 307.4 224.8 307.1 224.6C306.8 224.3 306.7 224.0 306.7 223.8C306.7 223.6 306.9 223.3 307.2 223.1C307.6 222.9 308.0 222.6 308.5 222.5C309.1 222.3 309.8 222.2 310.4 222.1C311.1 222.1 311.9 222.1 312.6 222.1C313.3 222.2 314.0 222.3 314.5 222.5C315.1 222.6 315.4 222.9 315.7 223.1C316.0 223.3 316.3 223.6 316.3 223.8Z" fill="none" stroke="#2a2a2a" stroke-width="0.8"/>
<path d="M315.9 223.8C316.0 224.0 315.8 224.2 315.5 224.3C315.2 224.5 314.5 224.6 314.0 224.7C313.4 224.8 312.7 224.9 312.0 224.9C311.4 224.9 310.6 224.9 309.9 224.8C309.3 224.8 308.7 224.7 308.2 224.5C307.7 224.4 307.3 224.2 307.2 224.1C307.0 223.9 307.1 223.7 307.3 223.5C307.5 223.4 307.8 223.2 308.2 223.1C308.6 222.9 309.3 222.8 309.9 222.8C310.6 222.7 311.3 222.7 312.0 222.7C312.7 222.7 313.4 222.8 314.0 222.9C314.5 223.0 315.0 223.1 315.3 223.3C315.7 223.4 315.9 223.6 315.9 223.8Z" fill="none" stroke="#2a2a2a" stroke-width="0.8"/>
<path d="M302.2 223.5C302.3 224.0 302.1 224.5 301.9 225.0C301.7 225.4 301.4 225.9 301.0 226.2C300.6 226.5 300.2 226.7 299.7 226.8C299.2 226.9 298.8 226.8 298.3 226.7C297.8 226.7 297.3 226.5 297.0 226.2C296.6 225.9 296.3 225.4 296.1 225.0C295.9 224.5 295.8 224.0 295.8 223.5C295.8 223.0 295.9 222.5 296.1 222.0C296.3 221.6 296.7 221.2 297.0 220.9C297.4 220.5 297.8 220.3 298.3 220.1C298.7 220.0 299.3 220.0 299.7 220.2C300.2 220.3 300.6 220.6 300.9 220.9C301.3 221.2 301.6 221.6 301.9 222.0C302.1 222.5 302.2 223.0 302.2 223.5Z" fill="none" stroke="#555" stroke-width="0.6"/>
<path d="M300.8 223.5C300.8 223.8 300.7 224.2 300.5 224.5C300.4 224.8 300.2 225.1 299.9 225.2C299.7 225.4 299.3 225.5 299.0 225.5C298.7 225.5 298.4 225.4 298.1 225.2C297.8 225.1 297.6 224.8 297.5 224.5C297.3 224.2 297.2 223.8 297.2 223.5C297.2 223.2 297.3 222.8 297.4 222.5C297.6 222.2 297.8 221.9 298.1 221.8C298.4 221.6 298.7 221.5 299.0 221.5C299.3 221.5 299.6 221.6 299.9 221.8C300.2 221.9 300.4 222.2 300.6 222.5C300.7 222.8 300.8 223.2 300.8 223.5Z" fill="none" stroke="#555" stroke-width="0.6"/>
<path d="M330.2 223.5C330.2 224.0 330.0 224.5 329.8 224.9C329.6 225.4 329.4 225.8 329.0 226.1C328.7 226.5 328.3 226.9 327.9 227.1C327.5 227.4 326.9 227.5 326.4 227.6C325.9 227.6 325.3 227.5 324.8 227.4C324.4 227.2 323.9 227.0 323.5 226.7C323.1 226.4 322.7 226.0 322.4 225.6C322.2 225.2 322.0 224.7 321.9 224.2C321.8 223.8 321.8 223.2 321.9 222.8C322.0 222.3 322.1 221.8 322.4 221.4C322.6 220.9 323.0 220.6 323.5 220.3C323.9 220.0 324.4 219.8 324.9 219.7C325.4 219.6 325.9 219.5 326.4 219.5C326.9 219.6 327.4 219.7 327.9 219.9C328.3 220.1 328.8 220.4 329.1 220.8C329.5 221.1 329.8 221.6 330.0 222.0C330.1 222.5 330.2 223.0 330.2 223.5Z" fill="none" stroke="#555" stroke-width="0.6"/>
<path d="M328.9 223.5C328.9 223.9 328.7 224.4 328.5 224.8C328.3 225.1 327.9 225.5 327.6 225.7C327.2 225.9 326.8 226.1 326.3 226.1C325.9 226.2 325.4 226.2 325.0 226.0C324.6 225.9 324.2 225.6 323.9 225.3C323.6 225.0 323.4 224.5 323.3 224.1C323.2 223.7 323.2 223.3 323.3 222.9C323.4 222.4 323.6 222.0 323.9 221.7C324.2 221.4 324.6 221.1 325.0 221.0C325.4 220.8 325.9 220.8 326.3 220.8C326.8 220.9 327.2 221.1 327.5 221.3C327.9 221.6 328.3 221.9 328.5 222.2C328.7 222.6 328.9 223.1 328.9 223.5Z" fill="none" stroke="#555" stroke-width="0.6"/>
<path d="M327.4 223.5C327.4 223.7 327.3 224.0 327.2 224.2C327.1 224.4 326.9 224.6 326.7 224.7C326.5 224.8 326.2 224.9 326.0 224.9C325.8 224.9 325.5 224.8 325.3 224.7C325.1 224.6 324.9 224.4 324.8 224.2C324.6 224.0 324.6 223.7 324.6 223.5C324.6 223.3 324.7 223.0 324.8 222.8C324.9 222.6 325.1 222.4 325.3 222.3C325.5 222.2 325.8 222.1 326.0 222.1C326.2 222.1 326.5 222.1 326.7 222.3C326.9 222.4 327.1 222.6 327.2 222.8C327.3 223.0 327.4 223.3 327.4 223.5Z" fill="none" stroke="#555" stroke-width="0.6"/>
<path d="M357.8 259.5C357.5 261.2 357.1 262.9 356.7 264.6C356.3 266.2 355.8 267.9 355.2 269.4C354.7 270.9 354.1 272.4 353.5 273.7C352.9 275.1 352.3 276.3 351.7 277.4C351.1 278.4 350.5 279.4 349.9 280.2C349.3 281.0 348.8 281.7 348.2 282.1C347.6 282.6 347.1 282.9 346.5 282.9C345.9 282.9 345.4 282.6 344.8 282.2C344.2 281.7 343.7 281.0 343.1 280.1C342.5 279.3 342.0 278.3 341.4 277.2C340.8 276.1 340.2 274.9 339.6 273.6C339.0 272.3 338.3 271.0 337.7 269.5C337.1 268.0 336.5 266.3 336.0 264.7C335.5 263.0 335.1 261.2 334.8 259.5C334.5 257.8 334.3 256.0 334.3 254.3C334.3 252.7 334.3 251.0 334.6 249.5C334.8 248.0 335.1 246.5 335.6 245.2C336.1 243.9 336.7 242.6 337.4 241.6C338.1 240.6 339.0 239.7 340.0 239.0C340.9 238.3 342.0 237.8 343.1 237.5C344.2 237.1 345.4 237.0 346.5 237.0C347.6 236.9 348.8 237.0 349.9 237.3C351.0 237.6 352.1 237.9 353.1 238.6C354.1 239.2 355.1 240.0 355.9 241.0C356.7 242.1 357.3 243.4 357.8 244.8C358.2 246.2 358.5 247.8 358.6 249.4C358.7 251.0 358.6 252.7 358.5 254.4C358.4 256.1 358.1 257.8 357.8 259.5Z" fill="none" stroke="#2a2a2a" stroke-width="0.75"/>
<path d="M356.5 258.5C356.3 260.1 355.9 261.8 355.5 263.4C355.1 264.9 354.5 266.5 354.0 267.9C353.4 269.4 352.8 270.7 352.3 271.9C351.7 273.1 351.1 274.2 350.5 275.2C350.0 276.1 349.4 276.9 348.9 277.5C348.3 278.0 347.8 278.4 347.2 278.6C346.7 278.7 346.2 278.6 345.7 278.4C345.1 278.1 344.6 277.7 344.1 277.1C343.5 276.6 343.0 275.9 342.4 275.1C341.8 274.2 341.1 273.3 340.5 272.1C339.9 270.9 339.3 269.6 338.7 268.1C338.2 266.7 337.7 265.0 337.3 263.4C336.9 261.8 336.6 260.1 336.3 258.5C336.1 256.9 336.0 255.3 336.0 253.7C335.9 252.2 336.0 250.6 336.2 249.2C336.4 247.8 336.7 246.4 337.2 245.2C337.7 244.0 338.4 242.9 339.1 242.0C339.9 241.1 340.8 240.3 341.7 239.7C342.7 239.1 343.7 238.6 344.8 238.4C345.9 238.1 347.0 237.9 348.1 238.0C349.2 238.2 350.4 238.5 351.3 239.1C352.3 239.6 353.2 240.5 354.0 241.5C354.7 242.5 355.3 243.8 355.7 245.1C356.2 246.4 356.5 247.8 356.7 249.3C356.9 250.7 356.9 252.2 356.9 253.7C356.9 255.3 356.8 256.9 356.5 258.5Z" fill="none" stroke="#2a2a2a" stroke-width="0.75"/>
<path d="M355.3 257.5C355.1 259.1 354.8 260.7 354.4 262.3C354.0 263.8 353.4 265.3 352.9 266.6C352.3 267.9 351.7 269.1 351.1 270.1C350.5 271.1 350.0 271.9 349.4 272.6C348.9 273.3 348.4 273.9 347.9 274.4C347.4 274.8 346.9 275.1 346.4 275.1C345.9 275.1 345.4 275.0 344.9 274.6C344.4 274.2 343.8 273.6 343.3 272.8C342.8 272.1 342.2 271.2 341.7 270.1C341.1 269.1 340.5 267.8 340.0 266.5C339.4 265.2 338.9 263.7 338.5 262.2C338.1 260.7 337.7 259.1 337.5 257.5C337.3 256.0 337.2 254.5 337.2 253.0C337.2 251.6 337.3 250.2 337.5 248.8C337.7 247.5 338.0 246.1 338.5 245.0C339.0 243.8 339.7 242.7 340.5 241.9C341.3 241.1 342.3 240.6 343.3 240.2C344.3 239.9 345.4 239.8 346.4 239.8C347.4 239.9 348.5 240.2 349.4 240.6C350.4 241.0 351.3 241.6 352.1 242.3C352.9 243.1 353.6 244.1 354.1 245.1C354.6 246.2 355.0 247.5 355.3 248.8C355.5 250.1 355.6 251.6 355.6 253.0C355.6 254.5 355.5 256.0 355.3 257.5Z" fill="none" stroke="#2a2a2a" stroke-width="0.75"/>
<path d="M354.0 256.7C353.8 258.1 353.4 259.6 353.0 261.0C352.6 262.4 352.1 263.9 351.6 265.1C351.2 266.4 350.6 267.6 350.1 268.5C349.6 269.4 349.0 270.1 348.5 270.7C348.0 271.2 347.5 271.4 347.0 271.6C346.6 271.8 346.1 271.8 345.6 271.7C345.1 271.5 344.7 271.3 344.1 270.8C343.6 270.2 343.1 269.5 342.6 268.5C342.0 267.6 341.5 266.4 341.0 265.1C340.5 263.9 340.0 262.5 339.6 261.1C339.2 259.7 338.8 258.1 338.6 256.7C338.3 255.2 338.2 253.7 338.2 252.4C338.3 251.0 338.5 249.7 338.8 248.5C339.1 247.4 339.6 246.3 340.1 245.3C340.7 244.4 341.4 243.5 342.1 242.8C342.9 242.1 343.9 241.4 344.8 241.2C345.8 240.9 346.9 240.9 347.8 241.1C348.8 241.4 349.8 242.0 350.6 242.6C351.4 243.3 352.1 244.2 352.7 245.1C353.3 246.1 353.7 247.2 354.0 248.4C354.3 249.6 354.5 251.0 354.4 252.4C354.4 253.7 354.2 255.3 354.0 256.7Z" fill="none" stroke="#2a2a2a" stroke-width="0.75"/>
<path d="M353.0 255.9C352.8 257.2 352.4 258.6 352.1 259.9C351.7 261.2 351.3 262.5 350.8 263.6C350.4 264.7 349.8 265.8 349.4 266.5C348.9 267.3 348.4 267.8 347.9 268.2C347.5 268.6 347.0 268.8 346.6 268.9C346.2 269.0 345.8 269.0 345.3 268.8C344.9 268.6 344.4 268.2 343.9 267.6C343.5 266.9 343.0 266.1 342.5 265.1C342.1 264.1 341.6 262.9 341.2 261.7C340.8 260.5 340.3 259.2 340.0 257.9C339.7 256.6 339.4 255.2 339.3 253.9C339.2 252.6 339.3 251.3 339.4 250.2C339.6 249.0 339.9 247.9 340.3 247.0C340.7 246.0 341.3 245.0 341.9 244.3C342.6 243.6 343.4 242.9 344.3 242.6C345.1 242.3 346.1 242.2 347.0 242.4C347.8 242.6 348.7 243.1 349.5 243.6C350.2 244.2 350.9 244.9 351.5 245.7C352.0 246.5 352.5 247.5 352.8 248.5C353.1 249.6 353.3 250.8 353.3 252.0C353.3 253.2 353.2 254.6 353.0 255.9Z" fill="none" stroke="#2a2a2a" stroke-width="0.75"/>
<path d="M352.0 255.2C351.8 256.5 351.4 257.8 351.0 258.9C350.6 260.1 350.1 261.2 349.7 262.2C349.3 263.2 348.9 264.2 348.5 264.9C348.1 265.7 347.6 266.4 347.2 266.7C346.8 267.0 346.4 267.0 345.9 266.9C345.5 266.7 345.1 266.3 344.7 265.7C344.3 265.2 343.8 264.5 343.4 263.7C342.9 262.8 342.5 261.8 342.1 260.7C341.6 259.6 341.2 258.4 340.9 257.1C340.6 255.9 340.4 254.6 340.3 253.4C340.1 252.1 340.1 250.8 340.3 249.7C340.5 248.6 340.8 247.5 341.3 246.7C341.8 245.9 342.5 245.4 343.3 244.9C344.0 244.4 344.8 244.1 345.6 244.0C346.4 243.8 347.4 243.8 348.2 244.0C349.0 244.3 349.8 244.8 350.4 245.4C351.0 246.1 351.5 247.1 351.8 248.1C352.1 249.1 352.3 250.3 352.3 251.5C352.3 252.7 352.2 254.0 352.0 255.2Z" fill="none" stroke="#2a2a2a" stroke-width="0.75"/>
<path d="M351.1 254.6C350.9 255.7 350.6 256.9 350.3 257.9C350.0 259.0 349.5 260.0 349.1 260.8C348.7 261.6 348.2 262.2 347.9 262.8C347.5 263.3 347.1 263.8 346.8 264.1C346.4 264.3 346.0 264.4 345.7 264.2C345.3 264.0 344.9 263.6 344.5 263.0C344.1 262.4 343.7 261.6 343.4 260.8C343.0 259.9 342.5 258.9 342.2 257.9C341.9 256.8 341.6 255.7 341.4 254.6C341.3 253.5 341.2 252.4 341.2 251.3C341.2 250.3 341.3 249.2 341.6 248.3C341.9 247.4 342.4 246.5 343.0 246.0C343.5 245.4 344.3 245.1 345.1 245.0C345.8 244.8 346.6 245.0 347.3 245.2C348.0 245.4 348.8 245.8 349.3 246.3C349.9 246.9 350.4 247.6 350.7 248.4C351.0 249.2 351.2 250.3 351.3 251.3C351.3 252.3 351.2 253.5 351.1 254.6Z" fill="none" stroke="#2a2a2a" stroke-width="0.75"/>
<path d="M350.1 253.9C350.0 254.9 349.6 256.0 349.3 256.9C349.0 257.8 348.6 258.7 348.2 259.4C347.9 260.1 347.5 260.6 347.2 261.0C346.8 261.4 346.5 261.6 346.2 261.6C345.8 261.7 345.5 261.6 345.1 261.2C344.8 260.9 344.4 260.2 344.1 259.5C343.7 258.7 343.4 257.8 343.1 256.8C342.8 255.9 342.5 254.9 342.3 253.9C342.1 252.9 342.0 251.8 342.0 250.9C342.1 249.9 342.3 249.0 342.7 248.3C343.1 247.6 343.6 247.0 344.2 246.6C344.8 246.2 345.5 246.1 346.2 246.1C346.8 246.1 347.5 246.5 348.1 246.9C348.7 247.2 349.2 247.7 349.6 248.4C350.0 249.1 350.3 249.9 350.4 250.8C350.5 251.7 350.3 252.9 350.1 253.9Z" fill="none" stroke="#2a2a2a" stroke-width="0.75"/>
<path d="M349.1 253.2C348.9 254.1 348.6 255.0 348.4 255.8C348.1 256.5 347.8 257.4 347.5 257.9C347.2 258.5 346.9 258.9 346.6 259.1C346.3 259.3 346.0 259.3 345.7 259.1C345.4 258.9 345.1 258.5 344.8 257.9C344.5 257.3 344.2 256.5 343.9 255.7C343.6 255.0 343.3 254.1 343.1 253.2C343.0 252.3 342.9 251.4 343.0 250.6C343.1 249.8 343.4 249.1 343.8 248.5C344.1 248.0 344.7 247.6 345.2 247.4C345.8 247.2 346.5 247.2 347.0 247.4C347.6 247.6 348.1 248.0 348.5 248.5C348.9 249.1 349.2 249.8 349.3 250.6C349.4 251.3 349.2 252.3 349.1 253.2Z" fill="none" stroke="#2a2a2a" stroke-width="0.75"/>
<path d="M348.2 252.5C348.1 253.2 347.8 254.0 347.6 254.6C347.4 255.2 347.1 255.8 346.8 256.2C346.6 256.5 346.3 256.7 346.1 256.6C345.9 256.6 345.6 256.4 345.4 256.0C345.1 255.7 344.8 255.2 344.6 254.6C344.4 254.0 344.1 253.2 344.0 252.5C343.9 251.8 343.9 251.1 344.0 250.5C344.1 249.9 344.4 249.3 344.7 248.9C345.1 248.6 345.6 248.4 346.1 248.3C346.5 248.3 347.1 248.5 347.5 248.9C347.8 249.3 348.0 249.9 348.1 250.5C348.3 251.1 348.3 251.8 348.2 252.5Z" fill="none" stroke="#2a2a2a" stroke-width="0.75"/>
</g>
<circle cx="78.9" cy="79.8" r="0.55" fill="#9a9a9a"/>
<circle cx="93.9" cy="77.8" r="0.55" fill="#9a9a9a"/>
<circle cx="88.7" cy="85.1" r="0.55" fill="#9a9a9a"/>
<circle cx="66.7" cy="88.7" r="0.55" fill="#9a9a9a"/>
<circle cx="65.7" cy="86.8" r="0.55" fill="#9a9a9a"/>
<circle cx="67.2" cy="78.3" r="0.55" fill="#9a9a9a"/>
<circle cx="83.5" cy="96.7" r="0.55" fill="#9a9a9a"/>
<circle cx="69.7" cy="81.6" r="0.55" fill="#9a9a9a"/>
<circle cx="92.9" cy="99.7" r="0.55" fill="#9a9a9a"/>
<circle cx="90.5" cy="85.9" r="0.55" fill="#9a9a9a"/>
<circle cx="161.1" cy="77.7" r="0.55" fill="#9a9a9a"/>
<circle cx="156.3" cy="86.4" r="0.55" fill="#9a9a9a"/>
<circle cx="127.8" cy="80.2" r="0.55" fill="#9a9a9a"/>
<circle cx="134.3" cy="105.4" r="0.55" fill="#9a9a9a"/>
<circle cx="129.2" cy="96.9" r="0.55" fill="#9a9a9a"/>
<circle cx="147.6" cy="89.4" r="0.55" fill="#9a9a9a"/>
<circle cx="143.9" cy="78.3" r="0.55" fill="#9a9a9a"/>
<circle cx="124.4" cy="83.4" r="0.55" fill="#9a9a9a"/>
<circle cx="149.2" cy="91.4" r="0.55" fill="#9a9a9a"/>
<circle cx="134.6" cy="97.1" r="0.55" fill="#9a9a9a"/>
<circle cx="144.9" cy="122.6" r="0.55" fill="#9a9a9a"/>
<circle cx="153.1" cy="139.4" r="0.55" fill="#9a9a9a"/>
<circle cx="139.9" cy="134.1" r="0.55" fill="#9a9a9a"/>
<circle cx="146.6" cy="146.8" r="0.55" fill="#9a9a9a"/>
<circle cx="151.5" cy="122.1" r="0.55" fill="#9a9a9a"/>
<circle cx="157.5" cy="115.0" r="0.55" fill="#9a9a9a"/>
<circle cx="144.0" cy="141.8" r="0.55" fill="#9a9a9a"/>
<circle cx="137.6" cy="130.5" r="0.55" fill="#9a9a9a"/>
<circle cx="181.9" cy="93.4" r="0.55" fill="#9a9a9a"/>
<circle cx="216.7" cy="90.9" r="0.55" fill="#9a9a9a"/>
<circle cx="222.0" cy="84.2" r="0.55" fill="#9a9a9a"/>
<circle cx="213.4" cy="91.5" r="0.55" fill="#9a9a9a"/>
<circle cx="207.8" cy="87.9" r="0.55" fill="#9a9a9a"/>
<circle cx="220.3" cy="100.6" r="0.55" fill="#9a9a9a"/>
<circle cx="202.8" cy="93.3" r="0.55" fill="#9a9a9a"/>
<circle cx="182.9" cy="94.2" r="0.55" fill="#9a9a9a"/>
<circle cx="211.1" cy="101.8" r="0.55" fill="#9a9a9a"/>
<circle cx="219.5" cy="83.4" r="0.55" fill="#9a9a9a"/>
<circle cx="198.5" cy="93.4" r="0.55" fill="#9a9a9a"/>
<circle cx="181.1" cy="88.0" r="0.55" fill="#9a9a9a"/>
<circle cx="188.1" cy="79.0" r="0.55" fill="#9a9a9a"/>
<circle cx="182.8" cy="96.0" r="0.55" fill="#9a9a9a"/>
<circle cx="186.2" cy="82.4" r="0.55" fill="#9a9a9a"/>
<circle cx="198.8" cy="98.7" r="0.55" fill="#9a9a9a"/>
<circle cx="241.1" cy="93.3" r="0.55" fill="#9a9a9a"/>
<circle cx="258.9" cy="108.0" r="0.55" fill="#9a9a9a"/>
<circle cx="269.1" cy="107.4" r="0.55" fill="#9a9a9a"/>
<circle cx="248.6" cy="92.1" r="0.55" fill="#9a9a9a"/>
<circle cx="251.6" cy="108.1" r="0.55" fill="#9a9a9a"/>
<circle cx="274.4" cy="83.1" r="0.55" fill="#9a9a9a"/>
<circle cx="244.7" cy="85.9" r="0.55" fill="#9a9a9a"/>
<circle cx="246.9" cy="94.5" r="0.55" fill="#9a9a9a"/>
<circle cx="260.4" cy="86.9" r="0.55" fill="#9a9a9a"/>
<circle cx="238.2" cy="92.2" r="0.55" fill="#9a9a9a"/>
<circle cx="252.0" cy="97.3" r="0.55" fill="#9a9a9a"/>
<circle cx="274.2" cy="101.5" r="0.55" fill="#9a9a9a"/>
<circle cx="257.6" cy="99.0" r="0.55" fill="#9a9a9a"/>
<circle cx="263.7" cy="79.8" r="0.55" fill="#9a9a9a"/>
<circle cx="271.6" cy="142.8" r="0.55" fill="#9a9a9a"/>
<circle cx="271.0" cy="143.5" r="0.55" fill="#9a9a9a"/>
<circle cx="259.4" cy="126.8" r="0.55" fill="#9a9a9a"/>
<circle cx="252.5" cy="136.6" r="0.55" fill="#9a9a9a"/>
<circle cx="251.5" cy="112.8" r="0.55" fill="#9a9a9a"/>
<circle cx="255.0" cy="116.8" r="0.55" fill="#9a9a9a"/>
<circle cx="258.2" cy="112.2" r="0.55" fill="#9a9a9a"/>
<circle cx="250.0" cy="116.4" r="0.55" fill="#9a9a9a"/>
<circle cx="300.1" cy="85.5" r="0.55" fill="#9a9a9a"/>
<circle cx="296.3" cy="98.7" r="0.55" fill="#9a9a9a"/>
<circle cx="325.7" cy="79.9" r="0.55" fill="#9a9a9a"/>
<circle cx="307.6" cy="85.0" r="0.55" fill="#9a9a9a"/>
<circle cx="313.2" cy="79.2" r="0.55" fill="#9a9a9a"/>
<circle cx="337.4" cy="101.8" r="0.55" fill="#9a9a9a"/>
<circle cx="318.3" cy="88.6" r="0.55" fill="#9a9a9a"/>
<circle cx="299.3" cy="78.7" r="0.55" fill="#9a9a9a"/>
<circle cx="312.1" cy="82.9" r="0.55" fill="#9a9a9a"/>
<circle cx="336.4" cy="80.2" r="0.55" fill="#9a9a9a"/>
<circle cx="296.2" cy="100.7" r="0.55" fill="#9a9a9a"/>
<circle cx="321.4" cy="79.8" r="0.55" fill="#9a9a9a"/>
<circle cx="322.2" cy="76.7" r="0.55" fill="#9a9a9a"/>
<circle cx="321.4" cy="101.4" r="0.55" fill="#9a9a9a"/>
<circle cx="386.5" cy="101.7" r="0.55" fill="#9a9a9a"/>
<circle cx="362.4" cy="90.5" r="0.55" fill="#9a9a9a"/>
<circle cx="358.7" cy="104.2" r="0.55" fill="#9a9a9a"/>
<circle cx="373.3" cy="104.5" r="0.55" fill="#9a9a9a"/>
<circle cx="365.2" cy="85.6" r="0.55" fill="#9a9a9a"/>
<circle cx="384.5" cy="111.5" r="0.55" fill="#9a9a9a"/>
<circle cx="386.1" cy="105.4" r="0.55" fill="#9a9a9a"/>
<circle cx="384.7" cy="103.2" r="0.55" fill="#9a9a9a"/>
<circle cx="361.1" cy="95.6" r="0.55" fill="#9a9a9a"/>
<circle cx="366.2" cy="79.0" r="0.55" fill="#9a9a9a"/>
<circle cx="353.1" cy="87.5" r="0.55" fill="#9a9a9a"/>
<circle cx="362.4" cy="101.5" r="0.55" fill="#9a9a9a"/>
<circle cx="389.0" cy="128.8" r="0.55" fill="#9a9a9a"/>
<circle cx="388.5" cy="151.5" r="0.55" fill="#9a9a9a"/>
<circle cx="388.9" cy="125.3" r="0.55" fill="#9a9a9a"/>
<circle cx="371.3" cy="119.5" r="0.55" fill="#9a9a9a"/>
<circle cx="370.7" cy="118.6" r="0.55" fill="#9a9a9a"/>
<circle cx="381.0" cy="147.8" r="0.55" fill="#9a9a9a"/>
<circle cx="386.2" cy="130.1" r="0.55" fill="#9a9a9a"/>
<circle cx="381.7" cy="143.6" r="0.55" fill="#9a9a9a"/>
<circle cx="101.5" cy="227.8" r="0.55" fill="#9a9a9a"/>
<circle cx="125.4" cy="231.5" r="0.55" fill="#9a9a9a"/>
<circle cx="120.8" cy="222.3" r="0.55" fill="#9a9a9a"/>
<circle cx="104.2" cy="231.7" r="0.55" fill="#9a9a9a"/>
<circle cx="108.6" cy="232.0" r="0.55" fill="#9a9a9a"/>
<circle cx="127.2" cy="219.9" r="0.55" fill="#9a9a9a"/>
<circle cx="110.6" cy="236.4" r="0.55" fill="#9a9a9a"/>
<circle cx="120.0" cy="213.1" r="0.55" fill="#9a9a9a"/>
<circle cx="102.7" cy="212.5" r="0.55" fill="#9a9a9a"/>
<circle cx="125.2" cy="232.2" r="0.55" fill="#9a9a9a"/>
<circle cx="221.3" cy="235.4" r="0.55" fill="#9a9a9a"/>
<circle cx="251.3" cy="229.0" r="0.55" fill="#9a9a9a"/>
<circle cx="228.6" cy="224.8" r="0.55" fill="#9a9a9a"/>
<circle cx="220.7" cy="204.5" r="0.55" fill="#9a9a9a"/>
<circle cx="251.0" cy="228.7" r="0.55" fill="#9a9a9a"/>
<circle cx="235.0" cy="239.5" r="0.55" fill="#9a9a9a"/>
<circle cx="231.6" cy="237.1" r="0.55" fill="#9a9a9a"/>
<circle cx="245.7" cy="212.0" r="0.55" fill="#9a9a9a"/>
<circle cx="225.1" cy="215.1" r="0.55" fill="#9a9a9a"/>
<circle cx="224.7" cy="226.3" r="0.55" fill="#9a9a9a"/>
<circle cx="225.3" cy="219.9" r="0.55" fill="#9a9a9a"/>
<circle cx="220.7" cy="238.6" r="0.55" fill="#9a9a9a"/>
<circle cx="228.7" cy="221.4" r="0.55" fill="#9a9a9a"/>
<circle cx="237.0" cy="238.4" r="0.55" fill="#9a9a9a"/>
<circle cx="231.1" cy="238.9" r="0.55" fill="#9a9a9a"/>
<circle cx="234.1" cy="224.2" r="0.55" fill="#9a9a9a"/>
<circle cx="234.8" cy="204.7" r="0.55" fill="#9a9a9a"/>
<circle cx="231.8" cy="211.0" r="0.55" fill="#9a9a9a"/>
<circle cx="216.1" cy="234.4" r="0.55" fill="#9a9a9a"/>
<circle cx="222.2" cy="222.0" r="0.55" fill="#9a9a9a"/>
<circle cx="242.1" cy="225.1" r="0.55" fill="#9a9a9a"/>
<circle cx="227.7" cy="223.7" r="0.55" fill="#9a9a9a"/>
<circle cx="236.0" cy="233.8" r="0.55" fill="#9a9a9a"/>
<circle cx="219.8" cy="225.3" r="0.55" fill="#9a9a9a"/>
<circle cx="224.9" cy="214.5" r="0.55" fill="#9a9a9a"/>
<circle cx="243.8" cy="223.3" r="0.55" fill="#9a9a9a"/>
<circle cx="236.2" cy="232.9" r="0.55" fill="#9a9a9a"/>
<circle cx="248.8" cy="220.8" r="0.55" fill="#9a9a9a"/>
<circle cx="238.1" cy="223.2" r="0.55" fill="#9a9a9a"/>
<circle cx="234.4" cy="230.3" r="0.55" fill="#9a9a9a"/>
<circle cx="348.3" cy="224.3" r="0.55" fill="#9a9a9a"/>
<circle cx="349.2" cy="239.8" r="0.55" fill="#9a9a9a"/>
<circle cx="357.2" cy="237.3" r="0.55" fill="#9a9a9a"/>
<circle cx="365.9" cy="213.9" r="0.55" fill="#9a9a9a"/>
<circle cx="352.1" cy="239.8" r="0.55" fill="#9a9a9a"/>
<circle cx="362.2" cy="209.2" r="0.55" fill="#9a9a9a"/>
<circle cx="336.4" cy="220.8" r="0.55" fill="#9a9a9a"/>
<circle cx="334.6" cy="213.1" r="0.55" fill="#9a9a9a"/>
<circle cx="334.6" cy="229.4" r="0.55" fill="#9a9a9a"/>
<circle cx="360.2" cy="238.1" r="0.55" fill="#9a9a9a"/>
<circle cx="337.6" cy="231.2" r="0.55" fill="#9a9a9a"/>
<circle cx="355.8" cy="209.4" r="0.55" fill="#9a9a9a"/>
<circle cx="363.8" cy="240.8" r="0.55" fill="#9a9a9a"/>
<circle cx="339.9" cy="240.2" r="0.55" fill="#9a9a9a"/>
<circle cx="346.3" cy="222.5" r="0.55" fill="#9a9a9a"/>
<circle cx="367.6" cy="235.6" r="0.55" fill="#9a9a9a"/>
<circle cx="337.8" cy="220.4" r="0.55" fill="#9a9a9a"/>
<circle cx="350.6" cy="216.9" r="0.55" fill="#9a9a9a"/>
<circle cx="339.0" cy="216.1" r="0.55" fill="#9a9a9a"/>
<circle cx="358.0" cy="204.7" r="0.55" fill="#9a9a9a"/>
<circle cx="351.9" cy="220.7" r="0.55" fill="#9a9a9a"/>
<circle cx="332.7" cy="216.6" r="0.55" fill="#9a9a9a"/>
<circle cx="354.5" cy="223.5" r="0.55" fill="#9a9a9a"/>
<circle cx="334.3" cy="241.4" r="0.55" fill="#9a9a9a"/>
<circle cx="360.4" cy="240.9" r="0.55" fill="#9a9a9a"/>
<circle cx="335.8" cy="214.1" r="0.55" fill="#9a9a9a"/>
<circle cx="333.4" cy="233.6" r="0.55" fill="#9a9a9a"/>
<circle cx="341.7" cy="208.9" r="0.55" fill="#9a9a9a"/>
<circle cx="112.1" cy="283.7" r="0.55" fill="#9a9a9a"/>
<circle cx="121.7" cy="252.4" r="0.55" fill="#9a9a9a"/>
<circle cx="105.6" cy="284.1" r="0.55" fill="#9a9a9a"/>
<circle cx="115.7" cy="273.6" r="0.55" fill="#9a9a9a"/>
<circle cx="104.1" cy="242.8" r="0.55" fill="#9a9a9a"/>
<circle cx="118.5" cy="260.4" r="0.55" fill="#9a9a9a"/>
<circle cx="219.9" cy="285.0" r="0.55" fill="#9a9a9a"/>
<circle cx="234.5" cy="278.5" r="0.55" fill="#9a9a9a"/>
<circle cx="220.2" cy="281.1" r="0.55" fill="#9a9a9a"/>
<circle cx="219.7" cy="281.4" r="0.55" fill="#9a9a9a"/>
<circle cx="229.8" cy="256.3" r="0.55" fill="#9a9a9a"/>
<circle cx="232.4" cy="284.5" r="0.55" fill="#9a9a9a"/>
<circle cx="225.0" cy="246.2" r="0.55" fill="#9a9a9a"/>
<circle cx="231.7" cy="251.4" r="0.55" fill="#9a9a9a"/>
<circle cx="336.8" cy="247.7" r="0.55" fill="#9a9a9a"/>
<circle cx="335.3" cy="249.7" r="0.55" fill="#9a9a9a"/>
<circle cx="342.1" cy="254.6" r="0.55" fill="#9a9a9a"/>
<circle cx="353.7" cy="253.9" r="0.55" fill="#9a9a9a"/>
<circle cx="347.0" cy="248.5" r="0.55" fill="#9a9a9a"/>
<circle cx="343.0" cy="240.9" r="0.55" fill="#9a9a9a"/>
<circle cx="340.5" cy="240.7" r="0.55" fill="#9a9a9a"/>
<circle cx="353.1" cy="266.5" r="0.55" fill="#9a9a9a"/>
<text x="64.4" y="70.7" font-size="16" font-weight="normal" text-anchor="start" fill="#1a1a1a">17</text>
<text x="108" y="147.5" font-size="16" font-weight="normal" text-anchor="start" fill="#1a1a1a">45</text>
<text x="179.4" y="70.7" font-size="16" font-weight="normal" text-anchor="start" fill="#1a1a1a">14</text>
<text x="225.5" y="147.5" font-size="16" font-weight="normal" text-anchor="start" fill="#1a1a1a">44</text>
<text x="295" y="70.7" font-size="16" font-weight="normal" text-anchor="start" fill="#1a1a1a">21</text>
<text x="342.5" y="147.5" font-size="16" font-weight="normal" text-anchor="start" fill="#1a1a1a">34</text>
<text x="64.5" y="206.2" font-size="16" font-weight="normal" text-anchor="start" fill="#1a1a1a">50</text>
<text x="131.2" y="258" font-size="16" font-weight="normal" text-anchor="start" fill="#1a1a1a">49</text>
<text x="181.2" y="206.2" font-size="16" font-weight="normal" text-anchor="start" fill="#1a1a1a">45</text>
<text x="247.5" y="257" font-size="16" font-weight="normal" text-anchor="start" fill="#1a1a1a">53</text>
<text x="297" y="206.2" font-size="16" font-weight="normal" text-anchor="start" fill="#1a1a1a">47</text>
<text x="365" y="255" font-size="16" font-weight="normal" text-anchor="start" fill="#1a1a1a">50</text>
<line x1="455.3" y1="38.4" x2="455.3" y2="154.60000000000002" stroke="#1a1a1a" stroke-width="1.7"/>
<line x1="454.45" y1="153.8" x2="571.8" y2="153.8" stroke="#1a1a1a" stroke-width="1.7"/>
<line x1="451.3" y1="38.4" x2="455.3" y2="38.4" stroke="#1a1a1a" stroke-width="1.5"/>
<text x="450.7" y="44.699999999999996" font-size="12" font-weight="bold" text-anchor="end" fill="#1a1a1a">1.5</text>
<line x1="451.3" y1="77.1" x2="455.3" y2="77.1" stroke="#1a1a1a" stroke-width="1.5"/>
<text x="450.7" y="83.39999999999999" font-size="12" font-weight="bold" text-anchor="end" fill="#1a1a1a">1.0</text>
<line x1="451.3" y1="115.8" x2="455.3" y2="115.8" stroke="#1a1a1a" stroke-width="1.5"/>
<text x="450.7" y="122.1" font-size="12" font-weight="bold" text-anchor="end" fill="#1a1a1a">0.5</text>
<line x1="474.6" y1="153.8" x2="474.6" y2="157.3" stroke="#1a1a1a" stroke-width="1.5"/>
<line x1="513.4" y1="153.8" x2="513.4" y2="157.3" stroke="#1a1a1a" stroke-width="1.5"/>
<line x1="552" y1="153.8" x2="552" y2="157.3" stroke="#1a1a1a" stroke-width="1.5"/>
<line x1="455.3" y1="77.1" x2="562.6" y2="77.1" stroke="#1a1a1a" stroke-width="2" stroke-dasharray="4.6 3.4"/>
<text x="474.6" y="169.3" font-size="12.5" font-weight="normal" text-anchor="middle" fill="#1a1a1a">PBS</text>
<text x="513.4" y="169.3" font-size="12.5" font-weight="normal" text-anchor="middle" fill="#1a1a1a">Papain</text>
<text x="552" y="169.3" font-size="12.5" font-weight="normal" text-anchor="middle" fill="#1a1a1a">IL-25</text>
<circle cx="466" cy="121.1" r="3.05" fill="#1a1a1a"/>
<circle cx="474.6" cy="115.9" r="3.05" fill="#1a1a1a"/>
<circle cx="474.6" cy="130" r="3.05" fill="#1a1a1a"/>
<circle cx="474.6" cy="140.4" r="3.05" fill="#1a1a1a"/>
<circle cx="504.3" cy="122.8" r="3.05" fill="#1a1a1a"/>
<circle cx="513.3" cy="122.8" r="3.05" fill="#1a1a1a"/>
<circle cx="522" cy="120.3" r="3.05" fill="#1a1a1a"/>
<circle cx="504.3" cy="141" r="3.05" fill="#1a1a1a"/>
<circle cx="513.3" cy="145.3" r="3.05" fill="#1a1a1a"/>
<circle cx="522" cy="144.6" r="3.05" fill="#1a1a1a"/>
<circle cx="551.6" cy="75.5" r="3.05" fill="#1a1a1a"/>
<circle cx="551.6" cy="94.1" r="3.05" fill="#1a1a1a"/>
<circle cx="551.6" cy="116.2" r="3.05" fill="#1a1a1a"/>
<circle cx="543.2" cy="132" r="3.05" fill="#1a1a1a"/>
<circle cx="551.6" cy="133" r="3.05" fill="#1a1a1a"/>
<circle cx="560.6" cy="130" r="3.05" fill="#1a1a1a"/>
<circle cx="551.6" cy="143.4" r="3.05" fill="#1a1a1a"/>
<line x1="460.9" y1="126.7" x2="488.4" y2="126.7" stroke="#1a1a1a" stroke-width="1.8"/>
<line x1="500.2" y1="133" x2="526.9" y2="133" stroke="#1a1a1a" stroke-width="1.8"/>
<line x1="538.3" y1="117.4" x2="565.5" y2="117.4" stroke="#1a1a1a" stroke-width="1.8"/>
<text x="475.6" y="59.4" font-size="22" font-weight="bold" text-anchor="middle" fill="#1a1a1a">**</text>
<text x="514.9" y="59.4" font-size="22" font-weight="bold" text-anchor="middle" fill="#1a1a1a">***</text>
<text x="550.9" y="59.4" font-size="22" font-weight="bold" text-anchor="middle" fill="#1a1a1a">**</text>
<text x="422" y="97" font-size="14.5" font-weight="normal" text-anchor="middle" fill="#1a1a1a" transform="rotate(-90 422 97)">KO:WT,&#160; normalized</text>
<line x1="453.9" y1="185.1" x2="453.9" y2="298.0" stroke="#1a1a1a" stroke-width="1.7"/>
<line x1="453.04999999999995" y1="297.2" x2="565.6" y2="297.2" stroke="#1a1a1a" stroke-width="1.7"/>
<line x1="449.9" y1="185.1" x2="453.9" y2="185.1" stroke="#1a1a1a" stroke-width="1.5"/>
<text x="449.0" y="189.29999999999998" font-size="12" font-weight="bold" text-anchor="end" fill="#1a1a1a">1.5</text>
<line x1="449.9" y1="223.5" x2="453.9" y2="223.5" stroke="#1a1a1a" stroke-width="1.5"/>
<text x="449.0" y="227.7" font-size="12" font-weight="bold" text-anchor="end" fill="#1a1a1a">1.0</text>
<line x1="449.9" y1="260" x2="453.9" y2="260" stroke="#1a1a1a" stroke-width="1.5"/>
<text x="449.0" y="264.2" font-size="12" font-weight="bold" text-anchor="end" fill="#1a1a1a">0.5</text>
<line x1="472.7" y1="297.2" x2="472.7" y2="300.7" stroke="#1a1a1a" stroke-width="1.5"/>
<line x1="510.2" y1="297.2" x2="510.2" y2="300.7" stroke="#1a1a1a" stroke-width="1.5"/>
<line x1="547.4" y1="297.2" x2="547.4" y2="300.7" stroke="#1a1a1a" stroke-width="1.5"/>
<line x1="453.9" y1="223.9" x2="560.5" y2="223.9" stroke="#1a1a1a" stroke-width="2" stroke-dasharray="4.6 3.4"/>
<text x="472.7" y="312.5" font-size="12.5" font-weight="normal" text-anchor="middle" fill="#1a1a1a">PBS</text>
<text x="510.2" y="312.5" font-size="12.5" font-weight="normal" text-anchor="middle" fill="#1a1a1a">Papain</text>
<text x="547.4" y="312.5" font-size="12.5" font-weight="normal" text-anchor="middle" fill="#1a1a1a">IL-25</text>
<circle cx="472.7" cy="217.2" r="3.05" fill="#1a1a1a"/>
<circle cx="472.7" cy="226.3" r="3.05" fill="#1a1a1a"/>
<circle cx="481.3" cy="253.5" r="3.05" fill="#1a1a1a"/>
<circle cx="472.7" cy="259.7" r="3.05" fill="#1a1a1a"/>
<circle cx="510.2" cy="185.8" r="3.05" fill="#1a1a1a"/>
<circle cx="510.2" cy="229.4" r="3.05" fill="#1a1a1a"/>
<circle cx="502" cy="246.4" r="3.05" fill="#1a1a1a"/>
<circle cx="510.2" cy="247.6" r="3.05" fill="#1a1a1a"/>
<circle cx="510.2" cy="258.5" r="3.05" fill="#1a1a1a"/>
<circle cx="518.3" cy="256.4" r="3.05" fill="#1a1a1a"/>
<circle cx="555.6" cy="204" r="3.05" fill="#1a1a1a"/>
<circle cx="547.4" cy="210.9" r="3.05" fill="#1a1a1a"/>
<circle cx="547.4" cy="242.7" r="3.05" fill="#1a1a1a"/>
<circle cx="539.2" cy="253.3" r="3.05" fill="#1a1a1a"/>
<circle cx="551.4" cy="253.3" r="3.05" fill="#1a1a1a"/>
<circle cx="547.4" cy="259" r="3.05" fill="#1a1a1a"/>
<circle cx="555.9" cy="257" r="3.05" fill="#1a1a1a"/>
<line x1="459.5" y1="238.8" x2="486.2" y2="238.8" stroke="#1a1a1a" stroke-width="1.8"/>
<line x1="496.8" y1="237" x2="523.2" y2="237" stroke="#1a1a1a" stroke-width="1.8"/>
<line x1="533.8" y1="232.4" x2="560.5" y2="232.4" stroke="#1a1a1a" stroke-width="1.8"/>
<text x="422" y="242" font-size="14.5" font-weight="normal" text-anchor="middle" fill="#1a1a1a" transform="rotate(-90 422 242)">KO:WT,&#160; normalized</text>
<text x="8.5" y="354.2" font-size="21.3" font-weight="bold" text-anchor="start" fill="#1a1a1a">B</text>
<text x="127.2" y="372.4" font-size="16.8" font-weight="bold" text-anchor="middle" fill="#1a1a1a">PLZF+/+</text>
<text x="129.3" y="392.5" font-size="16.7" font-weight="bold" text-anchor="middle" fill="#1a1a1a">(CD45.1)</text>
<text x="260.3" y="372.6" font-size="16.8" font-weight="bold" text-anchor="middle" fill="#1a1a1a">PLZF-/-</text>
<text x="262.9" y="392.5" font-size="16.7" font-weight="bold" text-anchor="middle" fill="#1a1a1a">(CD45.2)</text>
<text x="56.3" y="527" font-size="16.9" font-weight="bold" text-anchor="middle" fill="#1a1a1a" transform="rotate(-90 56.3 527)">ILC2s, IL-25-treated chimera</text>
<line x1="72.4" y1="397.9" x2="178.6" y2="397.9" stroke="#2a2a2a" stroke-width="1.25"/>
<line x1="72.4" y1="397.29999999999995" x2="72.4" y2="506.7" stroke="#2a2a2a" stroke-width="1.3"/>
<line x1="178.6" y1="397.29999999999995" x2="178.6" y2="506.7" stroke="#6a6a6a" stroke-width="1.25"/>
<line x1="72.4" y1="506.7" x2="178.6" y2="506.7" stroke="#888" stroke-width="1"/>
<line x1="75.586" y1="506.7" x2="75.586" y2="508.9" stroke="#999" stroke-width="0.7"/>
<line x1="85.144" y1="506.7" x2="85.144" y2="508.9" stroke="#999" stroke-width="0.7"/>
<line x1="93.64" y1="506.7" x2="93.64" y2="508.9" stroke="#999" stroke-width="0.7"/>
<line x1="104.26" y1="506.7" x2="104.26" y2="508.9" stroke="#999" stroke-width="0.7"/>
<line x1="117.00399999999999" y1="506.7" x2="117.00399999999999" y2="508.9" stroke="#999" stroke-width="0.7"/>
<line x1="130.81" y1="506.7" x2="130.81" y2="508.9" stroke="#999" stroke-width="0.7"/>
<line x1="139.30599999999998" y1="506.7" x2="139.30599999999998" y2="508.9" stroke="#999" stroke-width="0.7"/>
<line x1="148.86399999999998" y1="506.7" x2="148.86399999999998" y2="508.9" stroke="#999" stroke-width="0.7"/>
<line x1="157.36" y1="506.7" x2="157.36" y2="508.9" stroke="#999" stroke-width="0.7"/>
<line x1="167.98000000000002" y1="506.7" x2="167.98000000000002" y2="508.9" stroke="#999" stroke-width="0.7"/>
<line x1="207.2" y1="397.9" x2="313.2" y2="397.9" stroke="#2a2a2a" stroke-width="1.25"/>
<line x1="207.2" y1="397.29999999999995" x2="207.2" y2="507" stroke="#2a2a2a" stroke-width="1.3"/>
<line x1="313.2" y1="397.29999999999995" x2="313.2" y2="507" stroke="#6a6a6a" stroke-width="1.25"/>
<line x1="207.2" y1="507" x2="313.2" y2="507" stroke="#888" stroke-width="1"/>
<line x1="210.38" y1="507" x2="210.38" y2="509.2" stroke="#999" stroke-width="0.7"/>
<line x1="219.92" y1="507" x2="219.92" y2="509.2" stroke="#999" stroke-width="0.7"/>
<line x1="228.39999999999998" y1="507" x2="228.39999999999998" y2="509.2" stroke="#999" stroke-width="0.7"/>
<line x1="239.0" y1="507" x2="239.0" y2="509.2" stroke="#999" stroke-width="0.7"/>
<line x1="251.71999999999997" y1="507" x2="251.71999999999997" y2="509.2" stroke="#999" stroke-width="0.7"/>
<line x1="265.5" y1="507" x2="265.5" y2="509.2" stroke="#999" stroke-width="0.7"/>
<line x1="273.98" y1="507" x2="273.98" y2="509.2" stroke="#999" stroke-width="0.7"/>
<line x1="283.52" y1="507" x2="283.52" y2="509.2" stroke="#999" stroke-width="0.7"/>
<line x1="292.0" y1="507" x2="292.0" y2="509.2" stroke="#999" stroke-width="0.7"/>
<line x1="302.6" y1="507" x2="302.6" y2="509.2" stroke="#999" stroke-width="0.7"/>
<line x1="73.6" y1="567.5" x2="178.2" y2="567.5" stroke="#2a2a2a" stroke-width="1.25"/>
<line x1="73.6" y1="566.9" x2="73.6" y2="677.3" stroke="#2a2a2a" stroke-width="1.3"/>
<line x1="178.2" y1="566.9" x2="178.2" y2="677.3" stroke="#6a6a6a" stroke-width="1.25"/>
<line x1="73.6" y1="677.3" x2="178.2" y2="677.3" stroke="#888" stroke-width="1"/>
<line x1="76.738" y1="677.3" x2="76.738" y2="679.5" stroke="#999" stroke-width="0.7"/>
<line x1="86.15199999999999" y1="677.3" x2="86.15199999999999" y2="679.5" stroke="#999" stroke-width="0.7"/>
<line x1="94.52" y1="677.3" x2="94.52" y2="679.5" stroke="#999" stroke-width="0.7"/>
<line x1="104.97999999999999" y1="677.3" x2="104.97999999999999" y2="679.5" stroke="#999" stroke-width="0.7"/>
<line x1="117.53199999999998" y1="677.3" x2="117.53199999999998" y2="679.5" stroke="#999" stroke-width="0.7"/>
<line x1="131.13" y1="677.3" x2="131.13" y2="679.5" stroke="#999" stroke-width="0.7"/>
<line x1="139.498" y1="677.3" x2="139.498" y2="679.5" stroke="#999" stroke-width="0.7"/>
<line x1="148.91199999999998" y1="677.3" x2="148.91199999999998" y2="679.5" stroke="#999" stroke-width="0.7"/>
<line x1="157.28" y1="677.3" x2="157.28" y2="679.5" stroke="#999" stroke-width="0.7"/>
<line x1="167.74" y1="677.3" x2="167.74" y2="679.5" stroke="#999" stroke-width="0.7"/>
<line x1="208.4" y1="567.1" x2="313" y2="567.1" stroke="#2a2a2a" stroke-width="1.25"/>
<line x1="208.4" y1="566.5" x2="208.4" y2="676.6" stroke="#2a2a2a" stroke-width="1.3"/>
<line x1="313" y1="566.5" x2="313" y2="676.6" stroke="#6a6a6a" stroke-width="1.25"/>
<line x1="208.4" y1="676.6" x2="313" y2="676.6" stroke="#888" stroke-width="1"/>
<line x1="211.538" y1="676.6" x2="211.538" y2="678.8000000000001" stroke="#999" stroke-width="0.7"/>
<line x1="220.952" y1="676.6" x2="220.952" y2="678.8000000000001" stroke="#999" stroke-width="0.7"/>
<line x1="229.32" y1="676.6" x2="229.32" y2="678.8000000000001" stroke="#999" stroke-width="0.7"/>
<line x1="239.78" y1="676.6" x2="239.78" y2="678.8000000000001" stroke="#999" stroke-width="0.7"/>
<line x1="252.332" y1="676.6" x2="252.332" y2="678.8000000000001" stroke="#999" stroke-width="0.7"/>
<line x1="265.93" y1="676.6" x2="265.93" y2="678.8000000000001" stroke="#999" stroke-width="0.7"/>
<line x1="274.298" y1="676.6" x2="274.298" y2="678.8000000000001" stroke="#999" stroke-width="0.7"/>
<line x1="283.712" y1="676.6" x2="283.712" y2="678.8000000000001" stroke="#999" stroke-width="0.7"/>
<line x1="292.08000000000004" y1="676.6" x2="292.08000000000004" y2="678.8000000000001" stroke="#999" stroke-width="0.7"/>
<line x1="302.54" y1="676.6" x2="302.54" y2="678.8000000000001" stroke="#999" stroke-width="0.7"/>
<g clip-path="url(#h1)">
<path d="M72.3 506.5 L72.3 505.8 L75.2 498.5 L78.3 491.3 L80.3 485.6 L81.9 486.1 L83.4 483.0 L84.5 463.4 L85.5 445.0 L86.5 426.0 L87.5 412.0 L88.4 403.8 L89.3 408.0 L90.1 415.7 L91.5 420.0 L92.5 428.0 L93.5 440.0 L94.3 450.0 L94.8 460.3 L96.3 476.9 L97.9 485.1 L100.0 490.8 L103.0 494.4 L105.1 500.6 L107.2 503.7 L110.3 505.8 L112.0 506.5Z" fill="#ababab"/>
<path d="M72.3 505.8C72.7 503.9 73.7 499.9 74.6 495.4C75.5 490.9 76.4 484.7 77.2 481.0C78.0 477.3 78.5 476.9 79.3 474.8C80.1 472.7 80.7 471.7 81.4 469.6C82.1 467.5 82.8 465.8 83.4 463.4C84.0 461.0 84.1 460.7 84.5 456.2C84.9 451.7 85.1 442.0 85.5 438.4C85.9 434.8 86.1 435.8 86.5 436.3C86.9 436.8 87.2 442.3 87.6 441.0C88.0 439.7 88.2 432.7 88.6 429.1C89.0 425.5 89.2 422.6 89.6 420.8C90.0 419.0 90.3 421.2 90.7 419.3C91.1 417.4 91.4 413.2 91.7 410.5C92.0 407.8 92.0 405.3 92.2 404.3C92.4 403.3 92.6 402.4 92.9 404.8C93.2 407.2 93.5 412.0 93.8 417.7C94.1 423.4 94.5 430.0 94.8 436.3C95.1 442.6 95.2 449.0 95.5 452.8C95.8 456.6 96.0 457.0 96.3 457.2C96.6 457.4 96.7 453.2 96.9 454.1C97.1 455.0 97.1 459.1 97.4 462.4C97.7 465.7 97.9 469.4 98.4 472.7C98.9 476.0 99.4 478.4 100.0 481.0C100.6 483.6 101.2 485.1 102.0 487.2C102.8 489.3 103.9 492.5 104.6 492.9C105.3 493.3 105.5 491.0 106.1 489.2C106.7 487.4 107.1 484.3 107.7 483.0C108.3 481.7 108.6 481.6 109.2 482.0C109.8 482.4 110.2 485.7 110.8 485.1C111.4 484.5 111.7 480.3 112.3 478.9C112.9 477.5 113.2 477.2 113.9 477.4C114.6 477.6 115.2 479.0 116.0 480.0C116.8 481.0 117.7 482.5 118.5 483.0C119.3 483.5 119.9 484.7 120.6 483.0C121.3 481.3 121.7 476.5 122.2 473.8C122.7 471.1 122.9 468.7 123.3 468.1C123.7 467.5 124.1 468.6 124.6 470.7C125.1 472.8 125.7 476.9 126.2 480.0C126.7 483.1 126.7 487.3 127.2 488.2C127.7 489.1 128.3 486.3 128.8 485.1C129.3 483.9 129.4 481.7 129.8 481.5C130.2 481.3 130.3 482.5 130.8 484.1C131.3 485.7 131.7 488.6 132.4 490.3C133.1 492.0 133.9 492.5 134.5 493.4C135.1 494.3 135.4 494.1 136.0 495.4C136.6 496.7 137.0 498.8 137.6 500.6C138.2 502.4 138.5 504.3 139.1 505.3C139.7 506.3 140.0 506.0 140.7 506.2C141.4 506.4 141.9 506.3 143.0 506.3C144.1 506.3 145.7 506.6 146.9 506.3C148.1 506.0 148.6 505.2 149.4 504.7C150.2 504.2 150.7 503.5 151.5 503.5C152.3 503.5 152.9 504.2 153.6 504.7C154.3 505.2 151.3 506.0 155.6 506.3C159.9 506.6 173.6 506.3 177.5 506.3" fill="none" stroke="#111" stroke-width="2.05" stroke-linejoin="round"/>
</g>
<g clip-path="url(#h2)">
<path d="M207.9 506.6 L207.9 503.5 L211.4 497.3 L214.5 483.8 L217.6 465.2 L219.5 446.0 L220.7 438.4 L223.1 432.2 L224.3 436.0 L225.8 418.0 L226.6 412.0 L227.5 420.0 L228.9 440.0 L230.0 461.1 L232.0 479.7 L235.1 492.1 L238.2 498.3 L241.3 502.4 L245.5 505.5 L249.6 506.6Z" fill="#ababab"/>
<path d="M207.9 503.5C208.3 502.9 209.4 502.8 210.3 500.4C211.2 498.0 212.0 494.1 212.8 490.0C213.6 485.9 214.2 481.7 214.9 477.6C215.6 473.5 215.8 469.5 216.5 467.3C217.2 465.1 218.0 468.5 218.6 465.2C219.2 461.9 219.4 454.5 220.0 448.7C220.6 442.9 221.2 436.3 221.7 433.2C222.2 430.1 222.3 430.3 222.7 431.2C223.1 432.1 223.4 438.6 223.8 438.4C224.2 438.2 224.4 435.3 224.8 430.1C225.2 424.9 225.5 414.1 225.8 409.5C226.1 404.9 226.1 404.3 226.4 404.3C226.7 404.3 226.9 405.6 227.3 409.5C227.7 413.4 228.0 418.2 228.5 426.0C229.0 433.8 229.5 444.7 230.0 452.9C230.5 461.1 230.8 466.2 231.4 471.4C232.0 476.6 232.4 478.8 233.1 481.8C233.8 484.8 234.2 486.1 235.1 488.0C236.0 489.9 237.1 491.0 238.2 492.1C239.3 493.2 240.2 493.1 241.3 494.2C242.4 495.3 243.5 497.7 244.4 498.3C245.3 498.9 245.6 497.9 246.5 497.3C247.4 496.7 248.7 494.8 249.6 495.2C250.5 495.6 250.8 498.9 251.7 499.3C252.6 499.7 253.6 499.2 254.8 497.3C256.0 495.4 257.4 489.6 258.5 489.0C259.6 488.4 260.0 492.5 261.0 494.2C262.0 495.9 262.9 497.4 264.0 498.3C265.1 499.2 265.8 498.7 267.1 499.3C268.4 499.9 269.8 500.8 271.3 501.4C272.8 502.0 273.7 501.8 275.4 502.4C277.1 503.0 278.5 503.9 280.6 504.5C282.7 505.1 284.6 505.2 286.8 505.5C289.0 505.8 290.6 506.1 293.0 506.3C295.4 506.5 296.6 506.4 300.0 506.4C303.4 506.4 309.8 506.4 312.0 506.4" fill="none" stroke="#111" stroke-width="2.05" stroke-linejoin="round"/>
</g>
<g clip-path="url(#h3)">
<path d="M74.4 675.8 L74.4 674.8 L78.0 672.0 L81.9 670.8 L84.5 660.0 L85.8 647.1 L87.2 660.0 L88.8 670.8 L91.8 662.9 L94.7 643.1 L96.5 615.0 L97.7 585.7 L99.3 615.4 L100.5 590.0 L101.7 569.9 L109.6 569.9 L111.6 579.8 L113.5 571.9 L115.5 599.6 L117.5 643.1 L119.5 645.1 L121.1 637.2 L122.5 662.9 L125.4 670.8 L129.4 674.8 L131.0 675.8Z" fill="#ababab"/>
<path d="M73.6 655.0C74.0 656.8 74.9 662.2 75.9 664.9C76.9 667.6 77.8 669.0 78.9 669.9C80.0 670.8 80.8 670.6 81.9 669.9C83.0 669.2 83.9 667.7 84.8 665.9C85.7 664.1 86.1 660.2 86.8 660.0C87.5 659.8 88.1 662.6 88.8 664.9C89.5 667.2 90.1 674.9 90.8 672.8C91.5 670.7 92.3 658.3 92.8 653.0C93.3 647.7 93.3 642.7 93.8 643.1C94.2 643.5 94.6 656.4 95.3 655.0C96.0 653.6 97.0 640.5 97.7 635.2C98.4 629.9 98.7 623.9 99.3 625.3C99.9 626.7 100.6 642.7 101.3 643.1C102.0 643.5 102.6 633.0 103.3 627.3C104.0 621.6 104.6 614.7 105.2 611.5C105.8 608.3 106.1 608.8 106.6 609.5C107.1 610.2 107.5 616.8 108.0 615.4C108.5 614.0 109.0 600.2 109.6 601.6C110.2 603.0 110.9 624.7 111.6 623.3C112.3 621.9 113.0 601.6 113.5 593.6C114.0 585.6 114.0 578.3 114.5 578.8C115.0 579.3 116.0 598.5 116.5 596.6C117.0 594.7 116.3 573.4 117.5 568.3C118.7 563.2 122.0 564.4 123.4 568.3C124.8 572.2 124.7 581.2 125.4 589.7C126.1 598.2 126.9 609.4 127.4 615.4C127.9 621.4 128.0 623.3 128.4 623.3C128.8 623.3 129.0 617.2 129.4 615.4C129.8 613.6 130.0 611.7 130.4 613.5C130.8 615.3 131.0 618.5 131.4 625.3C131.8 632.0 131.9 645.5 132.4 651.0C132.9 656.5 133.6 653.5 134.3 656.0C135.0 658.5 135.7 662.1 136.3 664.9C136.9 667.7 137.1 669.6 137.6 671.5C138.1 673.4 138.4 674.5 139.0 675.2C139.6 675.9 139.0 675.4 141.0 675.4C143.0 675.4 143.5 675.4 150.0 675.4C156.5 675.4 172.1 675.4 177.0 675.4" fill="none" stroke="#111" stroke-width="2.05" stroke-linejoin="round"/>
</g>
<g clip-path="url(#h4)">
<path d="M209.4 675.8 L209.4 659.0 L211.9 670.8 L215.9 643.1 L219.3 608.5 L221.8 627.3 L223.8 627.3 L225.8 631.3 L227.8 615.4 L230.7 607.5 L234.3 568.9 L236.7 591.7 L239.0 589.7 L240.6 623.3 L243.6 643.1 L245.6 647.1 L248.5 659.0 L252.5 662.9 L255.5 671.8 L258.4 675.8 L274.5 675.8 L276.3 670.8 L278.0 675.8 L284.5 675.8 L286.2 670.8 L288.0 675.8Z" fill="#ababab"/>
<path d="M208.6 613.4C208.9 620.9 209.4 644.8 210.0 655.0C210.6 665.2 211.0 667.8 211.9 669.9C212.8 672.0 214.0 668.9 214.9 666.9C215.8 664.9 216.2 663.3 216.9 659.0C217.6 654.7 218.2 649.2 218.9 643.1C219.6 637.0 220.2 629.6 220.8 625.3C221.4 621.0 221.9 619.4 222.4 619.4C222.9 619.4 223.2 626.5 223.8 625.3C224.4 624.1 225.1 612.9 225.8 612.5C226.5 612.1 227.1 625.3 227.8 623.3C228.5 621.3 229.0 605.9 229.7 601.6C230.4 597.3 231.0 602.3 231.7 599.6C232.4 596.9 233.0 586.7 233.7 586.7C234.4 586.7 235.0 596.2 235.7 599.6C236.4 603.0 237.0 609.8 237.7 605.5C238.4 601.2 238.9 575.1 239.6 575.8C240.3 576.5 240.9 596.7 241.6 609.5C242.3 622.3 242.7 648.0 243.6 647.1C244.5 646.2 245.5 605.9 246.6 604.5C247.7 603.1 248.6 634.0 249.5 639.2C250.4 644.4 250.8 630.7 251.5 633.2C252.2 635.7 252.7 649.4 253.5 653.0C254.3 656.6 255.3 650.5 256.1 653.0C256.9 655.5 257.2 663.3 258.0 666.9C258.8 670.5 259.6 672.3 260.4 672.8C261.2 673.3 261.7 670.1 262.4 669.9C263.1 669.7 263.3 672.7 264.4 671.8C265.5 670.9 267.2 665.1 268.3 664.9C269.4 664.7 269.7 669.1 270.3 670.8C270.9 672.5 271.2 673.5 271.8 674.3C272.4 675.1 272.0 675.1 273.5 675.3C275.0 675.5 273.2 675.3 280.0 675.3C286.8 675.3 305.8 675.3 311.5 675.3" fill="none" stroke="#111" stroke-width="2.05" stroke-linejoin="round"/>
</g>
<line x1="103.8" y1="448.5" x2="177.8" y2="448.5" stroke="#666" stroke-width="1.35"/>
<line x1="103.8" y1="446.1" x2="103.8" y2="450.9" stroke="#222" stroke-width="1.4"/>
<line x1="177.4" y1="446.1" x2="177.4" y2="450.9" stroke="#111" stroke-width="1.6"/>
<line x1="238.3" y1="448" x2="312.4" y2="448" stroke="#666" stroke-width="1.35"/>
<line x1="238.3" y1="445.6" x2="238.3" y2="450.4" stroke="#222" stroke-width="1.4"/>
<line x1="312.0" y1="445.6" x2="312.0" y2="450.4" stroke="#111" stroke-width="1.6"/>
<line x1="122.6" y1="618.4" x2="177.6" y2="618.4" stroke="#666" stroke-width="1.35"/>
<line x1="122.6" y1="616.0" x2="122.6" y2="620.8" stroke="#222" stroke-width="1.4"/>
<line x1="177.2" y1="616.0" x2="177.2" y2="620.8" stroke="#111" stroke-width="1.6"/>
<line x1="257.5" y1="618.8" x2="312.2" y2="618.8" stroke="#666" stroke-width="1.35"/>
<line x1="257.5" y1="616.4" x2="257.5" y2="621.1999999999999" stroke="#222" stroke-width="1.4"/>
<line x1="311.8" y1="616.4" x2="311.8" y2="621.1999999999999" stroke="#111" stroke-width="1.6"/>
<text x="157.1" y="442.6" font-size="15.6" font-weight="normal" text-anchor="start" fill="#1a1a1a">36</text>
<text x="293.4" y="442.6" font-size="15.6" font-weight="normal" text-anchor="start" fill="#1a1a1a">22</text>
<text x="156.7" y="614.4" font-size="15.6" font-weight="normal" text-anchor="start" fill="#1a1a1a">29</text>
<text x="298.4" y="613.8" font-size="15.6" font-weight="normal" text-anchor="start" fill="#1a1a1a">4</text>
<text x="129.2" y="525.7" font-size="17" font-weight="normal" text-anchor="middle" fill="#1a1a1a">IL-5</text>
<text x="260.9" y="527.1" font-size="17" font-weight="normal" text-anchor="middle" fill="#1a1a1a">IL-5</text>
<text x="129.2" y="694.1" font-size="17" font-weight="normal" text-anchor="middle" fill="#1a1a1a">IL-13</text>
<text x="260.1" y="694.4" font-size="17" font-weight="normal" text-anchor="middle" fill="#1a1a1a">IL-13</text>
<line x1="402.4" y1="381" x2="402.4" y2="508.0" stroke="#1a1a1a" stroke-width="1.7"/>
<line x1="401.54999999999995" y1="507.2" x2="489.5" y2="507.2" stroke="#1a1a1a" stroke-width="1.7"/>
<line x1="398.4" y1="381" x2="402.4" y2="381" stroke="#1a1a1a" stroke-width="1.5"/>
<text x="397.09999999999997" y="387.7" font-size="13.4" font-weight="bold" text-anchor="end" fill="#1a1a1a">1.5</text>
<line x1="398.4" y1="423.5" x2="402.4" y2="423.5" stroke="#1a1a1a" stroke-width="1.5"/>
<text x="397.09999999999997" y="430.2" font-size="13.4" font-weight="bold" text-anchor="end" fill="#1a1a1a">1.0</text>
<line x1="398.4" y1="466.2" x2="402.4" y2="466.2" stroke="#1a1a1a" stroke-width="1.5"/>
<text x="397.09999999999997" y="472.9" font-size="13.4" font-weight="bold" text-anchor="end" fill="#1a1a1a">0.5</text>
<line x1="424.2" y1="507.2" x2="424.2" y2="510.7" stroke="#1a1a1a" stroke-width="1.5"/>
<line x1="466" y1="507.2" x2="466" y2="510.7" stroke="#1a1a1a" stroke-width="1.5"/>
<line x1="402.4" y1="423.5" x2="488" y2="423.5" stroke="#1a1a1a" stroke-width="2" stroke-dasharray="4.6 3.4"/>
<text x="401.6" y="525" font-size="14.2" font-weight="normal" text-anchor="start" fill="#1a1a1a">Papain</text>
<text x="449.5" y="525" font-size="14.1" font-weight="normal" text-anchor="start" fill="#1a1a1a">IL-25</text>
<circle cx="414.3" cy="437" r="3.05" fill="#1a1a1a"/>
<circle cx="423" cy="444" r="3.05" fill="#1a1a1a"/>
<circle cx="432.4" cy="441" r="3.05" fill="#1a1a1a"/>
<circle cx="414.3" cy="456" r="3.05" fill="#1a1a1a"/>
<circle cx="423" cy="464.7" r="3.05" fill="#1a1a1a"/>
<circle cx="423" cy="477.9" r="3.05" fill="#1a1a1a"/>
<circle cx="455.8" cy="439.6" r="3.05" fill="#1a1a1a"/>
<circle cx="455.8" cy="444" r="3.05" fill="#1a1a1a"/>
<circle cx="465.2" cy="443.4" r="3.05" fill="#1a1a1a"/>
<circle cx="475.4" cy="442.5" r="3.05" fill="#1a1a1a"/>
<circle cx="455.8" cy="454.2" r="3.05" fill="#1a1a1a"/>
<circle cx="465.2" cy="462.4" r="3.05" fill="#1a1a1a"/>
<circle cx="475.4" cy="461.8" r="3.05" fill="#1a1a1a"/>
<line x1="407.5" y1="453.6" x2="438.2" y2="453.6" stroke="#1a1a1a" stroke-width="1.8"/>
<line x1="450" y1="449.8" x2="480.7" y2="449.8" stroke="#1a1a1a" stroke-width="1.8"/>
<text x="423.6" y="421.5" font-size="26" font-weight="bold" text-anchor="middle" fill="#1a1a1a">**</text>
<text x="465.2" y="421.5" font-size="26" font-weight="bold" text-anchor="middle" fill="#1a1a1a">***</text>
<text x="354" y="445.7" font-size="16" font-weight="normal" text-anchor="middle" fill="#1a1a1a" transform="rotate(-90 354 445.7)">ratio of KO:WT</text>
<text x="369.2" y="444.7" font-size="15.3" font-weight="normal" text-anchor="middle" fill="#1a1a1a" transform="rotate(-90 369.2 444.7)">IL-5+ ILC2s</text>
<line x1="403.8" y1="551.4" x2="403.8" y2="681.6999999999999" stroke="#1a1a1a" stroke-width="1.7"/>
<line x1="402.95" y1="680.9" x2="490.8" y2="680.9" stroke="#1a1a1a" stroke-width="1.7"/>
<line x1="399.8" y1="551.4" x2="403.8" y2="551.4" stroke="#1a1a1a" stroke-width="1.5"/>
<text x="398.3" y="558.9" font-size="13.7" font-weight="bold" text-anchor="end" fill="#1a1a1a">1.5</text>
<line x1="399.8" y1="595.2" x2="403.8" y2="595.2" stroke="#1a1a1a" stroke-width="1.5"/>
<text x="398.3" y="602.7" font-size="13.7" font-weight="bold" text-anchor="end" fill="#1a1a1a">1.0</text>
<line x1="399.8" y1="638.4" x2="403.8" y2="638.4" stroke="#1a1a1a" stroke-width="1.5"/>
<text x="398.3" y="645.9" font-size="13.7" font-weight="bold" text-anchor="end" fill="#1a1a1a">0.5</text>
<line x1="426.5" y1="680.9" x2="426.5" y2="684.4" stroke="#1a1a1a" stroke-width="1.5"/>
<line x1="469" y1="680.9" x2="469" y2="684.4" stroke="#1a1a1a" stroke-width="1.5"/>
<line x1="403.8" y1="595.4" x2="491" y2="595.4" stroke="#1a1a1a" stroke-width="2" stroke-dasharray="4.6 3.4"/>
<text x="403.7" y="699.9" font-size="14.6" font-weight="normal" text-anchor="start" fill="#1a1a1a">Papain</text>
<text x="452.9" y="699.9" font-size="14.4" font-weight="normal" text-anchor="start" fill="#1a1a1a">IL-25</text>
<circle cx="415.7" cy="622.2" r="3.05" fill="#1a1a1a"/>
<circle cx="426" cy="613.4" r="3.05" fill="#1a1a1a"/>
<circle cx="426" cy="631.5" r="3.05" fill="#1a1a1a"/>
<circle cx="435.9" cy="631.5" r="3.05" fill="#1a1a1a"/>
<circle cx="459.6" cy="630.1" r="3.05" fill="#1a1a1a"/>
<circle cx="469.8" cy="615.5" r="3.05" fill="#1a1a1a"/>
<circle cx="469.8" cy="635" r="3.05" fill="#1a1a1a"/>
<circle cx="469.8" cy="651.2" r="3.05" fill="#1a1a1a"/>
<line x1="410.5" y1="624.2" x2="433" y2="624.2" stroke="#1a1a1a" stroke-width="1.8"/>
<line x1="454.3" y1="632.1" x2="484.5" y2="632.1" stroke="#1a1a1a" stroke-width="1.8"/>
<text x="425.8" y="595" font-size="26" font-weight="bold" text-anchor="middle" fill="#1a1a1a">**</text>
<text x="469.3" y="595" font-size="26" font-weight="bold" text-anchor="middle" fill="#1a1a1a">*</text>
<text x="352.3" y="617.4" font-size="16" font-weight="normal" text-anchor="middle" fill="#1a1a1a" transform="rotate(-90 352.3 617.4)">ratio of KO:WT</text>
<text x="369.2" y="615.3" font-size="15.3" font-weight="normal" text-anchor="middle" fill="#1a1a1a" transform="rotate(-90 369.2 615.3)">IL-13+ ILC2s</text>
</svg>
</body></html>
